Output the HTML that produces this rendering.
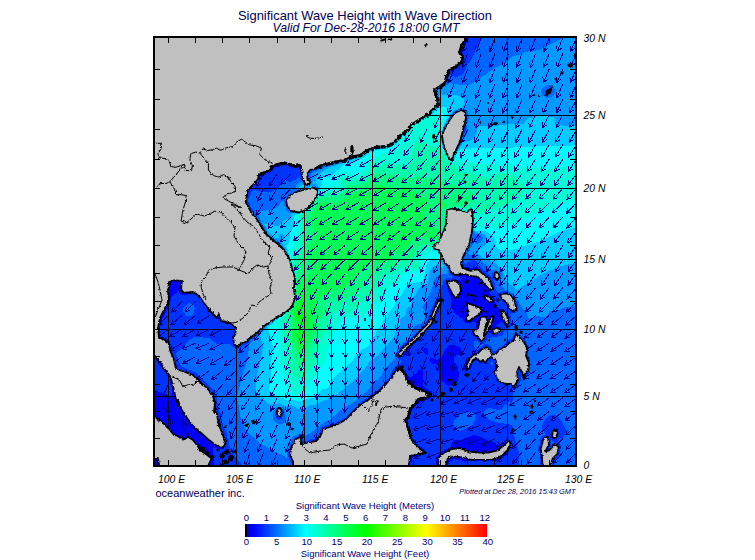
<!DOCTYPE html><html><head><meta charset="utf-8"><title>Significant Wave Height with Wave Direction</title><style>html,body{margin:0;padding:0;background:#fff;width:755px;height:560px;overflow:hidden}</style></head><body><svg width="755" height="560" viewBox="0 0 755 560" style="position:absolute;left:0;top:0">
<defs><linearGradient id="cb" x1="0" x2="1" y1="0" y2="0"><stop offset="0.0000" stop-color="#0000c8"/><stop offset="0.0375" stop-color="#0000ff"/><stop offset="0.2500" stop-color="#00ffff"/><stop offset="0.5000" stop-color="#00ff00"/><stop offset="0.7500" stop-color="#ffff00"/><stop offset="1.0000" stop-color="#ff0000"/></linearGradient><filter id="jag" color-interpolation-filters="sRGB" x="0" y="0" width="755" height="560" filterUnits="userSpaceOnUse"><feTurbulence type="fractalNoise" baseFrequency="0.4" numOctaves="2" seed="3" result="n"/><feDisplacementMap in="SourceGraphic" in2="n" scale="3.0" xChannelSelector="R" yChannelSelector="G"/></filter><clipPath id="mc"><rect x="155" y="38" width="420" height="427"/></clipPath></defs>
<rect width="755" height="560" fill="#fff"/>
<g clip-path="url(#mc)">
<g shape-rendering="crispEdges"><rect x="155" y="38" width="420" height="427" fill="#0000cd"/>
<path fill="#0000ff" d="M157,38 159,38 161,38 163,38 165,38 167,38 169,38 171,38 173,38 175,38 177,38 179,38 181,38 183,38 185,38 187,38 189,38 191,38 193,38 195,38 197,38 199,38 201,38 203,38 205,38 207,38 209,38 211,38 213,38 215,38 217,38 219,38 221,38 223,38 225,38 227,38 229,38 231,38 233,38 235,38 237,38 239,38 241,38 243,38 245,38 247,38 249,38 251,38 253,38 255,38 257,38 259,38 261,38 263,38 265,38 267,38 269,38 271,38 273,38 275,38 277,38 279,38 281,38 283,38 285,38 287,38 289,38 291,38 293,38 295,38 297,38 299,38 301,38 303,38 305,38 307,38 309,38 311,38 313,38 315,38 317,38 319,38 321,38 323,38 325,38 327,38 329,38 331,38 333,38 335,38 337,38 339,38 341,38 343,38 345,38 347,38 349,38 351,38 353,38 355,38 357,38 359,38 361,38 363,38 365,38 367,38 369,38 371,38 373,38 375,38 377,38 379,38 381,38 383,38 385,38 387,38 389,38 391,38 393,38 395,38 397,38 399,38 401,38 403,38 405,38 407,38 409,38 411,38 413,38 415,38 417,38 419,38 421,38 423,38 425,38 427,38 429,38 431,38 433,38 435,38 437,38 439,38 441,38 443,38 445,38 447,38 449,38 451,38 453,38 455,38 457,38 459,38 461,38 463,38 465,38 467,38 469,38 471,38 473,38 475,38 477,38 479,38 481,38 483,38 485,38 487,38 489,38 491,38 493,38 495,38 497,38 499,38 501,38 503,38 505,38 507,38 509,38 511,38 513,38 515,38 517,38 519,38 521,38 523,38 525,38 527,38 529,38 531,38 533,38 535,38 537,38 539,38 541,38 543,38 545,38 547,38 549,38 551,38 553,38 555,38 557,38 559,38 561,38 563,38 565,38 567,38 569,38 571,38 573,38 575,38 575,40 575,42 575,44 575,46 575,48 575,50 575,52 575,54 575,56 575,58 575,60 575,62 575,64 575,66 575,68 575,70 575,72 575,74 575,76 575,78 575,80 575,82 575,84 575,86 575,88 575,90 575,92 575,94 575,96 575,98 575,100 575,102 575,104 575,106 575,108 575,110 575,112 575,114 575,116 575,118 575,120 575,122 575,124 575,126 575,128 575,130 575,132 575,134 575,136 575,138 575,140 575,142 575,144 575,146 575,148 575,150 575,152 575,154 575,156 575,158 575,160 575,162 575,164 575,166 575,168 575,170 575,172 575,174 575,176 575,178 575,180 575,182 575,184 575,186 575,188 575,190 575,192 575,194 575,196 575,198 575,200 575,202 575,204 575,206 575,208 575,210 575,212 575,214 575,216 575,218 575,220 575,222 575,224 575,226 575,228 575,230 575,232 575,234 575,236 575,238 575,240 575,242 575,244 575,246 575,248 575,250 575,252 575,254 575,256 575,258 575,260 575,262 575,264 575,266 575,268 575,270 575,272 575,274 575,276 575,278 575,280 575,282 575,284 575,286 575,288 575,290 575,292 575,294 575,296 575,298 575,300 575,302 575,304 575,306 575,308 575,310 575,312 575,314 575,316 575,318 575,320 575,322 575,324 575,326 575,328 575,330 575,332 575,334 575,336 575,338 575,340 575,342 575,344 575,346 575,348 575,350 575,352 575,354 575,356 575,358 575,360 575,362 575,364 575,366 575,368 575,370 575,372 575,374 575,376 575,378 575,380 575,382 575,384 575,386 575,388 575,390 575,392 575,394 575,396 575,398 575,400 575,402 575,404 575,406 575,408 575,410 575,412 575,414 575,416 575,418 575,420 575,422 575,424 575,426 575,428 575,430 575,432 575,434 575,436 575,438 575,440 575,442 575,444 575,446 575,448 575,450 575,452 575,454 575,456 575,458 575,460 575,462 575,464 575,466 573,466 571,466 569,466 567,466 565,466 563,466 561,466 559,466 557,466 555,466 553,466 551,466 549,466 547,466 545,466 543,466 541,466 539,466 537,466 535,466 533,466 531,466 529,466 527,466 525,466 523,466 521,466 519,466 517,466 515,466 513,466 511,466 509,466 507,466 505,466 503,466 501,466 499,466 497,466 495,466 493,466 491,466 489,466 487,466 485,466 483,466 481,466 479,466 477,466 475,466 473,466 471,466 469,466 467,466 465,466 463,466 461,466 459,466 457,466 455,466 453,466 451,466 449,466 447,466 445,466 443,466 441,466 439,466 437,466 435,466 433,466 431,466 429,466 427,466 425,466 423,466 421,466 419,466 417,466 415,466 413,466 411,466 409,466 407,466 405,466 403,466 401,466 399,466 397,466 395,466 393,466 391,466 389,466 387,466 385,466 383,466 381,466 379,466 377,466 375,466 373,466 371,466 369,466 367,466 365,466 363,466 361,466 359,466 357,466 355,466 353,466 351,466 349,466 347,466 345,466 343,466 341,466 339,466 337,466 335,466 333,466 331,466 329,466 327,466 325,466 323,466 321,466 319,466 317,466 315,466 313,466 311,466 309,466 307,466 305,466 303,466 301,466 299,466 297,466 295,466 293,466 291,466 289,466 287,466 285,466 283,466 281,466 279,466 277,466 275,466 273,466 271,466 269,466 267,466 265,466 263,466 261,466 259,466 257,466 255,466 253,466 251,466 249,466 247,466 245,466 243,466 241,466 239,466 237,466 235,466 233,466 231,466 229,466 227,466 225,466 223,466 221,466 219,466 217,466 215,466 213,466 211,466 209,466 207,466 205,466 203,466 201,466 199,466 197,466 195,466 193,466 191,466 189,466 187,466 185,466 183,466 181,466 179,466 177,466 175,466 173,466 171,466 169,466 167,466 165,466 163,466 161,466 159,466 157,466 155,466 155,464 155,462 155,460 155,458 155,456 155,454 155,452 155,450 155,448 155,446 155,444 155,442 155,440 155,438 155,436 155,434 155,432 155,430 155,428 155,426 155,424 155,422 155,420 155,418 155,416 155,414 155,412 155,410 155,408 155,406 155,404 155,402 155,400 155,398 155,396 155,394 155,392 155,390 155,388 155,386 155,384 155,382 155,380 155,378 155,376 155,374 155,372 155,370 155,368 155,366 155,364 155,362 155,360 155,358 155,356 155,354 155,352 155,350 155,348 155,346 155,344 155,342 155,340 155,338 155,336 155,334 155,332 155,330 155,328 155,326 155,324 155,322 155,320 155,318 155,316 155,314 155,312 155,310 155,308 155,306 155,304 155,302 155,300 155,298 155,296 155,294 155,292 155,290 155,288 155,286 155,284 155,282 155,280 155,278 155,276 155,274 155,272 155,270 155,268 155,266 155,264 155,262 155,260 155,258 155,256 155,254 155,252 155,250 155,248 155,246 155,244 155,242 155,240 155,238 155,236 155,234 155,232 155,230 155,228 155,226 155,224 155,222 155,220 155,218 155,216 155,214 155,212 155,210 155,208 155,206 155,204 155,202 155,200 155,198 155,196 155,194 155,192 155,190 155,188 155,186 155,184 155,182 155,180 155,178 155,176 155,174 155,172 155,170 155,168 155,166 155,164 155,162 155,160 155,158 155,156 155,154 155,152 155,150 155,148 155,146 155,144 155,142 155,140 155,138 155,136 155,134 155,132 155,130 155,128 155,126 155,124 155,122 155,120 155,118 155,116 155,114 155,112 155,110 155,108 155,106 155,104 155,102 155,100 155,98 155,96 155,94 155,92 155,90 155,88 155,86 155,84 155,82 155,80 155,78 155,76 155,74 155,72 155,70 155,68 155,66 155,64 155,62 155,60 155,58 155,56 155,54 155,52 155,50 155,48 155,46 155,44 155,42 155,40 155,38Z"/>
<path fill="#0033ff" d="M339,40 341,38 341,38 343,38 345,38 347,38 349,38 351,38 353,38 355,38 357,38 359,38 361,38 363,38 365,38 367,38 369,38 371,38 373,38 375,38 377,38 379,38 381,38 383,38 385,38 387,38 389,38 391,38 393,38 395,38 397,38 399,38 401,38 403,38 405,38 407,38 409,38 411,38 413,38 415,38 417,38 419,38 421,38 423,38 425,38 427,38 429,38 431,38 433,38 435,38 437,38 439,38 441,38 443,38 445,38 447,38 449,38 451,38 453,38 455,38 457,38 459,38 461,38 463,38 465,38 466,38 465,39 464,40 464,42 463,43 462,44 461,45 460,46 460,48 460,50 460,52 460,54 461,55 462,56 462,58 462,60 463,61 463,60 464,58 464,56 463,54 463,54 462,52 462,50 462,48 463,46 463,46 465,44 465,44 466,42 467,40 467,40 468,38 469,38 471,38 473,38 475,38 477,38 479,38 481,38 483,38 485,38 487,38 489,38 491,38 493,38 495,38 497,38 499,38 501,38 503,38 505,38 507,38 509,38 511,38 513,38 515,38 517,38 519,38 521,38 523,38 525,38 527,38 529,38 531,38 533,38 535,38 537,38 539,38 541,38 543,38 545,38 547,38 549,38 551,38 553,38 555,38 557,38 559,38 561,38 563,38 565,38 567,38 569,38 571,38 573,38 575,38 575,40 575,42 575,44 575,46 575,48 575,50 575,52 575,54 575,56 575,58 575,60 575,62 575,64 575,66 575,68 575,70 575,72 575,74 575,76 575,78 575,80 575,82 575,84 575,86 575,88 575,90 575,92 575,94 575,96 575,98 575,100 575,102 575,104 575,106 575,108 575,110 575,112 575,114 575,116 575,118 575,120 575,122 575,124 575,126 575,128 575,130 575,132 575,134 575,136 575,138 575,140 575,142 575,144 575,146 575,148 575,150 575,152 575,154 575,156 575,158 575,160 575,162 575,164 575,166 575,168 575,170 575,172 575,174 575,176 575,178 575,180 575,182 575,184 575,186 575,188 575,190 575,192 575,194 575,196 575,198 575,200 575,202 575,204 575,206 575,208 575,210 575,212 575,214 575,216 575,218 575,220 575,222 575,224 575,226 575,228 575,230 575,232 575,234 575,236 575,238 575,240 575,242 575,244 575,246 575,248 575,250 575,252 575,254 575,256 575,258 575,260 575,262 575,264 575,266 575,268 575,270 575,272 575,274 575,276 575,278 575,280 575,282 575,284 575,286 575,288 575,290 575,292 575,294 575,296 575,298 575,300 575,302 575,304 575,306 575,308 575,310 575,312 575,314 575,316 575,318 575,320 575,322 575,324 575,326 575,328 575,330 575,332 575,334 575,336 575,338 575,340 575,342 575,344 575,346 575,348 575,350 575,352 575,354 575,356 575,358 575,360 575,362 575,364 575,366 575,368 575,370 575,372 575,374 575,376 575,378 575,380 575,382 575,384 575,386 575,388 575,390 575,392 575,394 575,396 575,398 575,400 575,402 575,404 575,406 575,408 575,410 575,412 575,414 575,416 575,418 575,420 575,422 575,424 575,426 575,428 575,430 575,432 575,434 575,436 575,438 575,440 575,442 575,444 575,446 575,448 575,450 575,452 575,454 575,456 575,458 575,460 575,462 575,464 575,466 573,466 571,466 569,466 567,466 565,466 563,466 561,466 559,466 557,466 555,466 553,466 551,466 549,466 547,466 545,466 543,466 541,466 539,466 537,466 535,466 533,466 531,466 529,466 527,466 525,466 523,466 521,466 519,466 517,466 515,466 513,466 511,466 509,466 507,466 505,466 503,466 501,466 499,466 497,466 495,466 493,466 491,466 489,466 487,466 485,466 483,466 481,466 479,466 477,466 475,466 473,466 471,466 469,466 467,466 465,466 463,466 461,466 459,466 457,466 455,466 453,466 451,466 449,466 448,466 448,464 449,462 449,462 451,461 452,460 453,459 455,459 457,460 459,460 461,460 461,460 463,461 465,462 467,461 469,461 471,461 473,461 475,461 477,461 479,461 481,461 483,461 485,461 487,461 489,461 491,461 493,461 495,461 497,461 499,461 500,460 501,458 501,458 503,457 505,456 505,456 507,454 507,454 508,452 507,451 506,452 505,453 504,454 503,455 501,455 500,456 499,457 498,458 497,459 495,458 493,458 491,458 489,458 487,458 485,458 483,458 481,458 479,458 477,458 475,458 473,458 471,458 469,458 467,458 465,458 465,458 465,457 467,457 469,457 471,457 473,456 475,456 477,456 479,456 481,456 483,457 485,457 487,457 489,457 491,456 492,456 493,456 495,454 495,454 496,452 497,452 499,450 499,450 500,448 501,447 502,446 503,445 505,445 506,444 505,443 503,443 501,444 500,444 499,445 497,446 497,446 497,446 496,444 495,443 493,442 493,442 491,441 489,441 487,440 486,440 485,439 483,438 482,438 481,437 479,436 478,436 477,436 475,435 473,435 471,436 470,436 469,437 467,437 466,438 465,438 463,439 461,440 459,440 457,440 455,440 455,440 453,441 452,442 451,444 451,446 451,446 449,448 449,448 447,449 445,450 445,450 443,451 441,452 441,452 439,454 439,454 437,456 437,456 436,458 436,460 436,462 436,464 436,466 435,466 433,466 431,466 429,466 427,466 425,466 423,466 421,466 419,466 417,466 415,466 413,466 411,466 410,466 410,464 409,464 409,464 409,466 407,466 405,466 403,466 401,466 399,466 397,466 395,466 393,466 391,466 389,466 387,466 385,466 383,466 381,466 379,466 377,466 375,466 373,466 371,466 369,466 367,466 365,466 363,466 361,466 359,466 357,466 355,466 353,466 351,466 349,466 347,466 345,466 343,466 341,466 339,466 337,466 335,466 333,466 331,466 329,466 327,466 325,466 323,466 321,466 319,466 317,466 315,466 313,466 311,466 309,466 307,466 305,466 303,466 301,466 299,466 297,466 295,466 293,466 291,466 289,466 287,466 285,466 283,466 281,466 279,466 277,466 275,466 273,466 271,466 269,466 267,466 265,466 263,466 261,466 259,466 257,466 255,466 253,466 251,466 249,466 247,466 245,466 243,466 241,466 239,466 237,466 235,466 233,466 231,466 229,466 227,466 225,466 223,466 221,466 219,466 217,466 215,466 213,466 214,464 214,462 214,460 213,458 213,456 213,454 213,452 213,450 213,448 215,448 216,448 217,449 219,449 221,449 223,449 224,448 223,447 221,447 219,447 218,446 217,445 215,444 215,444 213,442 213,442 213,440 212,438 212,436 211,434 211,434 210,432 209,430 209,430 207,428 207,427 206,426 205,425 204,424 203,422 203,422 201,420 201,419 200,418 199,417 198,416 197,414 197,414 195,412 195,412 193,410 193,410 191,408 191,408 189,406 189,406 187,404 186,404 185,403 184,402 183,402 181,401 180,400 179,400 177,399 177,398 177,396 175,395 174,394 174,392 174,390 174,388 174,386 173,385 171,386 172,388 172,390 172,392 171,394 171,396 171,396 170,396 169,396 167,395 165,394 165,394 163,393 161,393 159,392 159,392 157,391 155,390 155,390 155,388 155,386 155,384 155,382 155,380 155,378 155,376 155,374 155,372 155,370 155,368 155,366 155,364 155,362 155,360 155,360 156,358 156,356 155,355 155,354 155,352 155,350 155,348 155,346 155,344 155,342 155,340 155,338 155,336 155,334 155,332 155,330 155,328 155,326 155,324 155,322 155,320 155,318 155,316 155,315 155,314 157,312 157,311 158,310 159,308 159,308 161,306 161,306 162,304 163,303 164,302 165,301 166,300 167,299 167,300 167,302 167,302 165,304 166,306 165,307 163,308 164,310 163,311 161,312 162,314 161,315 159,316 160,318 160,320 160,322 159,323 158,324 158,326 158,328 158,330 158,332 158,334 158,336 158,338 159,339 161,339 163,339 164,340 165,341 167,341 169,340 167,339 165,338 165,338 163,337 161,337 160,336 160,334 160,332 160,330 160,328 160,326 161,325 162,324 162,322 162,320 162,318 163,317 164,316 164,314 165,313 166,312 166,310 167,309 168,308 168,306 169,305 170,304 170,302 171,300 171,298 171,297 172,296 173,295 174,294 175,294 177,292 177,292 179,291 179,292 180,294 181,294 183,295 185,295 187,295 189,294 191,294 192,294 191,294 189,293 187,293 185,293 183,293 182,292 182,290 183,288 183,286 183,284 183,282 183,282 184,280 184,278 184,276 184,274 184,272 184,270 184,268 184,266 184,264 184,262 184,260 184,258 184,256 184,254 184,252 184,250 184,248 184,246 184,244 184,242 184,240 184,238 185,236 185,234 185,234 185,232 186,230 186,228 187,226 187,225 187,224 188,222 188,220 189,218 189,218 190,216 191,214 191,213 191,212 192,210 193,209 193,208 194,206 195,205 195,204 197,202 197,201 198,200 199,198 199,198 201,196 201,195 202,194 203,193 204,192 205,191 205,190 207,188 207,188 209,186 209,186 211,184 211,184 213,183 214,182 215,181 216,180 217,179 219,178 219,178 221,177 222,176 223,175 225,174 225,174 227,173 229,172 229,172 231,171 233,170 234,170 235,169 237,169 239,168 239,168 241,168 243,167 245,167 247,166 248,166 249,166 251,165 253,165 255,165 257,164 259,164 260,164 261,164 263,163 265,163 267,163 269,162 269,162 271,161 273,161 275,160 277,160 277,160 279,160 281,159 283,159 285,158 285,158 287,157 288,156 289,154 289,154 290,152 291,150 291,149 291,148 292,146 292,144 293,142 293,141 293,140 294,138 294,136 295,134 295,133 295,132 296,130 296,128 297,126 297,124 297,124 297,122 298,120 298,118 299,116 299,116 299,114 300,112 300,110 301,108 301,108 302,106 302,104 303,102 303,101 303,100 304,98 305,96 305,95 305,94 306,92 307,90 307,90 308,88 309,86 309,85 309,84 310,82 311,80 311,80 312,78 313,76 313,76 314,74 315,72 315,72 316,70 317,68 317,68 318,66 319,65 320,64 321,62 321,62 322,60 323,59 324,58 325,56 325,56 326,54 327,53 328,52 329,51 330,50 331,48 331,48 333,46 333,46 335,44 335,44 337,42 337,42 339,40ZM458,64 459,66 460,64 459,63ZM456,66 457,67 459,66 457,65ZM453,68 453,69 455,68 456,68 455,67 453,68ZM449,70 449,72 449,72 449,72 451,70 452,70 451,70 449,70ZM277,164 277,164 275,164 273,164 271,166 271,166 270,168 269,169 268,170 267,171 265,171 264,172 263,173 261,173 259,173 258,174 258,176 258,178 258,180 259,181 260,180 260,178 260,176 261,175 263,175 265,174 265,174 267,173 269,172 270,172 271,171 272,170 273,169 274,168 275,167 277,167 279,167 280,166 281,165 283,165 285,165 287,165 288,166 289,167 291,167 293,167 295,167 297,167 299,168 299,168 300,170 301,172 301,174 301,172 301,170 301,168 301,167 300,166 299,165 297,165 295,165 293,165 291,165 290,164 289,162 287,162 285,162 283,162 281,162 279,162ZM465,268 465,268 467,269 468,270 469,272 467,274 467,274 465,274 464,274 463,273 462,274 461,275 459,276 457,276 455,276 457,276 459,277 461,278 462,278 461,279 460,280 459,280 458,280 457,280 455,279 453,280 451,280 449,280 451,280 453,281 455,281 456,282 456,284 455,285 454,286 453,288 453,289 452,290 451,290 451,290 450,288 449,287 447,288 448,290 448,292 449,293 449,294 450,296 451,298 451,300 451,302 451,304 451,305 451,306 452,308 453,310 453,311 454,312 455,314 455,314 457,315 458,316 459,317 461,318 462,318 463,319 463,320 464,322 465,323 467,323 469,323 471,323 473,322 473,322 475,322 476,322 476,324 476,326 475,328 477,329 478,328 478,326 479,325 481,324 481,324 481,324 483,325 485,325 485,326 487,327 489,326 490,328 489,329 488,330 488,332 489,333 491,333 492,332 492,330 493,329 495,329 497,329 499,329 500,328 499,327 497,326 495,326 497,325 498,324 499,323 500,322 501,321 502,322 503,324 504,322 504,320 503,319 502,318 502,316 502,314 501,313 501,312 501,311 503,311 504,310 503,309 501,309 499,309 498,308 497,307 496,306 495,304 495,303 495,302 495,300 494,298 493,297 492,296 491,295 490,294 489,292 489,292 489,292 491,291 492,290 491,289 489,289 488,288 487,287 486,286 485,284 485,284 483,282 483,282 483,280 481,278 481,278 480,276 479,275 478,274 477,273 475,272 475,272 475,270 475,269 477,269 478,270 479,271 480,270 479,269 478,268 477,267 475,267 473,267 472,268 471,268 470,268 469,267 467,267 465,267ZM480,272 481,273 483,272 483,272 483,272 481,271ZM446,284 447,286 447,287 448,286 447,284 447,284ZM196,296 197,296 199,298 199,298 199,298 199,296 199,296 197,296ZM443,300 443,302 443,303 444,302 444,300 443,299ZM441,304 441,306 441,307 441,306 442,304 441,304ZM219,314 219,316 217,318 216,318 217,318 219,320 219,321 219,320 219,318 219,316 219,314 219,314ZM220,322 221,322 223,322 225,323 225,322 225,322 223,322 221,322ZM503,324 505,326 505,327 505,326 505,324 505,324ZM473,330 475,331 476,330 475,328ZM472,332 473,334 473,335 473,334 473,332 473,331ZM485,334 485,336 485,338 485,336 487,334 488,334 487,334 485,334ZM492,334 493,334 495,334 497,334 499,334 499,334 499,334 497,334 495,334 493,334ZM168,342 168,344 169,344 170,344 170,342 169,340ZM171,346 171,348 171,350 171,352 171,352 171,352 171,350 171,348 171,346 171,345ZM448,346 447,347 446,348 445,350 445,350 444,352 443,353 443,354 442,356 441,357 440,358 439,359 437,360 435,359 433,358 432,358 431,358 430,358 429,360 430,362 431,363 433,364 435,364 436,364 437,364 438,366 439,368 439,368 439,370 439,370 439,372 439,373 439,374 440,376 441,378 441,379 442,380 443,382 443,382 445,384 445,384 447,385 449,386 451,385 453,385 454,384 455,383 456,382 457,381 458,380 458,378 459,376 459,374 459,372 458,370 458,368 457,366 457,366 456,364 455,363 453,362 453,361 453,360 453,359 453,358 455,356 455,356 457,355 459,355 461,354 461,354 462,352 461,350 461,349 460,348 459,347 457,346 457,346 455,345 453,345 451,345 449,345ZM408,348 407,349 406,350 405,351 404,352 403,354 403,354 403,356 403,357 404,356 405,355 407,355 409,356 411,354 410,352 410,350 411,348 409,348ZM424,348 423,349 422,350 423,352 423,352 425,354 425,354 427,355 428,354 428,352 428,350 427,348 426,348 425,348ZM468,358 467,360 467,360 466,362 465,364 465,364 464,366 464,368 464,370 465,371 467,371 469,370 469,370 471,368 471,368 472,366 472,364 471,363 470,364 470,366 469,367 468,368 467,369 466,368 466,366 467,365 468,364 468,362 469,361 470,360 470,358 469,356ZM477,358 475,360 473,360 473,360 472,362 473,363 473,362 475,360 477,361 477,360 477,358 477,358ZM155,360 157,362 158,360 157,359ZM483,360 481,362 479,362 478,362 479,362 481,362 483,362 483,362 483,360 483,360ZM157,362 159,364 160,362 159,361ZM159,364 160,366 161,368 162,366 162,364 161,363ZM161,368 163,369 164,368 163,367ZM164,370 164,372 165,373 165,372 165,370 165,369ZM419,370 417,371 417,372 415,374 415,374 413,375 412,376 411,377 409,377 408,376 407,374 407,374 406,372 405,371 405,372 404,374 405,375 406,376 406,378 407,379 408,380 408,382 409,384 409,384 411,386 411,386 412,388 413,389 414,390 415,392 415,393 415,394 416,396 417,398 417,399 417,400 417,400 416,402 415,403 414,404 413,405 412,406 411,407 410,408 410,410 411,412 412,410 413,408 413,408 415,406 415,406 417,405 418,404 419,403 421,402 421,402 423,402 425,400 426,400 427,400 429,399 430,398 431,397 432,396 432,394 432,392 431,391 429,391 428,390 427,389 425,388 425,388 423,386 423,386 423,384 423,382 423,380 423,380 423,378 423,376 423,374 423,373 423,372 421,370 421,370 419,370ZM495,370 495,372 495,374 495,376 495,378 495,379 495,378 495,376 495,374 495,372 495,370 495,369ZM168,376 169,378 169,379 169,378 169,376 169,376ZM170,380 170,382 170,384 171,386 172,384 171,382 171,380 171,380ZM215,400 215,402 215,404 215,406 215,408 215,410 215,410 215,410 215,408 215,406 215,404 215,402 215,400 215,400ZM408,412 408,414 408,416 409,417 410,416 410,414 411,412 409,411ZM219,416 219,418 219,420 219,422 219,424 219,424 219,424 219,422 219,420 219,418 219,416 219,416ZM407,422 407,424 407,425 408,424 408,422 407,421ZM408,426 408,428 408,430 408,432 409,433 410,432 410,430 410,428 410,426 409,425ZM552,430 553,431 555,431 557,431 558,430 557,429 555,429 553,429ZM551,432 551,434 551,436 551,436 551,436 551,434 551,432 551,431ZM410,434 410,436 410,438 411,439 412,438 412,436 412,434 411,433ZM412,440 412,442 413,443 414,442 414,440 413,439ZM511,442 511,444 511,446 511,447 511,446 511,444 511,442 511,442ZM414,444 415,445 416,444 415,443ZM416,446 417,447 418,446 417,445ZM418,448 419,449 421,449 423,448 421,447 419,446ZM508,448 508,450 509,451 509,450 510,448 509,448ZM422,450 423,451 425,450 423,448ZM424,452 425,454 426,452 425,450ZM418,454 419,455 421,455 423,455 425,454 423,453 421,453 419,453ZM410,456 410,458 410,460 410,462 411,463 412,462 412,460 412,458 413,457 415,457 417,457 418,456 417,455 415,455 413,455 411,455ZM451,449 453,450 453,450 454,452 455,453 456,454 457,455 459,456 457,456 455,456 453,457 451,457 450,458 449,459 448,460 447,461 446,462 446,464 446,466 445,466 443,466 441,466 439,466 438,466 438,464 438,462 438,460 438,458 439,457 440,456 441,455 442,454 443,453 445,453 446,452 447,451 449,451 450,450Z"/>
<path fill="#0066ff" d="M481,39 482,38 483,38 485,38 487,38 489,38 491,38 493,38 495,38 497,38 499,38 501,38 503,38 505,38 507,38 509,38 511,38 513,38 515,38 517,38 519,38 521,38 523,38 525,38 527,38 529,38 531,38 533,38 535,38 537,38 539,38 541,38 543,38 545,38 547,38 549,38 551,38 553,38 555,38 557,38 559,38 561,38 563,38 565,38 567,38 569,38 571,38 573,38 575,38 575,40 575,42 575,44 575,46 575,48 575,50 575,52 575,54 575,56 575,58 575,60 575,62 575,64 575,66 575,68 575,70 575,72 575,74 575,76 575,78 575,80 575,82 575,84 575,86 575,88 575,90 575,92 575,94 575,96 575,98 575,100 575,102 575,104 575,106 575,108 575,110 575,112 575,114 575,116 575,118 575,120 575,122 575,124 575,126 575,128 575,130 575,132 575,134 575,136 575,138 575,140 575,142 575,144 575,146 575,148 575,150 575,152 575,154 575,156 575,158 575,160 575,162 575,164 575,166 575,168 575,170 575,172 575,174 575,176 575,178 575,180 575,182 575,184 575,186 575,188 575,190 575,192 575,194 575,196 575,198 575,200 575,202 575,204 575,206 575,208 575,210 575,212 575,214 575,216 575,218 575,220 575,222 575,224 575,226 575,228 575,230 575,232 575,234 575,236 575,238 575,240 575,242 575,244 575,246 575,248 575,250 575,252 575,254 575,256 575,258 575,260 575,262 575,264 575,266 575,268 575,270 575,272 575,274 575,276 575,278 575,280 575,282 575,284 575,286 575,288 575,290 575,292 575,294 575,296 575,298 575,300 575,302 575,304 575,306 575,308 575,310 575,312 575,314 575,316 575,318 575,320 575,322 575,324 575,326 575,328 575,330 575,332 575,334 575,336 575,338 575,340 575,342 575,344 575,346 575,348 575,350 575,352 575,354 575,356 575,358 575,360 575,362 575,364 575,366 575,368 575,370 575,372 575,374 575,376 575,378 575,380 575,382 575,384 575,386 575,388 575,390 575,392 575,394 575,396 575,398 575,400 575,402 575,404 575,406 575,408 575,410 575,412 575,414 575,416 575,418 575,420 575,422 575,424 575,426 575,428 575,430 575,432 575,434 575,436 575,438 575,440 575,442 575,444 575,446 575,448 575,450 575,452 575,454 575,456 575,458 575,460 575,462 575,464 575,466 573,466 571,466 569,466 567,466 565,466 563,466 561,466 559,466 557,466 555,466 554,466 554,464 554,462 555,461 556,460 557,459 558,458 559,457 560,456 560,454 560,452 560,450 561,448 561,446 560,444 559,442 557,442 555,442 553,443 552,444 551,445 551,444 551,442 551,440 551,440 551,440 553,442 555,442 557,442 559,440 559,439 561,438 562,438 563,437 564,436 565,434 565,434 566,432 566,430 565,428 565,428 564,426 563,424 563,424 562,422 561,421 560,420 559,418 559,418 557,416 557,416 555,415 553,415 551,415 549,416 549,416 547,417 546,418 545,419 545,420 543,422 543,423 543,424 542,426 542,428 543,430 543,431 544,432 545,434 543,436 543,436 541,437 540,438 539,440 540,442 540,444 539,445 538,446 538,448 538,450 538,452 539,453 540,454 540,456 540,458 540,460 540,462 540,464 540,466 539,466 537,466 535,466 533,466 531,466 529,466 527,466 525,466 523,466 521,466 519,466 519,464 519,462 519,460 519,458 519,456 519,456 519,454 519,452 518,450 518,448 517,446 517,445 517,444 516,442 515,440 515,438 515,438 514,436 514,434 514,432 513,430 513,428 513,426 513,426 511,425 509,424 507,424 507,424 505,424 503,423 501,423 499,423 497,422 496,422 495,422 493,421 491,421 490,420 489,420 487,418 487,418 485,416 484,416 483,414 483,412 485,410 485,410 487,409 489,408 491,408 493,409 495,409 497,410 497,410 499,410 499,410 501,409 502,408 503,407 504,406 505,404 506,404 507,403 509,402 511,402 512,402 513,400 513,399 513,398 513,396 513,394 513,394 513,392 512,390 513,389 514,388 515,388 517,388 519,386 519,384 519,384 520,382 521,380 521,378 521,377 523,378 525,377 526,376 527,375 528,374 529,373 530,372 530,370 530,368 530,366 530,364 530,362 530,360 530,358 529,357 528,356 528,354 528,352 528,350 528,348 528,346 527,344 527,344 526,342 525,340 525,340 523,338 523,338 521,336 520,338 521,339 522,340 523,341 524,342 524,344 525,345 526,346 526,348 526,350 526,352 526,354 526,356 526,358 527,359 528,360 528,362 528,364 528,366 528,368 528,370 527,371 526,372 525,373 524,374 523,375 522,374 522,372 521,371 520,370 520,368 519,367 518,368 518,370 517,371 515,372 517,374 517,374 517,376 517,378 517,380 517,380 515,382 515,384 515,384 513,384 513,384 511,382 509,382 508,382 507,380 507,380 505,378 505,378 504,376 503,375 502,374 501,373 500,372 499,371 497,370 497,370 497,368 497,368 499,366 497,364 497,364 497,362 497,360 495,358 495,358 493,356 491,356 489,358 489,358 487,360 487,360 485,360 485,360 483,358 483,358 481,356 481,356 479,354 481,352 481,352 483,350 483,350 485,348 485,348 487,347 488,348 489,349 490,350 489,352 491,354 491,354 493,356 495,356 496,354 497,353 498,352 499,351 500,350 501,349 503,349 504,348 505,347 506,346 507,345 508,344 509,343 510,342 511,341 513,341 514,340 514,338 515,337 516,336 517,335 518,336 519,337 521,336 519,334 519,334 517,333 515,334 515,334 513,336 513,336 512,338 511,339 509,339 508,340 507,341 506,342 505,343 504,344 503,345 502,346 501,347 499,347 498,348 497,349 496,350 495,351 493,351 493,350 492,348 491,347 490,346 489,345 487,344 485,344 483,345 482,346 481,347 480,348 479,348 477,350 477,350 476,350 475,348 475,348 474,346 474,344 474,342 475,340 475,340 475,340 477,341 478,342 479,343 481,344 483,344 485,343 486,342 487,340 487,339 489,338 489,338 491,338 493,337 495,337 497,337 499,336 499,336 501,336 503,334 503,333 504,332 505,330 505,330 507,330 509,329 510,328 511,326 511,324 511,322 511,320 511,318 511,316 510,314 511,313 513,313 515,313 517,312 517,312 518,310 518,308 518,306 518,304 517,302 517,302 516,300 515,299 514,300 514,302 515,303 516,304 516,306 516,308 516,310 515,311 513,311 512,310 511,309 510,308 509,306 509,306 508,304 507,303 506,302 505,300 505,300 503,298 503,298 501,296 501,296 501,296 502,294 503,293 505,293 507,293 508,292 507,292 505,291 503,291 501,291 500,292 499,293 497,292 497,292 496,290 495,288 495,288 495,286 495,284 494,282 493,281 493,280 493,279 494,280 495,281 497,281 498,280 497,279 496,278 495,277 494,276 494,274 493,272 492,274 492,276 491,277 490,276 489,275 488,274 487,273 486,272 485,271 483,270 483,270 481,268 481,268 479,266 479,266 478,264 477,263 476,262 475,261 474,260 473,260 471,259 469,260 469,260 467,262 467,262 465,264 465,264 465,264 464,262 464,260 464,258 463,258 463,258 463,260 462,262 462,264 462,266 463,268 463,268 463,269 462,270 461,271 460,272 459,273 458,274 457,274 455,275 454,274 453,273 451,273 449,274 451,275 452,276 452,278 451,278 449,278 447,278 445,279 444,280 443,282 443,284 443,284 442,286 441,288 441,290 441,290 441,292 440,294 440,296 439,296 437,297 436,298 436,300 435,301 434,302 433,304 433,305 432,306 432,308 431,309 430,310 430,312 430,314 429,315 428,316 428,318 427,320 427,320 426,322 425,324 425,324 423,326 423,326 421,328 421,328 419,330 419,330 417,332 417,332 415,334 415,334 413,336 413,336 411,338 411,338 409,340 409,340 407,342 407,342 405,343 403,344 403,344 401,346 401,347 400,348 399,350 399,350 398,352 397,353 396,354 396,356 397,358 397,358 399,359 401,360 401,362 400,364 399,364 397,365 396,366 395,367 394,368 393,369 392,370 392,372 391,373 390,374 390,376 389,377 388,378 387,379 386,380 385,381 385,382 383,384 383,384 381,386 381,386 379,388 379,388 377,390 377,390 375,392 375,392 373,393 371,394 371,394 369,396 369,396 367,398 367,398 365,399 363,400 363,400 361,402 361,402 359,404 359,404 357,406 357,406 355,408 355,408 353,410 353,410 351,412 351,412 349,414 349,414 347,416 347,416 345,418 345,418 343,419 341,420 341,420 339,421 337,422 337,422 335,423 333,423 331,424 331,424 329,425 327,425 325,426 325,426 323,427 321,428 321,428 320,430 320,432 319,434 319,434 318,436 317,438 317,438 315,439 313,439 311,439 309,440 309,440 307,441 305,441 303,440 302,442 303,443 305,443 307,443 309,443 310,442 311,441 313,441 315,441 317,441 318,440 319,439 320,438 320,436 321,435 322,434 322,432 322,430 323,429 325,429 326,428 327,427 329,427 331,427 332,426 333,425 335,425 337,425 338,424 339,423 341,423 342,422 343,421 345,421 346,420 347,419 348,418 349,417 350,416 351,415 352,414 353,413 354,412 355,411 356,410 357,409 358,408 359,407 360,406 361,405 362,404 363,403 364,402 365,401 367,401 368,400 369,399 370,398 371,397 372,396 373,395 375,395 376,394 377,393 378,392 379,391 380,390 381,389 382,388 383,387 384,386 385,385 386,384 387,383 388,382 389,381 390,380 391,379 393,378 393,376 393,376 395,374 395,372 395,372 397,370 397,370 399,368 399,368 399,368 399,370 399,370 398,372 398,374 397,376 397,376 396,378 396,380 395,382 395,382 395,384 394,386 394,388 393,390 393,391 393,392 392,394 392,396 391,398 391,399 391,400 390,402 389,404 389,405 389,406 388,408 387,410 387,410 386,412 385,414 385,415 384,416 383,418 383,419 383,420 382,422 381,423 381,424 380,426 379,427 378,428 377,430 377,431 376,432 375,434 375,435 374,436 373,438 373,439 372,440 371,442 371,443 370,444 369,446 369,447 368,448 367,450 367,451 367,452 366,454 365,455 365,456 364,458 363,459 363,460 362,462 361,463 360,464 359,466 359,466 357,466 355,466 353,466 351,466 349,466 347,466 345,466 343,466 341,466 339,466 337,466 335,466 333,466 331,466 329,466 327,466 325,466 323,466 321,466 319,466 317,466 315,466 313,466 311,466 309,466 307,466 305,466 303,466 301,466 299,466 297,466 295,466 294,466 294,464 294,462 293,461 291,462 292,464 292,466 291,466 289,466 287,466 285,466 283,466 281,466 279,466 277,466 275,466 273,466 271,466 269,466 267,466 265,466 263,466 261,466 259,466 257,466 255,466 253,466 251,466 249,466 247,466 245,466 243,466 243,466 241,464 241,464 239,462 239,462 238,460 237,459 236,458 235,456 235,456 234,454 233,453 233,452 231,450 231,449 230,448 230,446 229,445 229,444 229,442 229,440 227,438 227,436 227,436 227,434 226,432 225,431 225,430 224,428 223,426 223,425 223,424 222,422 222,420 221,418 221,416 221,416 221,414 220,412 219,410 219,409 219,408 218,406 218,404 217,402 217,400 217,400 217,398 217,396 215,394 215,394 215,392 213,390 213,390 211,388 211,388 209,386 209,386 207,384 207,384 205,382 205,382 203,380 203,380 201,378 201,378 199,376 199,376 197,374 197,374 195,372 193,372 193,372 191,370 189,370 187,370 187,370 185,368 184,368 183,367 181,366 181,366 180,364 179,362 179,362 178,360 178,358 177,356 177,356 176,354 177,352 177,352 179,351 180,350 181,349 182,348 183,347 184,346 185,345 186,344 187,342 187,342 189,340 189,340 191,339 192,338 193,338 195,337 197,337 199,337 201,337 203,337 205,338 207,338 209,338 209,338 211,340 211,340 213,342 214,342 215,343 217,344 219,344 219,344 221,344 223,344 225,344 227,344 229,344 231,345 231,346 233,347 234,348 235,349 237,350 239,349 240,348 241,347 242,346 243,345 245,345 247,344 247,344 249,342 249,342 250,340 249,339 248,340 247,341 246,342 245,343 243,343 241,343 240,344 239,345 237,346 237,346 237,346 235,344 235,344 235,342 235,340 235,338 235,338 237,336 237,334 237,332 237,330 237,328 235,326 235,326 233,324 233,324 231,322 229,322 229,322 228,320 227,318 227,318 225,316 225,315 224,314 223,312 223,312 222,310 221,309 220,308 219,306 219,306 217,304 217,304 216,302 215,301 214,300 213,298 213,298 211,296 211,295 210,294 209,292 209,290 209,290 208,288 208,286 208,284 208,282 208,280 208,278 208,276 208,274 208,272 208,270 208,268 208,266 208,264 208,262 208,260 208,258 209,256 209,254 209,252 209,252 209,250 209,248 210,246 210,244 211,242 211,240 211,240 211,238 212,236 212,234 213,232 213,232 214,230 215,228 215,227 215,226 216,224 217,222 217,222 218,220 219,218 219,218 220,216 221,215 222,214 223,212 223,212 225,210 225,210 226,208 227,207 228,206 229,205 230,204 231,203 232,202 233,201 234,200 235,199 237,198 237,198 239,196 239,196 241,195 242,194 243,194 245,192 246,192 247,191 247,192 247,194 247,194 245,196 245,198 246,200 246,202 246,204 247,205 248,206 248,208 249,209 250,210 251,211 252,212 252,214 253,215 254,214 254,212 253,210 253,210 251,208 251,208 250,206 250,204 249,203 248,202 248,200 249,198 249,197 250,196 251,194 251,192 251,192 253,190 255,190 257,191 259,191 261,192 263,192 263,192 265,192 267,192 269,192 270,192 271,192 273,191 275,190 276,190 277,189 278,188 279,187 280,186 281,184 281,184 282,182 283,181 285,180 287,181 289,182 291,182 293,181 294,180 295,180 297,178 297,178 299,177 299,178 301,180 301,180 303,182 303,182 303,182 303,180 303,179 302,178 302,176 303,174 303,172 303,172 304,170 305,168 305,168 306,166 307,164 307,164 308,162 309,160 309,160 310,158 311,156 311,156 312,154 313,152 313,151 314,150 314,148 315,147 315,146 316,144 317,142 317,142 318,140 319,138 319,137 320,136 320,134 321,132 321,132 322,130 323,128 323,127 323,126 324,124 325,122 325,122 326,120 327,118 327,117 328,116 328,114 329,112 329,112 330,110 331,108 331,108 332,106 333,104 333,104 334,102 335,100 335,100 336,98 337,96 337,96 338,94 339,92 339,92 341,90 341,89 342,88 343,86 343,86 345,84 345,83 346,82 347,81 348,80 349,78 349,78 351,76 351,76 353,74 353,74 355,72 355,72 357,70 357,70 359,68 359,68 361,67 362,66 363,65 365,64 365,64 367,62 368,62 369,61 371,60 371,60 373,59 375,58 375,58 377,57 379,56 380,56 381,56 383,55 385,54 386,54 387,54 389,53 391,53 393,53 395,52 397,52 399,52 401,52 403,52 405,52 407,52 409,53 411,53 413,53 415,54 416,54 417,54 419,55 421,56 422,56 423,56 425,57 427,58 427,58 429,59 431,60 431,60 433,61 434,62 435,63 437,64 437,64 439,65 440,66 441,67 443,68 443,68 445,70 445,70 447,71 447,72 447,72 445,74 446,76 446,78 446,80 446,82 447,83 448,82 448,80 448,78 449,76 449,76 451,75 453,76 453,76 455,78 455,78 455,78 457,77 459,76 459,76 461,75 462,74 463,73 464,72 465,70 465,70 466,68 467,66 467,64 467,64 469,62 469,62 471,60 471,60 472,58 473,56 473,56 474,54 475,52 475,50 475,50 476,48 477,47 478,46 479,44 479,44 480,42 480,40ZM443,84 443,85 445,84 446,84 445,83 443,83ZM467,114 467,116 466,118 466,120 467,121 467,120 467,118 467,116 467,114 467,113ZM460,122 460,124 461,126 461,124 462,122 461,121ZM463,122 464,124 464,126 463,128 463,128 463,128 461,126 461,128 461,130 461,131 461,132 462,134 462,136 463,137 464,136 464,134 465,132 465,131 466,130 466,128 466,126 465,124 466,122 465,121ZM321,166 321,167 323,166 325,166 325,166 325,166 323,166 321,166ZM316,168 317,169 319,168 320,168 319,168 317,167ZM310,170 309,171 308,172 307,173 306,174 307,175 309,174 309,174 311,172 311,172 313,171 315,170 316,170 315,169 313,169 311,169ZM308,176 309,178 309,180 309,180 309,180 309,178 309,176 309,174ZM284,200 285,202 285,204 285,205 285,204 285,202 285,200 285,199ZM471,236 471,238 471,240 471,242 471,244 471,245 471,244 471,242 471,240 471,238 471,236 471,236ZM476,236 476,238 477,239 479,239 479,238 480,236 479,236 477,236ZM449,270 449,272 449,274 449,272 449,270 449,269ZM493,272 495,273 497,272 498,272 497,272 495,272ZM508,294 509,295 511,294 512,294 511,294 509,293ZM513,296 512,298 513,299 514,298 513,296 513,295ZM253,336 253,337 255,336 256,336 255,336 253,336ZM283,410 282,412 282,414 281,415 280,416 279,416 278,416 278,414 277,413 275,414 276,416 276,418 277,419 279,420 279,420 279,420 281,419 282,418 283,416 283,416 284,414 284,412 283,410 283,409ZM294,438 295,439 297,439 298,438 297,437 295,437ZM300,438 300,440 301,441 303,440 302,438 301,436ZM293,440 292,442 293,442 293,442 293,440 293,439ZM291,444 291,446 290,448 291,448 291,448 291,446 291,444 291,443ZM289,450 288,452 288,454 288,456 289,458 290,456 290,454 290,452 289,450 289,449ZM289,458 290,460 291,462 292,460 292,458 291,457ZM189,303 191,304 192,304 193,305 194,306 195,308 194,310 194,312 193,314 193,314 191,316 190,316 189,316 187,316 187,316 185,315 185,314 183,312 183,310 183,308 185,306 185,306 187,304 187,304ZM437,304 438,304 437,306 437,308 437,306 437,304ZM435,308 437,308 437,310 435,312 435,314 435,314 433,316 433,318 433,320 433,320 431,322 431,324 431,324 429,326 429,326 427,328 427,328 425,330 425,330 423,331 423,330 423,330 424,328 425,327 426,326 427,325 428,324 428,322 429,321 430,320 430,318 431,317 433,316 433,314 433,312 433,312 435,310 435,308ZM419,334 420,334 419,336 419,336 417,338 417,338 415,340 415,340 413,342 413,342 411,344 411,344 409,346 408,344 409,343 410,342 411,341 412,340 413,339 414,338 415,337 416,336 417,335 419,334ZM479,338 481,338 483,338 483,338 483,340 483,340 481,340 481,340 479,338 479,338ZM405,345 407,346 408,346 407,347 405,348 405,348 403,350 403,351 403,350 402,348 403,347 404,346ZM401,351 402,352 401,354 401,356 401,356 399,357 398,356 398,354 399,353 400,352ZM491,362 493,362 493,362 493,364 493,366 493,366 493,366 491,365 490,364 491,362ZM191,376 193,376 193,376 195,378 195,378 195,380 193,378 193,378 191,377 190,376ZM463,413 465,412 467,412 469,412 471,412 473,413 475,414 475,414 476,416 475,418 475,419 475,420 474,422 473,424 473,424 471,426 470,426 469,427 467,428 466,428 465,429 463,430 463,430 461,431 459,431 457,430 456,430 455,428 455,428 454,426 453,424 454,422 454,420 455,419 456,418 457,417 458,416 459,415 461,414 461,414ZM547,438 547,438 547,440 547,442 548,444 548,446 548,448 547,449 546,450 547,451 549,451 550,450 551,449 552,448 553,447 554,446 555,445 557,446 557,446 558,448 558,450 558,452 558,454 557,455 556,456 555,457 554,458 553,459 552,460 552,462 552,464 551,465 550,466 549,466 547,466 545,466 543,466 542,466 542,464 542,462 542,460 542,458 542,456 542,454 542,452 541,451 540,450 540,448 541,447 542,446 542,444 542,442 543,440 543,440 545,440 547,438Z"/>
<path fill="#0099ff" d="M561,39 563,38 563,38 565,38 567,38 569,38 571,38 573,38 575,38 575,40 575,42 575,44 575,46 575,48 575,50 575,52 575,54 575,56 575,58 575,60 575,62 575,64 575,66 575,68 575,70 575,72 575,74 575,76 575,78 575,80 575,82 575,84 575,86 575,88 575,90 575,92 575,94 575,96 575,98 575,100 575,102 575,104 575,106 575,108 575,110 575,112 575,114 575,116 575,118 575,120 575,122 575,124 575,126 575,128 575,130 575,132 575,134 575,136 575,138 575,140 575,142 575,144 575,146 575,148 575,150 575,152 575,154 575,156 575,158 575,160 575,162 575,164 575,166 575,168 575,170 575,172 575,174 575,176 575,178 575,180 575,182 575,184 575,186 575,188 575,190 575,192 575,194 575,196 575,198 575,200 575,202 575,204 575,206 575,208 575,210 575,212 575,214 575,216 575,218 575,220 575,222 575,224 575,226 575,228 575,230 575,232 575,234 575,236 575,238 575,240 575,242 575,244 575,246 575,248 575,250 575,252 575,254 575,256 575,258 575,260 575,262 575,264 575,266 575,268 575,270 575,272 575,274 575,276 575,278 575,280 575,282 575,284 575,286 575,288 575,290 575,292 575,294 575,296 575,298 575,300 575,302 575,304 575,306 575,306 573,306 571,307 569,307 567,307 565,307 563,308 562,308 561,309 559,310 559,310 557,311 555,311 553,311 551,311 549,311 549,312 548,314 547,316 547,316 545,317 543,317 541,317 539,316 537,316 535,316 533,317 531,318 531,318 529,319 528,318 528,316 527,315 527,314 526,312 525,311 524,310 523,309 522,308 521,307 521,306 519,304 519,304 519,302 517,300 517,300 516,298 515,297 515,296 514,294 513,293 511,293 510,292 509,291 507,290 505,290 505,290 503,288 503,288 501,286 501,285 500,284 499,282 499,282 499,282 500,280 501,279 502,278 502,276 502,274 501,273 500,272 499,271 497,271 495,270 493,270 491,270 491,270 489,268 489,268 487,266 487,266 485,264 484,264 483,263 482,262 481,261 479,260 479,260 477,258 477,258 475,256 475,256 473,255 471,255 469,255 468,254 468,252 469,251 470,250 470,248 471,247 472,246 473,244 473,242 473,241 474,242 475,243 477,244 479,243 481,242 481,242 482,240 483,238 482,236 481,235 479,234 479,234 477,234 476,234 475,235 475,234 474,232 473,230 473,230 473,230 472,232 472,234 471,235 470,236 470,238 470,240 470,242 470,244 469,245 468,246 468,248 467,249 466,250 466,252 465,253 464,254 464,256 463,257 462,258 462,260 461,262 461,264 461,264 460,266 459,267 458,268 457,269 456,270 455,271 453,272 453,272 451,272 451,272 450,270 450,268 449,267 447,266 447,266 446,266 447,268 447,268 448,270 447,272 447,274 446,274 445,274 443,274 441,275 439,275 437,276 437,276 435,278 435,278 434,280 433,282 433,282 433,284 433,286 432,288 431,290 431,291 430,292 429,294 429,295 428,296 428,298 427,299 427,300 425,302 425,303 424,304 423,306 423,306 422,308 423,309 424,310 425,312 425,313 425,314 425,316 425,317 425,318 424,320 423,321 422,322 421,324 421,324 419,324 417,325 415,326 414,326 413,327 413,328 413,330 413,330 413,332 413,333 413,334 411,335 411,336 409,338 409,338 407,340 407,340 405,342 405,342 403,342 401,344 401,344 400,346 399,348 399,348 397,350 397,351 396,352 395,354 395,356 395,358 395,358 393,360 393,360 391,362 391,362 389,364 389,364 387,366 387,366 386,368 385,369 384,370 383,372 383,372 382,374 381,375 380,376 379,378 379,378 377,380 377,380 375,381 374,382 373,384 373,384 371,386 371,386 369,388 369,388 368,390 367,391 366,392 365,393 363,394 363,394 361,396 361,396 359,398 359,398 357,399 356,400 355,401 354,402 353,402 351,404 351,404 349,405 347,406 347,406 345,407 344,408 343,409 341,410 340,410 339,411 338,412 337,413 336,414 335,415 334,416 333,416 331,418 331,418 329,420 328,420 327,421 325,422 325,422 323,423 322,424 321,424 319,426 318,426 317,427 316,428 315,429 314,430 313,431 311,432 311,432 309,434 308,434 307,435 305,436 305,436 303,436 303,436 301,434 300,434 299,433 298,434 297,434 295,436 295,436 293,436 292,438 291,440 291,441 290,442 289,444 289,446 289,447 288,448 287,450 287,452 287,454 287,455 286,456 287,457 287,458 287,459 286,458 285,457 284,456 283,456 281,454 280,454 279,454 277,453 276,452 275,452 273,451 272,450 271,449 269,448 268,448 267,447 265,446 264,446 263,445 261,444 261,444 259,443 258,442 257,441 256,440 255,439 254,438 253,437 251,436 251,436 249,434 249,434 248,432 247,431 246,430 245,428 245,428 244,426 243,424 243,424 242,422 241,420 241,419 241,418 240,416 240,414 240,412 239,410 239,408 239,408 239,406 238,404 238,402 237,400 237,399 237,398 237,396 237,396 238,394 238,392 239,390 239,388 239,388 240,386 240,384 241,382 241,380 241,380 242,378 242,376 243,374 243,373 243,372 244,370 245,368 245,367 245,366 246,364 247,362 247,361 247,360 248,358 248,356 248,354 248,352 249,350 249,348 249,346 249,345 249,344 251,342 251,342 253,340 253,339 254,338 255,338 257,337 258,336 259,334 259,334 261,332 261,332 263,330 263,330 264,328 263,327 262,328 261,329 260,330 259,331 258,332 257,333 256,334 255,335 253,334 251,336 251,336 250,336 249,334 249,332 249,332 248,330 247,328 247,327 246,326 245,324 245,323 245,322 244,320 243,319 243,318 242,316 241,314 241,314 240,312 239,310 239,310 238,308 237,306 237,306 236,304 235,302 235,301 235,300 234,298 233,296 233,296 232,294 232,292 231,290 231,290 231,288 230,286 230,284 229,282 229,280 229,280 229,278 228,276 228,274 228,272 228,270 228,268 228,266 228,264 228,262 228,260 229,258 229,256 229,254 229,254 229,252 230,250 230,248 230,246 231,244 231,244 231,242 232,240 233,238 233,237 233,236 234,234 235,232 235,232 236,230 237,228 237,228 238,226 239,225 240,224 241,222 241,222 243,220 243,220 245,218 245,218 247,216 248,216 249,215 251,214 253,216 253,216 255,218 255,218 257,219 258,220 258,222 259,223 260,224 260,226 261,227 262,228 263,229 264,230 264,232 265,233 267,232 266,230 265,228 265,228 263,226 263,226 262,224 261,222 261,221 260,220 260,218 259,217 258,216 257,214 257,214 257,212 257,212 259,212 261,211 263,211 265,211 267,210 269,210 270,210 271,210 273,209 275,208 275,208 277,207 278,206 279,205 280,204 281,202 281,202 283,201 283,202 283,204 284,206 285,207 286,208 286,210 287,211 288,212 289,213 291,213 293,212 294,212 293,212 291,211 290,210 289,209 288,208 288,206 287,205 286,204 286,202 286,200 287,199 288,198 289,197 290,196 291,195 292,194 293,193 295,193 296,192 297,191 299,191 301,190 302,190 301,190 299,189 297,189 295,189 294,188 295,187 296,186 297,184 297,184 299,182 299,182 301,182 301,182 303,184 303,184 305,185 306,184 305,183 304,182 304,180 304,178 305,177 307,176 307,176 307,176 307,178 308,180 309,181 310,182 311,184 311,185 311,184 312,182 311,180 311,179 310,178 311,176 311,174 311,174 313,172 313,172 315,172 317,171 318,170 319,169 321,169 322,168 323,167 325,167 327,167 328,166 329,165 331,165 333,165 335,164 335,164 337,163 339,163 341,163 343,163 344,162 343,161 341,161 339,161 337,161 335,161 334,162 333,163 331,163 329,163 327,163 326,164 325,165 323,164 321,164 319,166 319,166 317,166 317,166 317,166 319,164 319,164 321,162 321,161 322,160 323,159 324,158 325,157 326,156 327,154 327,154 329,152 329,152 330,150 331,149 332,148 333,146 333,146 334,144 335,143 336,142 337,140 337,140 338,138 339,137 339,136 341,134 341,133 342,132 343,130 343,130 344,128 345,126 345,126 346,124 347,122 347,122 348,120 349,119 349,118 351,116 351,115 352,114 353,112 353,112 354,110 355,109 355,108 357,106 357,106 358,104 359,103 359,102 361,100 361,100 363,98 363,97 364,96 365,95 366,94 367,93 368,92 369,91 370,90 371,89 372,88 373,87 375,86 375,86 377,84 377,84 379,83 380,82 381,82 383,80 384,80 385,79 387,78 388,78 389,78 391,77 393,76 393,76 395,76 397,75 399,75 401,74 403,74 404,74 405,74 407,74 409,74 411,74 413,74 414,74 415,74 417,74 419,75 421,75 423,76 425,76 425,76 427,77 429,77 431,78 431,78 433,79 435,79 437,80 437,80 439,81 441,81 443,82 444,82 443,82 441,84 441,84 440,86 439,87 437,87 436,88 435,89 434,90 434,92 435,93 436,94 436,96 436,98 437,99 439,98 438,96 438,94 437,92 438,90 439,89 441,89 442,88 443,87 444,86 445,86 447,85 449,84 449,83 451,83 453,84 455,84 455,84 457,84 459,85 461,85 463,85 465,85 467,85 469,85 471,84 471,84 473,83 475,82 475,82 477,81 478,80 479,79 480,78 481,77 483,76 483,76 485,75 486,74 487,73 489,72 489,72 491,71 492,70 493,69 495,68 495,68 497,67 499,66 499,66 501,65 502,64 503,64 505,62 505,62 507,61 508,60 509,59 510,58 511,57 513,56 514,56 515,56 517,55 519,55 521,54 521,54 523,53 525,52 526,52 527,52 529,51 531,51 533,51 535,51 537,50 538,50 539,50 541,49 543,48 543,48 545,47 546,46 547,46 549,45 550,44 551,44 553,43 554,42 555,42 557,41 559,40 559,40ZM544,86 543,87 542,88 541,90 541,92 542,94 543,96 544,96 545,97 547,98 549,98 551,97 553,96 553,96 554,94 555,92 555,90 554,88 553,87 552,86 551,85 549,85 547,85 545,85ZM438,100 439,102 439,104 439,105 439,104 440,102 440,100 439,98ZM457,110 457,110 455,111 453,112 453,112 451,114 451,114 450,116 449,118 449,119 448,120 449,121 450,120 451,119 452,118 452,116 453,115 454,114 455,113 457,113 458,112 459,111 461,111 463,111 464,112 465,114 465,114 465,116 465,118 465,118 465,118 463,116 461,116 459,117 458,118 457,119 456,120 455,122 455,124 455,124 455,126 455,126 455,128 456,130 457,132 457,133 458,134 459,135 461,136 461,136 461,136 460,138 460,140 460,142 459,143 458,144 459,146 459,147 459,146 461,144 461,144 462,142 462,140 463,139 464,138 465,136 465,136 467,134 467,134 468,132 468,130 467,128 467,127 467,126 466,124 467,123 468,122 468,120 469,118 469,116 468,114 468,112 467,111 466,110 465,109 463,109 461,109 459,109ZM354,156 355,157 357,156 359,156 361,156 362,156 361,156 359,156 357,156 355,155ZM348,158 349,159 351,159 353,158 354,158 353,157 351,157 349,157ZM344,160 345,161 347,161 348,160 347,159 345,159ZM312,186 313,186 315,188 315,188 317,188 318,188 317,187 315,186 315,186 313,186ZM273,240 273,240 275,241 277,240 275,239 273,239ZM276,242 277,243 278,244 279,245 281,244 279,242 279,242 277,240ZM276,408 275,409 274,410 273,412 273,414 273,416 273,417 273,418 273,418 273,420 275,422 275,422 277,424 277,424 279,424 281,424 282,424 283,423 284,422 285,421 286,420 286,418 286,416 285,414 285,414 285,412 285,410 284,408 283,407 281,407 279,407 277,407ZM495,274 497,274 497,274 499,276 500,276 499,276 497,278 497,278 497,278 496,276 495,275 495,274ZM509,296 511,296 511,296 511,298 511,298 511,298 509,296 509,296ZM279,410 281,410 281,410 281,412 279,412 279,410ZM299,438 299,438 299,440 301,442 301,442 302,444 302,446 301,448 301,448 300,450 299,452 299,452 298,454 297,455 296,456 295,457 294,458 293,459 293,458 291,456 291,456 291,454 291,452 291,450 291,450 293,448 293,446 293,444 293,444 295,442 295,440 295,440 297,440 299,438Z"/>
<path fill="#00ccff" d="M405,90 407,90 409,89 411,89 413,89 415,89 417,89 419,89 421,89 423,89 425,90 427,90 427,90 429,90 431,91 433,91 433,92 435,94 435,94 435,96 435,98 437,99 438,100 438,102 438,104 437,105 436,106 435,107 434,108 435,110 437,108 437,108 439,106 440,106 440,104 440,102 441,100 440,98 439,96 439,96 439,95 441,94 443,95 445,95 447,95 449,95 451,95 453,95 455,95 457,95 458,96 459,96 461,98 462,98 463,99 464,100 464,102 464,104 463,106 463,106 461,108 461,108 459,108 457,109 456,110 455,110 453,111 452,112 451,113 450,114 449,116 449,117 448,118 447,119 447,120 446,122 445,124 445,124 444,126 444,128 445,129 446,128 446,126 447,125 448,124 448,122 449,122 451,120 451,120 452,120 451,122 451,124 451,126 451,128 452,130 452,132 453,134 453,134 454,136 455,137 456,138 457,139 458,140 459,141 459,142 459,142 458,144 458,146 457,147 456,148 456,150 457,152 458,150 459,148 460,148 460,146 461,145 462,144 463,142 464,142 465,142 467,141 469,141 470,140 471,140 473,138 473,138 475,136 475,136 476,134 477,132 477,131 477,130 477,128 477,128 477,128 479,126 480,126 481,126 483,126 485,126 487,126 489,126 491,126 493,126 495,126 497,126 499,125 501,125 503,125 505,125 507,124 509,124 511,124 513,124 515,124 517,124 519,124 519,124 521,124 523,124 525,122 525,122 526,120 527,119 529,118 529,118 531,118 533,117 535,117 537,116 539,116 540,116 541,116 543,116 545,116 547,116 548,116 549,116 551,117 553,117 554,118 555,120 555,120 556,122 557,124 557,124 559,125 561,125 563,126 565,126 567,126 569,126 571,125 573,125 575,124 575,126 575,128 575,130 575,132 575,134 575,136 575,138 575,140 575,142 575,144 575,146 575,148 575,150 575,152 575,154 575,156 575,158 575,160 575,162 575,164 575,166 575,168 575,170 575,172 575,174 575,176 575,178 575,180 575,182 575,184 575,186 575,188 575,190 575,192 575,194 575,196 575,198 575,200 575,202 575,204 575,206 575,208 575,210 575,212 575,214 575,216 575,218 575,220 575,222 575,224 575,226 575,228 575,230 575,232 575,234 575,236 575,238 575,240 575,242 575,244 575,246 575,248 575,250 575,252 575,254 575,256 575,258 575,260 575,262 575,263 573,264 571,264 571,264 569,264 567,265 565,265 563,266 562,266 561,266 559,267 557,268 557,268 555,269 553,270 552,270 551,270 549,271 547,272 547,272 545,273 543,274 543,274 541,275 539,276 539,276 537,277 536,278 535,278 533,280 533,280 531,281 530,282 529,283 527,284 527,284 525,285 523,286 523,286 521,287 520,288 519,289 517,290 517,290 517,290 515,289 514,288 513,287 512,286 511,285 509,284 509,284 507,282 507,282 506,280 505,278 505,277 505,276 504,274 503,272 503,272 502,270 501,269 500,268 499,267 498,266 497,265 496,264 495,263 493,262 493,262 491,261 489,260 489,260 487,259 485,258 484,258 483,258 481,257 480,256 479,255 478,254 478,252 478,250 479,249 480,248 481,248 483,246 484,246 485,245 486,244 487,242 487,240 487,238 486,236 485,235 484,234 483,234 481,233 479,233 477,232 475,232 475,232 474,230 473,228 473,226 473,226 473,226 473,228 472,230 472,232 471,234 471,234 469,236 469,238 469,240 469,240 469,242 469,244 467,246 467,248 467,248 465,250 465,252 465,252 463,254 463,255 462,256 461,258 461,258 460,260 459,261 458,262 457,264 457,264 455,266 455,266 453,268 452,268 451,269 451,268 449,267 448,266 447,265 446,264 445,263 444,262 443,260 443,260 441,260 442,262 442,264 443,265 444,266 443,268 441,267 440,266 439,265 437,265 435,266 435,266 433,267 432,268 431,269 430,270 429,271 429,272 429,274 429,276 428,278 428,280 427,282 427,283 426,284 425,285 423,286 421,286 421,286 419,288 419,288 418,290 417,292 417,292 416,294 415,296 415,296 413,297 413,298 412,300 412,302 412,304 411,306 411,306 409,307 407,308 407,308 406,310 406,312 406,314 405,316 405,316 403,317 401,318 401,318 400,320 400,322 400,324 399,325 398,326 397,327 396,328 396,330 396,332 395,334 395,335 394,336 393,338 393,338 391,340 391,340 389,342 389,342 388,344 387,345 386,346 385,347 384,348 383,349 382,350 381,351 380,352 379,354 379,354 377,356 377,356 375,357 374,358 373,359 371,360 371,360 369,362 369,362 368,364 367,365 366,366 365,368 365,368 363,370 363,370 361,372 361,372 359,374 359,374 358,376 357,377 356,378 355,379 354,380 353,381 352,382 351,383 349,384 349,384 347,386 347,386 345,387 344,388 343,389 342,390 341,391 339,392 339,392 337,394 337,394 335,395 333,396 333,396 331,397 330,398 329,398 327,399 326,400 325,400 323,401 321,402 320,402 319,403 317,404 317,404 315,405 313,405 311,405 309,406 309,406 307,407 305,408 303,408 303,408 301,408 299,409 297,408 297,408 295,407 293,406 293,406 291,405 289,406 288,406 287,406 286,406 285,406 283,405 281,404 281,404 279,403 277,404 275,404 275,404 273,404 271,404 269,404 269,404 267,403 266,402 265,400 264,400 263,400 261,398 261,398 259,397 259,396 257,394 257,393 256,392 256,390 256,388 256,386 256,384 256,382 256,380 257,378 257,376 257,376 257,374 258,372 258,370 259,368 259,367 259,366 260,364 260,362 261,360 261,358 261,358 261,356 262,354 262,352 262,350 263,348 263,346 262,344 262,342 261,340 261,338 261,338 260,336 261,334 261,334 262,332 263,331 264,330 265,329 266,328 267,327 267,326 269,325 271,324 271,324 272,322 271,321 270,322 269,323 267,323 266,324 265,325 264,326 263,326 261,328 261,328 259,330 259,330 259,330 258,328 257,326 257,325 257,324 256,322 255,320 255,320 254,318 253,316 253,315 253,314 252,312 251,310 251,310 250,308 250,306 249,304 249,304 248,302 248,300 247,298 247,298 247,296 246,294 246,292 245,290 245,288 245,288 245,286 244,284 244,282 244,280 244,278 244,276 244,274 244,272 244,270 245,268 245,266 245,264 245,264 245,262 246,260 246,258 246,256 247,254 247,254 247,252 248,250 248,248 249,246 249,246 250,244 250,242 251,240 251,240 252,238 252,236 253,235 253,234 254,232 255,231 256,230 257,228 257,228 259,226 259,226 259,226 261,228 261,228 263,230 263,230 263,232 265,234 266,234 267,235 268,236 269,237 270,238 271,239 272,240 273,241 275,242 275,242 277,244 277,244 279,245 280,246 281,247 282,248 283,249 284,250 285,251 287,250 285,248 285,248 284,246 283,245 282,244 281,242 281,242 281,241 283,240 283,240 284,238 284,236 283,234 282,234 281,233 280,234 279,236 279,236 279,238 277,238 275,238 274,238 273,237 272,236 271,235 270,234 269,233 268,232 267,231 267,230 267,228 265,226 265,226 264,224 265,224 267,224 267,224 269,225 271,225 273,225 275,226 276,226 277,226 279,226 279,226 280,224 281,223 282,222 283,221 284,220 285,220 287,219 289,219 290,218 291,217 291,216 291,214 293,213 295,213 295,212 295,211 293,211 291,210 291,210 289,208 289,208 289,206 289,204 289,204 289,202 290,200 291,199 291,198 292,196 293,195 294,194 295,194 297,192 297,192 299,191 301,191 303,191 304,190 305,188 307,188 307,188 309,187 311,186 313,187 314,188 315,189 317,189 319,190 319,191 319,190 319,188 319,187 317,186 317,184 317,183 315,182 316,180 316,178 317,177 317,176 319,174 319,174 321,172 322,172 323,171 325,170 325,170 327,169 328,168 329,167 331,167 332,166 333,166 335,166 337,164 337,164 339,164 341,164 343,163 345,163 346,162 347,161 349,161 350,160 351,159 353,159 355,159 356,158 357,157 359,157 361,157 363,156 363,156 365,154 365,154 367,152 367,152 369,151 371,151 373,150 373,150 375,149 377,149 379,149 381,149 383,148 385,148 386,148 385,148 383,147 381,147 379,147 377,147 375,147 373,147 372,148 371,149 369,149 367,149 366,150 365,151 364,152 363,153 362,154 361,155 359,155 357,155 355,155 354,156 353,157 351,156 349,156 347,158 347,158 345,158 343,160 343,160 341,160 339,160 338,160 339,159 340,158 341,156 342,156 343,155 344,154 345,153 346,152 347,151 348,150 349,149 350,148 351,147 352,146 353,144 353,144 355,142 355,142 356,140 357,139 358,138 359,136 359,136 360,134 361,133 362,132 363,130 363,130 364,128 365,127 365,126 367,124 367,123 368,122 369,120 369,120 371,118 371,117 372,116 373,114 373,114 375,112 375,112 376,110 377,109 378,108 379,107 380,106 381,105 382,104 383,103 384,102 385,101 386,100 387,99 388,98 389,98 391,96 391,96 393,95 395,94 395,94 397,93 399,92 399,92 401,91 403,91 405,90ZM432,110 433,111 435,110 433,109ZM399,136 399,138 399,139 399,138 401,136 401,136 401,136 399,136ZM391,144 391,145 393,144 394,144 393,144 391,144ZM387,146 387,147 389,146 390,146 389,146 387,146ZM455,152 455,154 455,156 455,157 455,156 455,154 457,152 455,151ZM286,252 287,254 287,254 288,254 287,252 287,250ZM305,182 307,181 309,182 309,182 310,184 309,185 307,185 306,184 305,182 305,182ZM313,181 315,182 315,184 313,184 313,184 313,182ZM301,185 303,185 304,186 303,187 302,188 301,189 299,188 299,188 299,188 300,186Z"/>
<path fill="#00ffff" d="M411,102 413,101 415,101 417,101 419,101 421,101 423,101 425,101 427,101 429,102 429,102 431,103 433,103 435,104 435,104 435,106 435,106 433,108 433,108 432,110 431,111 430,112 429,113 428,114 427,115 425,115 424,116 423,117 422,118 423,119 425,118 425,118 427,117 429,116 429,116 431,114 432,114 433,113 434,112 435,111 436,110 437,109 439,108 439,108 441,107 443,107 445,107 447,108 448,108 448,110 448,112 447,114 447,115 447,116 447,118 445,120 445,122 445,122 444,124 444,126 443,127 443,128 442,130 442,132 441,133 440,134 440,136 440,138 440,140 441,142 441,142 442,144 442,146 442,148 443,149 444,148 444,146 444,144 444,142 443,141 442,140 442,138 442,136 442,134 443,133 444,132 444,130 445,129 447,128 447,126 447,126 447,126 447,128 448,130 448,132 449,134 449,136 449,136 450,138 451,140 451,140 452,142 453,143 454,144 455,145 456,146 455,148 455,150 455,150 454,152 454,154 454,156 453,157 452,158 453,160 455,158 456,158 456,156 456,154 457,153 458,152 459,150 459,150 461,149 463,149 465,149 467,149 469,148 471,149 473,148 475,148 477,148 479,148 480,148 481,148 483,148 485,148 487,148 489,148 491,148 493,148 495,148 497,148 499,148 501,148 503,148 505,148 507,148 509,148 511,148 513,148 515,147 517,147 519,147 521,147 523,147 525,147 527,147 529,147 531,147 533,147 535,147 537,146 539,146 540,146 541,146 543,146 545,146 547,146 549,146 551,146 553,146 555,146 557,146 557,146 559,146 561,146 563,146 565,146 567,146 569,146 569,146 571,146 573,145 575,145 575,146 575,148 575,150 575,152 575,154 575,156 575,158 575,160 575,162 575,164 575,166 575,168 575,170 575,172 575,174 575,176 575,178 575,180 575,182 575,184 575,186 575,188 575,190 575,192 575,194 575,196 575,198 575,200 575,202 575,204 575,206 575,208 575,210 575,212 575,214 575,216 575,218 575,220 575,222 575,224 575,226 575,228 575,228 573,228 571,229 569,229 567,230 566,230 565,230 563,231 561,232 560,232 559,232 557,233 555,234 555,234 553,235 551,236 551,236 549,237 547,238 547,238 545,239 543,240 543,240 541,241 539,242 538,242 537,242 535,243 533,243 531,244 531,244 529,245 527,245 525,246 525,246 523,246 521,247 519,248 518,248 517,249 515,249 513,250 511,250 511,250 509,250 507,250 505,250 504,250 503,250 501,250 499,249 497,248 497,248 496,246 496,244 496,242 495,241 495,240 494,238 493,237 492,236 491,235 490,234 489,233 487,232 487,232 485,231 483,231 481,231 479,231 477,231 475,230 475,230 474,228 474,226 474,224 474,222 473,220 473,218 473,216 473,214 473,214 473,214 473,216 473,218 473,220 473,222 472,224 472,226 472,228 471,230 471,231 470,232 469,233 468,234 467,236 467,236 466,238 465,240 465,240 464,242 464,244 463,246 463,246 462,248 461,250 461,251 460,252 459,254 459,255 458,256 457,258 457,258 456,260 455,261 454,262 453,264 452,264 451,265 449,266 447,264 447,264 445,262 444,262 444,260 443,259 442,258 442,256 441,254 441,254 440,254 440,256 440,258 439,260 439,261 437,260 437,260 435,260 433,259 431,260 430,260 429,261 428,262 427,263 427,264 426,266 426,268 425,270 425,271 425,272 425,274 424,276 424,278 423,280 423,280 421,282 419,282 419,282 417,282 415,283 413,283 411,283 409,284 409,284 407,285 407,286 405,288 405,289 404,290 403,292 403,292 402,294 401,296 401,296 399,297 398,298 397,300 397,300 396,302 395,304 395,304 394,306 393,307 392,308 391,310 391,310 389,312 389,312 387,314 387,316 387,316 385,318 385,318 383,320 383,320 382,322 382,324 381,326 381,326 379,327 378,328 377,329 377,330 376,332 375,334 375,335 374,336 373,338 373,338 372,340 371,341 370,342 369,344 369,345 368,346 367,347 365,348 364,348 363,349 361,350 361,350 359,352 359,352 357,354 357,354 355,356 355,357 354,358 353,360 353,360 351,362 351,362 349,364 349,364 347,365 346,366 345,367 344,368 343,369 342,370 341,371 340,372 339,373 337,374 337,374 335,376 335,376 333,378 333,378 331,380 331,382 331,382 330,384 329,386 329,386 327,388 327,388 325,389 323,389 321,390 321,390 319,392 319,392 318,394 317,395 316,396 315,397 313,398 312,398 311,398 309,399 307,399 305,400 304,400 303,400 301,401 299,401 297,401 295,400 293,400 292,400 291,400 291,400 289,400 287,401 286,400 285,400 283,398 282,398 281,398 279,397 277,398 275,396 275,396 273,394 273,394 271,392 271,392 269,390 269,388 270,386 270,384 270,382 271,380 271,378 271,378 271,376 271,374 271,372 271,370 271,368 271,366 271,364 271,362 271,360 272,358 272,356 272,354 272,352 273,350 273,348 273,346 272,344 272,342 271,340 271,338 271,338 270,336 270,334 269,332 269,332 268,330 268,328 269,326 269,326 271,325 272,324 273,323 274,322 275,321 277,320 277,320 279,318 280,318 279,318 277,317 276,318 275,319 273,319 272,320 271,321 269,322 269,322 267,322 266,322 265,321 265,320 264,318 263,316 263,316 262,314 262,312 261,310 261,310 260,308 260,306 259,304 259,303 259,302 258,300 258,298 257,296 257,294 257,294 257,292 257,290 256,288 256,286 256,284 257,282 257,280 257,278 257,277 257,276 258,274 258,272 259,270 259,269 259,268 260,266 261,264 261,263 262,262 263,260 263,260 264,258 265,257 266,256 267,254 267,254 269,253 270,252 271,251 273,251 275,250 277,250 277,250 279,250 281,249 283,250 283,250 285,252 286,252 286,254 287,255 288,256 288,258 289,259 290,258 290,256 289,254 289,254 288,252 288,250 287,248 287,248 286,246 287,246 288,244 289,242 289,242 289,240 290,238 290,236 290,234 290,232 291,231 292,230 293,228 293,228 294,226 294,224 294,222 294,220 294,218 294,216 295,215 297,215 299,214 297,213 296,212 295,211 293,210 293,208 293,206 294,204 294,202 295,200 295,200 296,198 297,196 297,196 298,194 299,193 300,192 301,192 303,191 304,190 305,189 307,189 309,189 310,188 311,187 313,188 314,188 315,189 317,189 318,190 319,192 319,194 320,192 320,190 320,188 321,186 321,186 322,184 322,182 321,180 321,180 320,178 321,177 323,176 325,176 327,177 329,177 331,176 331,176 333,174 333,174 335,172 335,172 337,170 338,170 339,169 340,168 341,167 342,166 343,165 345,164 345,164 347,163 349,163 351,163 353,163 355,162 355,162 357,161 359,160 359,160 361,159 362,158 363,158 365,156 365,156 367,154 367,154 369,152 369,152 371,152 373,151 374,150 375,150 377,150 379,150 381,149 383,149 385,149 387,149 388,148 389,147 391,147 392,146 393,145 395,145 396,144 397,143 398,142 399,141 400,140 400,138 401,137 403,136 403,136 405,134 405,134 407,132 407,132 409,130 409,130 411,128 411,128 412,126 411,125 410,126 409,127 408,128 407,129 406,130 405,131 404,132 403,133 402,134 401,135 399,135 398,136 398,138 397,139 396,140 395,141 394,142 393,143 391,143 390,144 389,145 387,145 386,146 385,147 383,147 381,146 379,146 377,146 375,146 373,146 371,148 371,148 369,148 369,148 369,148 370,146 371,145 372,144 373,143 374,142 375,141 376,140 377,138 377,138 379,136 379,136 380,134 381,133 382,132 383,130 383,130 384,128 385,127 385,126 387,124 387,123 388,122 389,120 389,120 390,118 391,117 392,116 393,115 394,114 395,112 395,112 397,110 397,110 399,109 400,108 401,107 402,106 403,106 405,104 406,104 407,103 409,103 411,102ZM418,120 419,121 421,120 422,120 421,119 419,119ZM412,124 413,125 415,125 416,124 415,123 413,123ZM444,150 445,152 445,153 445,152 446,150 445,149ZM446,154 447,156 447,156 447,156 447,154 447,154ZM433,248 433,250 433,250 435,251 437,250 438,250 437,250 435,250 433,248 433,247Z"/>
<path fill="#00ffd4" d="M417,112 419,111 421,111 423,111 425,112 425,112 427,113 427,114 427,114 425,114 423,116 423,116 421,118 421,118 419,118 418,120 417,121 416,122 415,123 413,122 411,124 411,124 409,126 409,126 407,128 407,128 405,130 405,130 403,132 403,132 401,132 402,130 403,128 403,127 403,126 404,124 405,123 405,122 407,120 407,120 408,118 409,117 410,116 411,116 413,114 413,114 415,113 417,112ZM431,116 433,115 435,115 437,116 437,116 439,117 440,118 440,120 441,122 441,122 442,124 442,126 441,128 441,130 441,131 440,132 440,134 439,136 439,138 439,140 440,142 441,143 441,144 441,146 442,148 442,150 443,151 444,152 445,154 445,154 446,156 447,158 447,158 449,160 449,160 451,161 453,161 455,160 455,160 457,159 459,160 459,160 461,161 463,162 465,162 467,162 468,162 469,162 471,162 473,162 475,163 477,163 479,163 481,163 483,164 485,164 487,164 487,164 489,164 491,164 493,164 495,164 497,164 499,165 501,165 503,165 505,166 507,166 509,165 511,165 513,165 515,166 516,166 517,166 519,167 521,167 523,167 525,168 527,168 528,168 529,168 531,168 533,168 535,168 537,168 539,168 541,168 543,168 545,168 547,169 549,169 551,168 552,168 553,168 555,168 557,167 559,167 561,167 563,167 565,167 567,166 569,166 571,166 573,166 575,166 575,168 575,170 575,172 575,174 575,176 575,178 575,180 575,182 575,184 575,186 575,188 575,190 575,192 575,194 575,196 575,198 575,200 575,200 573,201 571,202 570,202 569,202 567,203 565,204 564,204 563,204 561,205 559,205 557,206 557,206 555,207 553,208 552,208 551,209 549,209 548,210 547,210 545,211 543,212 542,212 541,212 539,213 537,214 536,214 535,214 533,215 531,216 531,216 529,217 527,218 527,218 525,219 523,220 522,220 521,220 519,221 517,222 516,222 515,222 513,223 511,223 510,224 509,224 507,225 505,226 505,226 503,227 501,227 499,228 497,228 495,228 495,228 493,228 491,228 491,228 489,227 487,226 485,226 483,227 481,227 480,228 479,228 477,228 477,228 475,226 475,226 475,224 474,222 474,220 474,218 474,216 474,214 474,212 474,210 473,209 472,210 472,212 472,214 472,216 472,218 472,220 472,222 471,224 471,226 471,227 469,228 469,228 467,230 467,230 465,232 465,232 464,234 463,235 463,236 462,238 461,240 461,240 460,242 460,244 459,245 459,246 458,248 457,250 457,250 456,252 455,254 455,255 454,256 453,258 453,258 452,260 451,261 450,262 449,262 448,262 447,262 445,261 445,260 443,258 443,258 442,256 442,254 441,253 440,252 440,250 439,249 437,249 435,249 434,248 433,246 433,246 433,246 432,248 431,250 431,252 431,252 429,253 427,254 427,254 425,256 425,256 423,258 423,258 421,260 421,260 421,262 421,263 421,264 421,266 421,268 421,270 421,272 421,273 420,274 419,275 418,274 418,272 417,271 415,271 413,272 413,272 411,273 409,273 407,273 405,274 403,274 403,274 402,276 402,278 401,279 401,280 400,282 399,283 398,284 397,285 395,285 393,286 391,286 390,286 389,287 388,288 387,290 387,290 386,292 385,294 385,294 385,296 384,298 383,299 382,300 381,302 381,302 379,303 377,304 376,304 375,304 373,305 372,306 371,307 370,308 369,310 369,310 367,312 367,313 366,314 365,315 364,316 363,316 361,318 360,318 359,318 357,318 355,318 355,318 353,318 351,317 349,317 348,318 347,319 345,320 345,320 343,321 341,322 339,322 339,322 337,323 337,324 336,326 336,328 335,330 335,330 334,332 333,334 333,335 332,336 331,337 331,338 330,340 330,342 330,344 329,346 329,346 328,348 327,350 327,351 326,352 326,354 326,356 326,358 325,360 325,360 324,362 323,364 323,364 322,366 321,367 320,368 319,370 319,370 317,372 317,372 315,374 315,375 314,376 313,377 312,378 311,379 311,380 310,382 309,384 309,384 308,386 307,388 307,388 306,390 305,391 303,392 303,392 301,393 299,394 298,394 297,394 295,394 294,394 293,393 291,392 290,392 289,391 287,390 287,389 287,388 287,386 287,384 287,382 286,380 286,378 285,377 285,376 283,374 283,373 282,372 282,370 281,368 281,367 281,366 280,364 280,362 280,360 280,358 280,356 280,354 280,352 280,350 280,348 280,346 280,344 279,342 279,341 279,340 279,338 279,336 279,334 278,332 278,330 277,329 277,328 276,326 275,324 275,322 277,321 278,320 279,319 281,319 281,318 283,316 283,316 285,314 286,314 285,314 283,313 282,314 281,315 280,316 279,317 277,317 275,318 275,318 273,318 273,318 272,316 271,314 271,314 270,312 270,310 269,308 269,308 269,306 268,304 268,302 267,300 267,299 267,298 267,296 266,294 266,292 266,290 266,288 267,286 267,284 267,283 267,282 268,280 268,278 269,276 269,275 270,274 270,272 271,271 272,270 273,268 273,268 274,266 275,265 276,264 277,263 278,262 279,261 280,260 281,259 283,258 283,258 285,256 285,256 287,256 287,256 287,258 289,259 290,260 290,262 290,264 291,265 293,264 292,262 292,260 292,258 291,257 291,256 291,254 290,252 291,251 292,250 293,248 293,248 294,246 294,244 294,242 294,240 295,238 295,237 296,236 296,234 297,233 297,232 298,230 299,228 299,226 298,224 298,222 297,220 297,219 297,218 296,216 297,216 299,215 300,214 299,213 297,212 297,212 296,210 297,208 297,206 297,206 298,204 299,202 299,201 300,200 300,198 301,197 302,196 303,194 303,193 304,192 305,190 305,190 307,190 309,189 311,188 311,188 312,188 313,189 315,190 316,190 317,190 318,192 318,194 319,195 320,194 320,192 321,190 321,190 323,189 325,188 326,188 327,187 329,187 331,187 333,187 335,186 337,186 337,186 338,184 338,182 338,180 338,178 337,176 338,174 339,174 341,173 343,172 343,172 345,171 347,172 347,172 349,174 349,174 351,175 353,175 354,174 355,174 357,173 359,172 359,172 361,171 363,170 364,170 365,169 365,168 366,166 367,165 368,164 369,162 369,162 371,161 372,160 373,159 374,158 375,158 377,156 378,156 379,155 381,154 381,154 383,153 385,153 387,152 387,152 389,151 391,151 393,150 395,150 395,150 397,150 399,149 400,148 400,146 400,144 400,142 401,140 401,139 402,138 403,138 405,136 405,136 407,134 407,133 408,132 409,131 410,130 411,129 412,128 413,127 414,126 415,125 417,125 418,124 419,123 420,122 421,121 423,121 424,120 425,119 426,118 427,118 429,117 431,116ZM300,212 301,213 303,212 305,212 303,212 301,211ZM292,266 293,268 293,270 293,270 294,270 293,268 293,266 293,264ZM443,134 444,134 444,136 444,138 444,140 443,140 443,140 443,138 443,136 443,134ZM445,142 446,144 447,146 447,146 449,148 449,148 450,150 451,151 452,152 453,154 453,154 453,156 453,156 451,158 451,159 450,158 449,157 448,156 448,154 447,153 446,152 447,150 445,148 445,148 445,146 445,144ZM435,252 437,251 438,252 437,254 437,255 436,254 435,253 434,252Z"/>
<path fill="#00ffaa" d="M419,139 421,139 422,140 423,140 425,142 425,142 427,144 427,144 429,145 431,146 431,146 433,147 435,147 437,148 438,148 439,148 441,150 441,150 443,152 443,152 443,154 445,156 445,156 445,158 447,160 447,160 449,161 451,162 451,162 453,164 453,164 455,166 455,167 456,168 457,170 457,170 459,171 461,172 462,172 463,172 465,173 467,173 469,173 471,173 473,174 474,174 475,174 477,175 479,176 481,176 481,176 483,176 485,177 487,177 489,178 490,178 491,178 492,178 493,177 495,176 495,176 497,175 499,174 500,174 501,174 503,173 505,173 507,174 509,174 509,174 511,175 513,176 514,176 515,177 516,178 517,179 518,180 519,181 520,182 521,184 521,184 522,186 523,188 523,189 523,190 523,192 523,192 522,194 521,196 521,196 519,198 519,198 517,200 517,200 515,201 513,202 513,202 511,203 509,204 509,204 507,205 505,205 503,205 501,206 500,206 499,207 497,208 497,208 495,209 493,210 492,210 491,210 489,211 487,211 485,212 483,212 482,212 481,213 479,214 477,214 477,214 476,214 475,214 475,212 475,210 474,208 473,207 471,207 469,207 468,208 467,209 465,209 463,209 461,208 461,208 459,207 457,207 455,207 453,208 451,208 449,208 448,208 449,208 451,208 453,208 455,208 457,209 459,209 460,210 461,211 463,211 465,211 466,212 467,213 468,212 469,211 470,210 471,209 472,210 471,212 471,214 471,216 471,218 471,219 470,220 469,221 467,222 467,222 465,224 465,224 464,226 463,227 462,228 461,230 461,230 460,232 459,234 459,234 458,236 458,238 457,239 457,240 456,242 455,244 455,244 454,246 453,248 453,249 453,250 452,252 451,254 451,254 449,256 449,257 447,257 445,256 444,256 443,255 443,254 441,252 441,252 440,250 439,249 437,248 435,248 435,248 434,246 435,245 435,244 435,243 434,244 433,244 432,246 431,248 429,248 429,248 427,249 425,250 424,250 423,251 421,252 421,252 419,254 419,255 418,256 417,258 417,258 416,260 417,262 417,263 417,264 417,266 417,266 415,268 413,268 411,267 409,267 407,266 405,267 403,267 401,267 400,268 399,268 397,270 397,270 395,272 395,273 393,274 391,274 389,274 389,274 387,275 386,276 385,277 383,278 382,278 381,279 380,280 380,282 379,284 379,285 378,286 377,287 376,288 375,289 374,290 373,292 373,292 371,294 371,294 369,296 369,296 367,298 367,298 365,300 365,300 363,301 362,302 361,303 359,304 359,304 357,306 356,306 355,307 354,308 353,309 352,310 351,312 351,312 349,312 347,313 345,314 343,314 341,313 340,312 339,311 337,311 335,311 334,312 333,313 332,314 331,314 330,316 329,318 329,319 329,320 328,322 327,324 327,325 327,326 326,328 326,330 325,332 325,332 324,334 323,336 323,336 322,338 321,340 321,341 321,342 320,344 319,346 319,346 318,348 318,350 317,352 317,352 317,354 316,356 315,358 315,359 315,360 314,362 313,364 313,364 312,366 311,367 310,368 309,370 309,370 307,372 307,372 305,374 305,374 303,376 303,376 301,378 300,378 299,378 297,378 297,378 295,377 294,376 293,375 292,374 291,372 291,372 290,370 289,369 289,368 288,366 288,364 288,362 287,360 287,358 287,356 287,354 287,352 287,350 287,348 287,348 286,346 286,344 285,342 285,342 284,340 284,338 284,336 284,334 283,332 283,330 283,328 283,326 283,326 283,324 282,322 282,320 283,318 283,317 284,316 285,315 287,314 287,314 288,312 287,311 286,312 285,313 283,313 281,314 281,314 279,314 279,314 278,312 277,310 277,308 277,308 276,306 276,304 276,302 275,300 275,298 275,298 275,296 275,294 275,292 275,290 275,289 275,288 275,286 276,284 277,282 277,281 277,280 278,278 279,276 279,276 280,274 281,273 282,272 283,270 283,270 285,268 285,268 286,266 287,265 288,264 289,263 289,264 291,266 291,266 292,268 292,270 293,271 294,272 294,274 294,276 294,278 295,280 295,282 295,284 295,286 295,286 295,286 295,284 295,282 295,280 296,278 296,276 296,274 296,272 295,270 295,270 294,268 294,266 294,264 293,262 293,262 293,260 293,258 293,258 295,256 295,256 296,254 297,253 298,252 299,251 299,250 301,248 301,246 299,244 299,244 298,242 297,240 299,238 299,238 300,236 301,234 301,234 302,232 302,230 302,228 302,226 302,224 301,222 301,222 300,220 299,218 299,217 299,216 299,216 301,215 302,214 303,213 305,213 307,212 307,212 308,210 307,209 306,210 305,211 303,211 301,210 299,210 300,208 301,206 301,206 302,204 303,202 303,202 304,200 305,198 305,198 306,196 307,194 307,194 309,192 309,191 311,191 313,192 314,192 315,192 317,193 317,194 317,195 316,196 316,198 315,199 314,200 315,201 316,200 317,200 318,198 319,197 320,196 321,194 321,193 323,193 325,193 327,192 329,192 331,192 331,192 333,192 335,192 337,191 339,190 339,190 341,189 342,188 343,186 342,184 342,182 342,180 343,179 345,178 347,179 348,180 349,180 351,181 353,181 355,180 355,180 357,179 359,178 360,178 361,178 363,177 364,176 365,175 367,174 367,174 369,172 369,172 371,170 371,169 372,168 373,167 375,166 376,166 377,166 379,165 381,165 383,165 385,164 387,164 389,164 391,164 393,165 395,165 397,165 399,165 401,166 403,166 405,166 407,166 409,166 410,164 411,162 411,162 411,160 412,158 412,156 412,154 412,152 413,150 413,148 413,148 413,146 414,144 415,143 415,142 417,140 417,140ZM312,202 312,204 313,205 313,204 314,202 313,201ZM308,208 309,209 310,208 309,207ZM445,212 445,214 445,216 445,218 445,220 445,222 445,224 444,226 445,226 445,226 445,224 445,222 445,220 445,218 445,216 445,214 445,212 445,211ZM343,306 342,308 343,309 345,309 347,309 349,309 350,308 350,306 349,306 347,305 345,305 343,306Z"/>
<path fill="#00ff7f" d="M381,174 381,174 383,174 385,174 387,174 389,175 391,175 393,175 395,176 396,176 397,176 399,177 401,177 403,177 405,177 407,178 409,178 411,178 413,178 415,178 417,177 419,177 421,177 423,177 425,177 427,178 429,178 429,178 431,178 433,179 435,179 437,180 437,180 439,180 441,181 443,182 443,182 445,183 447,183 449,183 451,184 453,184 453,184 455,185 457,186 458,186 459,186 461,187 463,188 463,188 465,189 467,190 468,190 469,191 471,192 472,192 473,193 475,194 475,194 476,196 475,198 475,198 473,200 473,200 472,202 471,203 470,204 469,205 468,206 467,207 465,208 464,208 463,208 463,208 461,207 459,206 457,206 455,207 453,207 451,207 449,207 447,207 446,208 445,209 444,210 444,212 444,214 444,216 444,218 444,220 444,222 444,224 443,225 442,226 442,228 442,230 441,232 441,232 440,234 439,236 439,236 438,238 437,240 437,240 435,242 434,242 433,243 432,244 431,245 429,245 427,244 425,244 423,245 421,245 420,246 419,247 417,248 417,248 415,250 415,251 414,252 414,254 413,255 413,256 411,258 411,258 409,259 407,260 407,260 405,261 403,261 401,261 399,262 399,262 397,263 396,264 395,265 394,266 393,266 391,267 389,268 387,268 387,268 385,269 383,269 381,270 381,270 379,271 378,272 377,272 375,274 374,274 373,275 372,276 371,277 370,278 369,279 369,280 367,282 367,282 365,284 365,284 364,286 363,287 362,288 361,289 360,290 359,291 358,292 357,292 355,294 355,294 353,295 351,296 351,296 349,297 347,298 347,298 345,299 343,300 343,300 341,302 341,302 339,303 337,303 337,302 335,300 334,300 333,299 331,299 330,300 329,300 327,302 327,302 325,304 326,306 327,308 327,310 326,312 325,314 325,314 324,316 323,317 322,318 321,319 320,320 320,322 320,324 319,326 319,327 319,328 318,330 318,332 317,333 317,334 316,336 316,338 315,340 315,340 314,342 313,344 313,344 311,346 311,347 310,348 310,350 310,352 309,354 309,355 309,356 307,358 307,359 306,360 305,361 304,362 303,364 302,364 301,366 299,366 298,364 297,362 297,362 296,360 295,359 294,358 294,356 293,354 293,354 293,352 293,350 293,348 292,346 291,345 290,344 289,342 289,341 289,340 288,338 288,336 288,334 288,332 288,330 288,328 289,326 289,324 289,324 290,322 290,320 289,319 288,318 287,317 287,316 287,316 288,314 289,313 290,312 291,310 291,310 292,308 291,307 290,308 289,309 288,310 287,310 285,312 285,312 285,312 284,310 284,308 283,306 283,304 283,303 283,302 283,300 282,298 282,296 282,294 282,292 283,290 283,288 283,288 284,286 285,284 285,283 286,282 287,280 287,279 288,278 289,277 289,276 291,274 291,274 292,272 293,272 293,272 293,274 293,276 293,278 294,280 294,282 294,284 294,286 294,288 294,290 295,292 295,294 295,296 295,298 294,300 294,302 295,303 295,302 295,300 295,298 295,296 295,294 295,292 296,290 296,288 296,286 296,284 296,282 296,280 296,278 297,276 297,274 297,272 297,270 296,268 297,266 297,265 297,264 298,262 299,261 299,260 300,258 301,257 301,256 302,254 303,252 303,250 303,250 304,248 304,246 304,244 303,242 303,240 304,238 305,236 305,236 306,234 306,232 306,230 306,228 306,226 306,224 305,222 305,222 304,220 303,218 303,217 302,216 303,214 303,214 305,214 307,213 308,212 309,211 310,210 311,209 312,208 313,207 314,206 314,204 315,203 316,202 317,201 318,200 319,198 319,198 321,197 323,197 325,197 327,197 329,197 331,197 333,197 335,196 337,196 337,196 339,195 341,194 341,194 343,193 344,192 345,190 345,190 346,188 347,186 347,186 349,185 351,185 353,185 355,185 357,184 359,184 359,184 361,183 363,183 364,182 365,182 367,181 368,180 369,179 371,178 371,178 373,176 373,176 375,175 377,174 379,174 381,174ZM292,304 292,306 293,307 293,306 294,304 293,303ZM315,196 315,196 315,198 315,198 313,200 313,200 311,202 311,204 311,204 309,206 309,206 307,208 307,208 305,208 306,206 307,205 308,204 309,202 309,201 310,200 311,198 311,198 313,196 314,196ZM449,209 451,209 453,209 455,209 457,210 459,210 459,210 461,212 463,212 464,212 463,213 462,214 461,216 461,216 460,218 459,220 459,220 458,222 457,224 457,224 456,226 456,228 456,230 455,232 455,232 455,234 454,236 453,238 453,238 452,240 451,241 451,242 449,244 449,245 448,246 447,248 447,248 445,250 445,250 445,250 443,249 442,248 441,248 439,247 437,246 435,246 435,246 435,246 436,244 437,243 438,242 439,241 440,240 440,238 441,237 442,236 442,234 443,233 444,232 444,230 444,228 445,227 446,226 446,224 446,222 446,220 446,218 446,216 446,214 446,212 447,211 448,210Z"/>
<path fill="#00ff55" d="M373,185 375,184 377,185 379,185 381,185 383,186 384,186 385,186 387,187 389,187 391,188 392,188 393,188 395,189 397,189 399,189 401,189 403,189 405,189 407,189 409,189 410,190 411,190 413,192 414,192 415,193 417,194 417,194 419,195 420,196 421,196 423,198 424,198 425,199 427,200 427,200 429,202 429,202 430,204 429,205 429,206 427,208 427,208 426,210 425,211 424,212 423,214 423,214 423,216 423,217 423,218 425,219 427,220 427,220 429,221 430,222 431,224 431,224 431,226 433,228 433,229 435,229 437,229 439,229 440,230 439,232 439,234 439,234 437,236 437,238 437,238 435,240 435,240 433,241 432,240 431,239 429,238 429,238 427,237 425,237 423,236 421,236 419,237 417,237 416,238 415,238 413,240 412,240 411,241 410,242 409,243 409,244 407,246 407,247 406,248 405,249 403,250 403,250 401,250 399,252 398,252 397,253 395,254 395,254 393,255 392,256 391,257 390,258 389,259 387,260 386,260 385,260 383,261 382,262 381,263 379,263 377,262 376,262 375,262 373,262 372,262 371,262 369,263 368,264 367,265 365,266 365,266 363,267 362,268 361,269 360,270 359,271 359,272 357,274 357,274 356,276 355,277 354,278 353,280 353,280 352,282 351,284 350,284 349,285 347,285 346,286 345,286 343,288 342,288 341,289 339,290 338,290 337,290 335,290 333,291 331,291 329,291 328,292 327,292 325,293 324,294 323,295 322,296 321,296 319,298 319,298 317,300 317,300 316,302 316,304 317,306 317,307 318,308 319,310 318,312 317,314 317,314 316,316 315,318 315,318 314,320 314,322 314,324 313,326 313,328 313,328 313,330 312,332 312,334 311,336 311,337 311,338 310,340 309,342 309,342 308,344 307,346 307,346 306,348 305,350 305,350 303,352 303,353 301,354 301,354 301,354 299,353 298,352 297,350 297,350 296,348 295,346 295,345 294,344 293,342 293,341 293,340 292,338 292,336 292,334 292,332 292,330 293,328 293,326 293,326 293,324 293,322 293,320 293,319 292,318 291,316 291,315 290,314 291,312 291,312 292,310 293,309 294,308 294,306 295,305 296,304 296,302 296,300 296,298 296,296 296,294 296,292 297,290 297,288 297,286 297,284 297,283 298,282 299,281 301,280 301,280 303,279 305,278 307,278 307,278 308,276 309,274 309,272 309,270 309,270 309,268 309,266 309,264 309,262 309,261 309,260 309,258 308,256 308,254 307,252 307,250 307,250 307,250 308,248 309,247 310,246 310,244 311,242 311,242 312,240 312,238 313,236 313,234 313,232 313,230 313,228 312,226 311,224 311,222 311,220 311,219 311,218 311,216 311,216 311,214 312,212 313,210 313,210 314,208 315,207 315,206 317,204 317,204 319,203 321,202 321,202 323,202 325,202 325,202 327,203 329,203 331,203 333,203 335,203 337,203 339,202 339,202 341,201 343,200 343,200 345,199 346,198 347,197 348,196 349,195 350,194 351,192 351,191 353,191 355,191 357,191 359,191 361,191 363,191 365,190 366,190 367,189 369,188 370,188 371,187 372,186ZM439,198 441,199 442,200 443,201 443,202 445,204 445,204 447,206 447,206 447,206 445,208 443,207 441,206 441,206 439,205 438,204 437,202 437,202 437,202 438,200ZM445,228 445,228 447,230 447,230 449,232 447,234 447,234 445,236 445,236 443,237 443,236 443,234 443,234 445,232 445,230 445,228ZM293,285 293,286 293,288 293,290 294,292 294,294 294,296 293,298 293,300 293,302 293,302 291,304 291,306 291,306 289,306 290,304 291,302 291,300 291,300 291,300 290,298 289,296 289,294 289,292 290,290 291,288 291,288 293,286Z"/>
<path fill="#00ff2a" d="M299,296 301,295 303,295 304,296 304,298 304,300 304,302 304,304 304,306 304,308 304,310 305,312 305,312 307,314 308,314 309,315 310,316 310,318 309,320 309,320 309,322 308,324 307,326 307,328 307,328 307,330 306,332 307,334 306,336 305,338 305,338 304,340 303,342 303,343 303,344 301,346 299,345 298,344 298,342 297,340 297,339 297,338 296,336 296,334 297,332 297,332 298,330 298,328 298,326 297,324 297,323 297,322 296,320 295,318 295,317 295,316 294,314 294,312 294,310 295,308 295,307 295,306 297,304 297,303 298,302 299,300 299,298 299,296Z"/>
<path fill="#00ff00" d="M299,309 301,309 302,310 302,312 302,314 303,316 303,318 303,318 303,318 301,320 301,320 301,320 299,319 298,318 298,316 298,314 298,312 299,310Z"/></g>
<path d="M168.5,38V465M236.5,38V465M304.5,38V465M372.5,38V465M440.5,38V465M507.5,38V465M155,115.5H575M155,188.5H575M155,259.5H575M155,329.5H575M155,396.5H575" stroke="#000" stroke-width="1" fill="none" shape-rendering="crispEdges"/>
<path d="M154.8,397.9L152.3,412.2M150.5,407.3L152.3,412.2L155.6,408.2M154.8,384.3L149.2,397.6M148.5,392.5L149.2,397.6L153.3,394.5M154.8,370.6L147.1,382.8M147.3,377.6L147.1,382.8L151.7,380.4M154.8,356.8L145.5,368.0M146.4,362.9L145.5,368.0L150.4,366.2M168.4,411.6L171.4,425.7M167.9,421.9L171.4,425.7L173.0,420.8M168.4,397.9L166.4,412.3M164.5,407.5L166.4,412.3L169.6,408.2M168.4,384.3L162.3,397.4M161.9,392.3L162.3,397.4L166.6,394.4M168.4,329.3L156.9,338.1M158.9,333.3L156.9,338.1L162.0,337.4M168.4,315.5L157.6,325.1M159.2,320.2L157.6,325.1L162.7,324.1M182.0,425.2L188.5,438.2M184.1,435.3L188.5,438.2L188.8,433.0M182.0,411.6L186.0,425.5M182.3,421.9L186.0,425.5L187.3,420.5M182.0,356.8L170.2,365.2M172.3,360.5L170.2,365.2L175.3,364.7M182.0,343.1L169.4,350.3M172.0,345.8L169.4,350.3L174.6,350.3M182.0,329.3L169.5,336.7M172.1,332.1L169.5,336.7L174.7,336.6M182.0,315.5L170.9,324.8M172.7,319.9L170.9,324.8L176.0,323.9M182.0,301.6L171.9,312.0M173.2,306.9L171.9,312.0L176.9,310.6M195.6,356.8L182.7,363.5M185.5,359.1L182.7,363.5L187.9,363.8M195.6,343.1L182.3,348.9M185.4,344.7L182.3,348.9L187.5,349.5M195.6,329.3L182.9,336.2M185.6,331.8L182.9,336.2L188.1,336.4M195.6,315.5L184.2,324.4M186.1,319.6L184.2,324.4L189.3,323.7M195.6,301.6L185.2,311.7M186.6,306.7L185.2,311.7L190.2,310.4M209.2,370.6L197.8,379.5M199.7,374.7L197.8,379.5L202.9,378.8M209.2,356.8L196.2,363.4M199.1,359.0L196.2,363.4L201.4,363.7M209.2,343.1L195.8,348.7M199.0,344.6L195.8,348.7L201.0,349.4M209.2,329.3L196.2,335.7M199.1,331.4L196.2,335.7L201.4,336.1M209.2,315.5L197.2,323.6M199.5,318.9L197.2,323.6L202.4,323.2M222.8,452.4L221.8,466.9M219.5,462.2L221.8,466.9L224.7,462.5M222.8,411.6L217.8,425.2M216.9,420.0L217.8,425.2L221.8,421.8M222.8,397.9L215.5,410.5M215.5,405.3L215.5,410.5L220.0,407.9M222.8,384.3L213.3,395.2M214.3,390.1L213.3,395.2L218.2,393.5M222.8,370.6L211.5,379.6M213.4,374.8L211.5,379.6L216.6,378.8M222.8,356.8L210.3,364.2M212.9,359.7L210.3,364.2L215.5,364.2M222.8,343.1L209.8,349.6M212.7,345.3L209.8,349.6L215.0,349.9M222.8,329.3L209.9,335.8M212.7,331.5L209.9,335.8L215.0,336.1M236.4,438.8L232.2,452.7M231.0,447.6L232.2,452.7L236.0,449.1M236.4,425.2L230.8,438.5M230.1,433.4L230.8,438.5L234.9,435.4M236.4,411.6L229.5,424.3M229.3,419.1L229.5,424.3L233.9,421.6M236.4,397.9L228.2,409.9M228.6,404.7L228.2,409.9L232.9,407.6M236.4,384.3L226.8,395.1M227.8,390.0L226.8,395.1L231.7,393.5M236.4,370.6L225.5,380.2M227.2,375.2L225.5,380.2L230.6,379.1M236.4,356.8L224.6,365.3M226.8,360.5L224.6,365.3L229.8,364.8M250.0,452.4L245.6,466.2M244.5,461.1L245.6,466.2L249.4,462.7M250.0,438.8L244.4,452.2M243.7,447.0L244.4,452.2L248.5,449.0M250.0,425.2L243.0,437.9M242.9,432.7L243.0,437.9L247.4,435.2M250.0,411.6L242.2,423.8M242.4,418.6L242.2,423.8L246.8,421.4M250.0,397.9L241.6,409.7M242.1,404.6L241.6,409.7L246.3,407.6M250.0,384.3L240.7,395.4M241.6,390.3L240.7,395.4L245.6,393.6M250.0,370.6L239.9,380.9M241.2,375.9L239.9,380.9L244.9,379.5M250.0,356.8L239.2,366.6M240.8,361.6L239.2,366.6L244.3,365.5M250.0,343.1L238.9,352.5M240.7,347.6L238.9,352.5L244.1,351.5M263.6,452.4L258.4,465.9M257.6,460.8L258.4,465.9L262.4,462.7M263.6,438.8L257.5,451.9M257.0,446.8L257.5,451.9L261.7,449.0M263.6,425.2L256.7,438.0M256.6,432.8L256.7,438.0L261.2,435.2M263.6,411.6L256.3,424.1M256.3,418.9L256.3,424.1L260.8,421.5M263.6,397.9L255.8,410.1M256.0,405.0L255.8,410.1L260.4,407.7M263.6,384.3L255.1,396.0M255.6,390.8L255.1,396.0L259.8,393.9M263.6,370.6L254.5,381.9M255.3,376.7L254.5,381.9L259.4,380.0M263.6,356.8L254.2,367.9M255.2,362.8L254.2,367.9L259.1,366.2M263.6,343.1L254.0,354.0M255.1,348.9L254.0,354.0L259.0,352.3M263.6,329.3L254.1,340.2M255.1,335.1L254.1,340.2L259.0,338.5M263.6,202.7L256.3,215.3M256.3,210.1L256.3,215.3L260.8,212.7M263.6,188.3L257.2,201.3M256.9,196.1L257.2,201.3L261.5,198.4M263.6,173.8L256.5,186.5M256.5,181.3L256.5,186.5L261.0,183.8M277.2,452.4L271.8,465.8M271.0,460.7L271.8,465.8L275.9,462.6M277.2,438.8L271.1,451.9M270.6,446.8L271.1,451.9L275.3,449.0M277.2,425.2L271.1,438.3M270.7,433.2L271.1,438.3L275.4,435.3M277.2,397.9L270.8,410.9M270.5,405.7L270.8,410.9L275.1,408.0M277.2,384.3L270.2,396.9M270.1,391.7L270.2,396.9L274.6,394.3M277.2,370.6L269.8,383.0M269.8,377.8L269.8,383.0L274.3,380.5M277.2,356.8L269.6,369.2M269.7,364.0L269.6,369.2L274.2,366.7M277.2,343.1L269.4,355.4M269.7,350.2L269.4,355.4L274.1,352.9M277.2,329.3L269.3,341.5M269.6,336.3L269.3,341.5L274.0,339.1M277.2,231.3L267.7,242.3M268.7,237.2L267.7,242.3L272.6,240.6M277.2,217.1L268.1,228.4M268.9,223.3L268.1,228.4L273.0,226.5M277.2,202.7L269.0,214.7M269.4,209.5L269.0,214.7L273.7,212.5M277.2,188.3L269.7,200.7M269.8,195.5L269.7,200.7L274.3,198.2M277.2,173.8L269.1,185.8M269.5,180.6L269.1,185.8L273.8,183.5M290.8,438.8L285.7,452.4M284.8,447.2L285.7,452.4L289.7,449.1M290.8,425.2L286.0,438.9M285.1,433.8L286.0,438.9L290.0,435.5M290.8,411.6L286.5,425.4M285.3,420.3L286.5,425.4L290.3,421.9M290.8,397.9L286.5,411.8M285.4,406.7L286.5,411.8L290.3,408.2M290.8,384.3L286.0,397.9M285.0,392.8L286.0,397.9L289.9,394.5M290.8,370.6L285.5,384.1M284.7,378.9L285.5,384.1L289.6,380.8M290.8,356.8L285.3,370.3M284.6,365.1L285.3,370.3L289.4,367.1M290.8,343.1L285.1,356.4M284.5,351.3L285.1,356.4L289.3,353.3M290.8,329.3L284.8,342.5M284.3,337.3L284.8,342.5L289.0,339.5M290.8,315.5L284.4,328.5M284.1,323.3L284.4,328.5L288.7,325.6M290.8,231.3L280.5,241.6M281.9,236.5L280.5,241.6L285.5,240.2M290.8,217.1L280.7,227.5M282.0,222.4L280.7,227.5L285.7,226.1M290.8,188.3L281.2,199.1M282.2,194.0L281.2,199.1L286.1,197.5M290.8,173.8L281.0,184.4M282.1,179.4L281.0,184.4L285.9,182.9M304.4,425.2L301.2,439.3M299.6,434.3L301.2,439.3L304.7,435.5M304.4,411.6L301.8,425.8M300.1,420.9L301.8,425.8L305.2,421.9M304.4,397.9L302.1,412.2M300.3,407.4L302.1,412.2L305.4,408.2M304.4,384.3L301.6,398.5M299.9,393.6L301.6,398.5L305.0,394.6M304.4,370.6L301.2,384.7M299.6,379.7L301.2,384.7L304.7,380.9M304.4,356.8L301.0,370.9M299.5,366.0L301.0,370.9L304.6,367.2M304.4,343.1L300.9,357.2M299.4,352.2L300.9,357.2L304.5,353.4M304.4,329.3L300.5,343.3M299.2,338.2L300.5,343.3L304.2,339.6M304.4,315.5L299.6,329.1M298.6,324.0L299.6,329.1L303.5,325.8M304.4,301.6L298.4,314.8M297.9,309.6L298.4,314.8L302.6,311.8M304.4,287.7L296.7,300.0M296.9,294.8L296.7,300.0L301.3,297.5M304.4,273.7L295.3,285.0M296.1,279.8L295.3,285.0L300.2,283.1M304.4,259.6L294.4,270.1M295.6,265.1L294.4,270.1L299.4,268.7M304.4,245.5L293.8,255.4M295.3,250.4L293.8,255.4L298.9,254.2M304.4,231.3L293.4,240.8M295.1,235.9L293.4,240.8L298.6,239.9M304.4,217.1L293.2,226.3M295.0,221.5L293.2,226.3L298.4,225.5M318.0,425.2L316.1,439.6M314.1,434.7L316.1,439.6L319.3,435.4M318.0,411.6L316.7,426.0M314.5,421.3L316.7,426.0L319.7,421.7M318.0,397.9L316.8,412.4M314.6,407.7L316.8,412.4L319.7,408.1M318.0,384.3L316.6,398.7M314.4,393.9L316.6,398.7L319.6,394.5M318.0,370.6L316.4,385.0M314.3,380.2L316.4,385.0L319.5,380.8M318.0,356.8L316.3,371.3M314.3,366.5L316.3,371.3L319.4,367.1M318.0,343.1L316.4,357.5M314.3,352.8L316.4,357.5L319.5,353.3M318.0,329.3L316.3,343.7M314.2,338.9L316.3,343.7L319.4,339.5M318.0,315.5L314.4,329.5M313.0,324.5L314.4,329.5L318.0,325.8M318.0,301.6L312.1,314.9M311.6,309.7L312.1,314.9L316.3,311.8M318.0,287.7L310.3,299.9M310.5,294.8L310.3,299.9L314.9,297.5M318.0,273.7L308.6,284.7M309.5,279.6L308.6,284.7L313.5,283.0M318.0,259.6L307.5,269.7M309.0,264.7L307.5,269.7L312.6,268.4M318.0,245.5L306.9,254.9M308.7,250.0L306.9,254.9L312.0,254.0M318.0,231.3L306.5,240.1M308.5,235.3L306.5,240.1L311.6,239.5M318.0,217.1L306.1,225.3M308.3,220.6L306.1,225.3L311.3,224.9M318.0,202.7L305.7,210.3M308.1,205.8L305.7,210.3L310.9,210.2M318.0,173.8L305.1,180.5M307.9,176.1L305.1,180.5L310.3,180.7M331.6,411.6L331.0,426.0M328.6,421.4L331.0,426.0L333.8,421.7M331.6,397.9L331.0,412.4M328.6,407.8L331.0,412.4L333.8,408.0M331.6,384.3L331.0,398.7M328.6,394.1L331.0,398.7L333.8,394.3M331.6,370.6L331.0,385.1M328.6,380.4L331.0,385.1L333.8,380.7M331.6,356.8L331.1,371.3M328.7,366.7L331.1,371.3L333.8,366.9M331.6,343.1L331.3,357.6M328.8,353.0L331.3,357.6L334.0,353.2M331.6,329.3L330.9,343.8M328.5,339.2L330.9,343.8L333.7,339.4M331.6,315.5L329.0,329.7M327.2,324.8L329.0,329.7L332.4,325.8M331.6,301.6L326.5,315.2M325.6,310.0L326.5,315.2L330.5,311.9M331.6,287.7L324.1,300.1M324.2,294.9L324.1,300.1L328.7,297.6M331.6,273.7L321.9,284.5M323.0,279.4L321.9,284.5L326.9,282.9M331.6,259.6L320.9,269.4M322.5,264.4L320.9,269.4L326.0,268.3M331.6,245.5L320.2,254.5M322.1,249.7L320.2,254.5L325.4,253.8M331.6,231.3L319.7,239.6M321.9,234.9L319.7,239.6L324.8,239.2M331.6,217.1L319.3,224.7M321.7,220.1L319.3,224.7L324.5,224.5M331.6,202.7L319.0,209.9M321.6,205.4L319.0,209.9L324.2,209.9M331.6,188.3L318.7,195.0M321.5,190.6L318.7,195.0L323.9,195.2M331.6,173.8L318.0,178.7M321.3,174.7L318.0,178.7L323.1,179.6M345.2,397.9L344.7,412.4M342.3,407.8L344.7,412.4L347.5,408.0M345.2,384.3L345.0,398.8M342.5,394.2L345.0,398.8L347.7,394.3M345.2,370.6L345.1,385.1M342.5,380.5L345.1,385.1L347.7,380.6M345.2,356.8L345.2,371.3M342.6,366.8L345.2,371.3L347.8,366.8M345.2,343.1L345.4,357.6M342.7,353.1L345.4,357.6L347.9,353.1M345.2,329.3L345.1,343.8M342.5,339.3L345.1,343.8L347.7,339.3M345.2,315.5L343.3,329.9M341.3,325.0L343.3,329.9L346.5,325.7M345.2,301.6L340.9,315.4M339.8,310.4L340.9,315.4L344.7,311.9M345.2,287.7L338.4,300.5M338.2,295.3L338.4,300.5L342.8,297.7M345.2,273.7L336.2,285.0M336.9,279.9L336.2,285.0L341.0,283.1M345.2,259.6L334.7,269.7M336.2,264.7L334.7,269.7L339.8,268.4M345.2,245.5L333.8,254.4M335.7,249.6L333.8,254.4L338.9,253.7M345.2,231.3L333.0,239.2M335.4,234.6L333.0,239.2L338.2,239.0M345.2,217.1L332.6,224.3M335.2,219.8L332.6,224.3L337.8,224.3M345.2,202.7L332.4,209.5M335.1,205.1L332.4,209.5L337.6,209.7M345.2,188.3L332.0,194.3M335.0,190.1L332.0,194.3L337.2,194.8M345.2,173.8L331.7,179.1M334.9,175.0L331.7,179.1L336.9,179.9M358.8,384.3L358.7,398.8M356.1,394.2L358.7,398.8L361.3,394.3M358.8,370.6L358.9,385.1M356.3,380.6L358.9,385.1L361.5,380.5M358.8,356.8L359.0,371.3M356.3,366.9L359.0,371.3L361.5,366.8M358.8,343.1L359.1,357.6M356.4,353.1L359.1,357.6L361.6,353.0M358.8,329.3L358.7,343.8M356.1,339.3L358.7,343.8L361.3,339.3M358.8,315.5L357.3,329.9M355.2,325.2L357.3,329.9L360.4,325.7M358.8,301.6L355.3,315.7M353.8,310.7L355.3,315.7L358.9,311.9M358.8,287.7L352.8,300.9M352.3,295.7L352.8,300.9L357.0,297.8M358.8,273.7L350.4,285.5M350.9,280.3L350.4,285.5L355.2,283.3M358.8,259.6L348.7,270.0M350.0,265.0L348.7,270.0L353.7,268.6M358.8,245.5L347.5,254.6M349.4,249.8L347.5,254.6L352.7,253.8M358.8,231.3L346.7,239.3M349.0,234.7L346.7,239.3L351.9,239.0M358.8,217.1L346.3,224.4M348.8,219.8L346.3,224.4L351.5,224.3M358.8,202.7L346.0,209.5M348.7,205.1L346.0,209.5L351.2,209.7M358.8,188.3L345.7,194.6M348.7,190.3L345.7,194.6L350.9,195.0M358.8,173.8L345.6,179.9M348.6,175.6L345.6,179.9L350.8,180.3M358.8,159.2L345.9,165.8M348.7,161.4L345.9,165.8L351.1,166.0M372.4,384.3L372.2,398.8M369.7,394.2L372.2,398.8L374.9,394.3M372.4,370.6L372.5,385.1M369.9,380.6L372.5,385.1L375.1,380.5M372.4,356.8L372.4,371.3M369.8,366.8L372.4,371.3L375.0,366.8M372.4,343.1L372.3,357.6M369.7,353.1L372.3,357.6L374.9,353.1M372.4,329.3L372.1,343.8M369.6,339.3L372.1,343.8L374.8,339.4M372.4,315.5L371.0,329.9M368.9,325.2L371.0,329.9L374.0,325.7M372.4,301.6L369.6,315.8M367.9,310.9L369.6,315.8L373.0,311.9M372.4,287.7L367.1,301.2M366.4,296.0L367.1,301.2L371.2,297.9M372.4,273.7L364.5,285.9M364.8,280.7L364.5,285.9L369.2,283.5M372.4,259.6L362.7,270.4M363.8,265.3L362.7,270.4L367.6,268.8M372.4,245.5L361.4,255.0M363.1,250.1L361.4,255.0L366.5,254.0M372.4,231.3L360.5,239.7M362.7,235.0L360.5,239.7L365.7,239.2M372.4,217.1L360.0,224.6M362.5,220.1L360.0,224.6L365.2,224.5M372.4,202.7L359.7,209.8M362.4,205.4L359.7,209.8L364.9,209.9M372.4,188.3L359.6,195.1M362.3,190.7L359.6,195.1L364.8,195.3M372.4,173.8L359.6,180.5M362.3,176.1L359.6,180.5L364.8,180.7M372.4,159.2L359.8,166.4M362.4,161.9L359.8,166.4L365.0,166.4M386.0,370.6L385.8,385.1M383.3,380.5L385.8,385.1L388.5,380.6M386.0,356.8L385.2,371.3M382.9,366.7L385.2,371.3L388.1,367.0M386.0,343.1L384.6,357.5M382.5,352.8L384.6,357.5L387.6,353.3M386.0,329.3L384.3,343.7M382.3,338.9L384.3,343.7L387.4,339.5M386.0,315.5L384.0,329.8M382.1,325.0L384.0,329.8L387.2,325.7M386.0,301.6L383.4,315.9M381.6,311.0L383.4,315.9L386.7,311.9M386.0,287.7L381.3,301.4M380.3,296.3L381.3,301.4L385.3,298.0M386.0,273.7L378.8,286.3M378.8,281.1L378.8,286.3L383.3,283.6M386.0,259.6L376.8,270.8M377.6,265.7L376.8,270.8L381.6,269.0M386.0,245.5L375.3,255.3M376.9,250.3L375.3,255.3L380.4,254.2M386.0,231.3L374.3,240.0M376.4,235.2L374.3,240.0L379.5,239.4M386.0,217.1L373.8,225.0M376.2,220.3L373.8,225.0L379.0,224.7M386.0,202.7L373.6,210.3M376.1,205.7L373.6,210.3L378.8,210.2M386.0,188.3L373.6,195.8M376.1,191.2L373.6,195.8L378.8,195.7M386.0,173.8L373.5,181.2M376.1,176.7L373.5,181.2L378.7,181.1M386.0,159.2L373.8,167.0M376.2,162.4L373.8,167.0L379.0,166.7M399.6,356.8L397.5,371.2M395.6,366.4L397.5,371.2L400.7,367.1M399.6,343.1L396.0,357.2M394.6,352.2L396.0,357.2L399.7,353.4M399.6,329.3L396.0,343.4M394.6,338.3L396.0,343.4L399.6,339.6M399.6,315.5L396.6,329.7M395.0,324.7L396.6,329.7L400.1,325.8M399.6,301.6L396.7,315.8M395.1,310.9L396.7,315.8L400.1,311.9M399.6,287.7L395.5,301.6M394.3,296.5L395.5,301.6L399.3,298.0M399.6,273.7L393.4,286.8M393.0,281.6L393.4,286.8L397.7,283.8M399.6,259.6L391.0,271.3M391.6,266.2L391.0,271.3L395.8,269.2M399.6,245.5L389.1,255.5M390.6,250.5L389.1,255.5L394.2,254.3M399.6,231.3L388.0,240.1M390.1,235.3L388.0,240.1L393.2,239.4M399.6,217.1L387.6,225.3M389.9,220.6L387.6,225.3L392.8,224.9M399.6,202.7L387.6,210.8M389.8,206.1L387.6,210.8L392.7,210.5M399.6,188.3L387.7,196.6M389.9,191.9L387.7,196.6L392.9,196.1M399.6,173.8L387.6,182.0M389.9,177.3L387.6,182.0L392.8,181.6M399.6,159.2L387.8,167.6M389.9,162.9L387.8,167.6L393.0,167.1M399.6,144.5L388.9,154.2M390.5,149.3L388.9,154.2L394.0,153.1M413.2,370.6L412.9,385.1M410.4,380.5L412.9,385.1L415.6,380.6M413.2,356.8L409.1,370.8M407.9,365.7L409.1,370.8L412.9,367.2M413.2,343.1L406.4,355.9M406.2,350.7L406.4,355.9L410.8,353.1M413.2,329.3L407.2,342.5M406.7,337.4L407.2,342.5L411.5,339.5M413.2,315.5L409.3,329.4M408.0,324.4L409.3,329.4L413.0,325.8M413.2,301.6L410.6,315.9M408.9,311.0L410.6,315.9L414.0,311.9M413.2,287.7L410.0,301.8M408.5,296.8L410.0,301.8L413.5,298.0M413.2,273.7L408.1,287.2M407.2,282.1L408.1,287.2L412.1,284.0M413.2,259.6L405.5,271.9M405.7,266.7L405.5,271.9L410.1,269.5M413.2,245.5L402.8,255.6M404.2,250.6L402.8,255.6L407.8,254.3M413.2,231.3L401.6,240.1M403.6,235.3L401.6,240.1L406.8,239.4M413.2,217.1L401.4,225.5M403.6,220.8L401.4,225.5L406.6,225.0M413.2,202.7L401.4,211.2M403.6,206.4L401.4,211.2L406.6,210.7M413.2,188.3L401.6,197.0M403.6,192.2L401.6,197.0L406.8,196.4M413.2,173.8L401.9,182.9M403.8,178.0L401.9,182.9L407.0,182.1M413.2,159.2L402.5,168.9M404.1,164.0L402.5,168.9L407.6,167.8M413.2,144.5L403.7,155.4M404.7,150.3L403.7,155.4L408.6,153.7M413.2,129.6L404.9,141.5M405.4,136.4L404.9,141.5L409.6,139.3M426.8,452.4L413.6,458.3M416.6,454.1L413.6,458.3L418.7,458.8M426.8,438.8L413.2,443.7M416.5,439.7L413.2,443.7L418.3,444.6M426.8,425.2L413.1,429.9M416.5,426.0L413.1,429.9L418.2,430.9M426.8,411.6L413.8,417.9M416.7,413.6L413.8,417.9L419.0,418.3M426.8,397.9L416.6,408.2M417.9,403.2L416.6,408.2L421.6,406.8M426.8,370.6L425.6,385.0M423.4,380.3L425.6,385.0L428.5,380.7M426.8,356.8L421.6,370.4M420.8,365.2L421.6,370.4L425.6,367.1M426.8,343.1L417.3,354.0M418.3,348.9L417.3,354.0L422.2,352.3M426.8,329.3L419.2,341.6M419.3,336.4L419.2,341.6L423.8,339.2M426.8,315.5L422.1,329.2M421.1,324.1L422.1,329.2L426.0,325.8M426.8,301.6L425.3,316.0M423.2,311.3L425.3,316.0L428.3,311.8M426.8,287.7L424.3,301.9M422.5,297.1L424.3,301.9L427.6,298.0M426.8,273.7L422.6,287.5M421.4,282.5L422.6,287.5L426.4,284.0M426.8,259.6L420.2,272.5M419.9,267.3L420.2,272.5L424.5,269.7M426.8,245.5L417.0,256.2M418.1,251.1L417.0,256.2L421.9,254.6M426.8,231.3L415.6,240.6M417.4,235.7L415.6,240.6L420.8,239.7M426.8,217.1L415.4,226.0M417.3,221.2L415.4,226.0L420.5,225.3M426.8,202.7L415.3,211.6M417.3,206.8L415.3,211.6L420.5,210.9M426.8,188.3L415.6,197.6M417.4,192.7L415.6,197.6L420.8,196.7M426.8,173.8L416.2,183.7M417.7,178.7L416.2,183.7L421.3,182.5M426.8,159.2L417.1,170.0M418.2,164.9L417.1,170.0L422.1,168.4M426.8,144.5L418.5,156.4M419.0,151.2L418.5,156.4L423.2,154.2M426.8,129.6L420.2,142.5M419.9,137.3L420.2,142.5L424.6,139.7M440.4,452.4L426.8,457.5M430.1,453.5L426.8,457.5L431.9,458.3M440.4,438.8L426.5,442.8M430.1,439.1L426.5,442.8L431.5,444.1M440.4,425.2L426.3,428.7M430.1,425.1L426.3,428.7L431.3,430.1M440.4,411.6L426.4,415.2M430.1,411.6L426.4,415.2L431.4,416.6M440.4,384.3L433.8,397.2M433.5,392.0L433.8,397.2L438.1,394.3M440.4,370.6L438.3,384.9M436.4,380.1L438.3,384.9L441.5,380.8M440.4,356.8L437.3,371.0M435.8,366.1L437.3,371.0L440.8,367.2M440.4,343.1L434.2,356.2M433.8,351.0L434.2,356.2L438.5,353.3M440.4,329.3L432.3,341.3M432.7,336.2L432.3,341.3L437.0,339.1M440.4,287.7L436.7,301.7M435.3,296.7L436.7,301.7L440.3,298.0M440.4,273.7L435.5,287.3M434.6,282.2L435.5,287.3L439.5,284.0M440.4,259.6L433.7,272.5M433.5,267.3L433.7,272.5L438.1,269.7M440.4,231.3L430.2,241.6M431.5,236.6L430.2,241.6L435.2,240.2M440.4,217.1L429.6,226.8M431.2,221.8L429.6,226.8L434.7,225.7M440.4,202.7L429.5,212.3M431.2,207.4L429.5,212.3L434.6,211.3M440.4,188.3L429.9,198.3M431.4,193.3L429.9,198.3L434.9,197.1M440.4,173.8L430.5,184.4M431.7,179.4L430.5,184.4L435.5,182.9M440.4,159.2L431.5,170.6M432.2,165.5L431.5,170.6L436.3,168.7M440.4,144.5L432.8,156.8M433.0,151.6L432.8,156.8L437.4,154.3M440.4,129.6L434.0,142.7M433.7,137.5L434.0,142.7L438.4,139.7M440.4,114.7L434.3,127.8M433.8,122.6L434.3,127.8L438.5,124.8M454.0,438.8L440.1,442.9M443.7,439.1L440.1,442.9L445.2,444.1M454.0,425.2L440.0,429.0M443.7,425.3L440.0,429.0L445.0,430.3M454.0,411.6L440.0,415.4M443.7,411.7L440.0,415.4L445.1,416.7M454.0,397.9L440.9,404.1M443.9,399.9L440.9,404.1L446.1,404.6M454.0,370.6L452.4,385.0M450.3,380.2L452.4,385.0L455.5,380.8M454.0,356.8L452.0,371.2M450.1,366.4L452.0,371.2L455.2,367.1M454.0,343.1L449.6,356.9M448.5,351.8L449.6,356.9L453.4,353.4M454.0,329.3L446.9,342.0M446.9,336.8L446.9,342.0L451.4,339.3M454.0,315.5L446.9,328.1M446.9,322.9L446.9,328.1L451.4,325.5M454.0,301.6L447.7,314.7M447.3,309.5L447.7,314.7L452.0,311.7M454.0,188.3L444.1,198.9M445.3,193.9L444.1,198.9L449.1,197.4M454.0,173.8L444.8,185.0M445.6,179.8L444.8,185.0L449.6,183.2M454.0,159.2L445.7,171.0M446.1,165.9L445.7,171.0L450.4,168.8M454.0,99.6L448.1,112.9M447.6,107.7L448.1,112.9L452.3,109.8M454.0,84.4L448.3,97.8M447.7,92.6L448.3,97.8L452.5,94.6M454.0,69.1L448.6,82.5M447.8,77.4L448.6,82.5L452.7,79.3M467.6,438.8L453.8,443.3M457.3,439.4L453.8,443.3L458.9,444.3M467.6,425.2L453.7,429.3M457.3,425.5L453.7,429.3L458.8,430.5M467.6,411.6L453.7,415.6M457.3,411.9L453.7,415.6L458.7,416.9M467.6,397.9L454.2,403.4M457.4,399.3L454.2,403.4L459.3,404.1M467.6,384.3L458.0,395.1M459.0,390.0L458.0,395.1L462.9,393.5M467.6,356.8L462.5,370.4M461.6,365.3L462.5,370.4L466.5,367.1M467.6,343.1L460.7,355.8M460.5,350.6L460.7,355.8L465.1,353.1M467.6,329.3L459.7,341.5M460.0,336.3L459.7,341.5L464.3,339.1M467.6,301.6L459.1,313.4M459.7,308.2L459.1,313.4L463.9,311.2M467.6,202.7L458.0,213.6M459.0,208.5L458.0,213.6L462.9,212.0M467.6,188.3L458.3,199.4M459.2,194.3L458.3,199.4L463.2,197.6M467.6,173.8L458.9,185.4M459.5,180.2L458.9,185.4L463.7,183.3M467.6,159.2L459.6,171.3M459.9,166.1L459.6,171.3L464.3,168.9M467.6,144.5L460.4,157.0M460.4,151.8L460.4,157.0L464.9,154.4M467.6,129.6L461.1,142.6M460.8,137.4L461.1,142.6L465.4,139.7M467.6,99.6L461.9,112.9M461.3,107.8L461.9,112.9L466.0,109.8M467.6,84.4L462.1,97.9M461.4,92.7L462.1,97.9L466.3,94.7M467.6,69.1L462.4,82.6M461.6,77.5L462.4,82.6L466.5,79.3M467.6,53.6L462.6,67.2M461.7,62.1L462.6,67.2L466.6,63.9M467.6,38.0L462.5,51.6M461.7,46.4L462.5,51.6L466.6,48.3M481.2,438.8L467.6,443.8M470.9,439.8L467.6,443.8L472.7,444.7M481.2,425.2L467.4,429.7M470.9,425.9L467.4,429.7L472.5,430.8M481.2,411.6L467.4,416.0M470.9,412.1L467.4,416.0L472.5,417.1M481.2,397.9L467.9,403.7M471.0,399.5L467.9,403.7L473.1,404.3M481.2,384.3L469.8,393.3M471.7,388.4L469.8,393.3L475.0,392.5M481.2,370.6L472.2,381.9M473.0,376.8L472.2,381.9L477.0,380.0M481.2,343.1L472.7,354.8M473.2,349.7L472.7,354.8L477.4,352.7M481.2,259.6L473.0,271.6M473.4,266.4L473.0,271.6L477.7,269.3M481.2,245.5L472.8,257.3M473.3,252.1L472.8,257.3L477.5,255.2M481.2,231.3L472.4,242.8M473.0,237.7L472.4,242.8L477.2,240.8M481.2,217.1L472.0,228.3M472.8,223.2L472.0,228.3L476.9,226.5M481.2,202.7L472.0,213.9M472.8,208.8L472.0,213.9L476.8,212.1M481.2,188.3L472.3,199.7M473.0,194.6L472.3,199.7L477.1,197.8M481.2,173.8L472.8,185.6M473.3,180.4L472.8,185.6L477.5,183.4M481.2,159.2L473.4,171.4M473.7,166.2L473.4,171.4L478.1,169.0M481.2,144.5L474.1,157.1M474.0,151.9L474.1,157.1L478.6,154.4M481.2,129.6L474.7,142.6M474.4,137.4L474.7,142.6L479.1,139.7M481.2,114.7L475.2,127.9M474.7,122.7L475.2,127.9L479.4,124.9M481.2,99.6L475.5,113.0M474.9,107.8L475.5,113.0L479.7,109.8M481.2,84.4L475.9,97.9M475.1,92.7L475.9,97.9L479.9,94.7M481.2,69.1L476.1,82.7M475.3,77.5L476.1,82.7L480.1,79.4M481.2,53.6L476.3,67.2M475.4,62.1L476.3,67.2L480.3,63.9M481.2,38.0L476.3,51.6M475.3,46.5L476.3,51.6L480.2,48.3M494.8,438.8L481.9,445.3M484.7,441.0L481.9,445.3L487.1,445.6M494.8,425.2L481.4,430.8M484.6,426.7L481.4,430.8L486.6,431.5M494.8,411.6L481.2,416.6M484.5,412.6L481.2,416.6L486.3,417.5M494.8,397.9L481.7,404.1M484.7,399.8L481.7,404.1L486.9,404.5M494.8,384.3L482.8,392.3M485.1,387.7L482.8,392.3L488.0,392.0M494.8,370.6L484.0,380.3M485.6,375.3L484.0,380.3L489.1,379.2M494.8,259.6L486.6,271.6M487.0,266.4L486.6,271.6L491.3,269.4M494.8,245.5L486.6,257.5M487.0,252.3L486.6,257.5L491.3,255.2M494.8,231.3L486.1,243.0M486.7,237.8L486.1,243.0L490.9,240.9M494.8,217.1L485.7,228.4M486.5,223.2L485.7,228.4L490.5,226.5M494.8,202.7L485.6,213.9M486.4,208.8L485.6,213.9L490.5,212.1M494.8,188.3L486.0,199.8M486.7,194.7L486.0,199.8L490.8,197.8M494.8,173.8L486.6,185.8M487.0,180.6L486.6,185.8L491.3,183.5M494.8,159.2L487.2,171.5M487.3,166.3L487.2,171.5L491.7,169.0M494.8,144.5L487.8,157.1M487.7,151.9L487.8,157.1L492.2,154.5M494.8,129.6L488.3,142.6M488.0,137.4L488.3,142.6L492.7,139.7M494.8,114.7L488.8,127.9M488.3,122.7L488.8,127.9L493.0,124.9M494.8,99.6L489.1,113.0M488.5,107.8L489.1,113.0L493.3,109.8M494.8,84.4L489.5,97.9M488.7,92.8L489.5,97.9L493.5,94.7M494.8,69.1L489.7,82.7M488.9,77.5L489.7,82.7L493.7,79.4M494.8,53.6L489.9,67.2M489.0,62.1L489.9,67.2L493.9,63.9M494.8,38.0L489.9,51.6M489.0,46.5L489.9,51.6L493.8,48.3M508.4,452.4L497.3,461.7M499.1,456.8L497.3,461.7L502.4,460.8M508.4,438.8L496.5,447.1M498.7,442.4L496.5,447.1L501.7,446.7M508.4,425.2L495.8,432.4M498.4,427.9L495.8,432.4L501.0,432.4M508.4,411.6L495.5,418.1M498.3,413.7L495.5,418.1L500.7,418.4M508.4,397.9L495.6,404.8M498.4,400.3L495.6,404.8L500.8,404.9M508.4,384.3L496.2,392.0M498.6,387.4L496.2,392.0L501.4,391.8M508.4,273.7L499.9,285.4M500.4,280.2L499.9,285.4L504.6,283.3M508.4,259.6L500.6,271.8M500.8,266.6L500.6,271.8L505.2,269.5M508.4,245.5L500.6,257.8M500.9,252.6L500.6,257.8L505.2,255.4M508.4,231.3L499.9,243.1M500.4,237.9L499.9,243.1L504.6,241.0M508.4,217.1L499.1,228.2M500.0,223.1L499.1,228.2L504.0,226.4M508.4,202.7L498.8,213.6M499.8,208.5L498.8,213.6L503.7,212.0M508.4,188.3L499.3,199.6M500.1,194.5L499.3,199.6L504.2,197.7M508.4,173.8L500.1,185.7M500.5,180.5L500.1,185.7L504.8,183.5M508.4,159.2L500.7,171.5M500.9,166.3L500.7,171.5L505.3,169.0M508.4,144.5L501.4,157.1M501.3,151.9L501.4,157.1L505.8,154.5M508.4,129.6L501.9,142.6M501.6,137.4L501.9,142.6L506.3,139.7M508.4,99.6L502.7,112.9M502.1,107.8L502.7,112.9L506.9,109.8M508.4,84.4L503.0,97.9M502.3,92.7L503.0,97.9L507.1,94.7M508.4,69.1L503.2,82.6M502.4,77.5L503.2,82.6L507.3,79.3M508.4,53.6L503.4,67.2M502.5,62.1L503.4,67.2L507.4,63.9M508.4,38.0L503.4,51.6M502.5,46.5L503.4,51.6L507.4,48.3M522.0,452.4L512.5,463.4M513.5,458.3L512.5,463.4L517.4,461.7M522.0,438.8L511.5,448.7M512.9,443.8L511.5,448.7L516.5,447.5M522.0,425.2L510.3,433.8M512.4,429.0L510.3,433.8L515.5,433.2M522.0,397.9L509.6,405.4M512.1,400.8L509.6,405.4L514.8,405.3M522.0,384.3L509.7,392.0M512.2,387.4L509.7,392.0L514.9,391.8M522.0,315.5L511.3,325.3M512.9,320.4L511.3,325.3L516.4,324.2M522.0,287.7L512.8,298.9M513.7,293.8L512.8,298.9L517.7,297.1M522.0,273.7L513.7,285.6M514.1,280.4L513.7,285.6L518.4,283.4M522.0,259.6L514.5,272.0M514.6,266.8L514.5,272.0L519.0,269.5M522.0,245.5L514.5,258.0M514.6,252.8L514.5,258.0L519.1,255.4M522.0,231.3L513.6,243.1M514.1,238.0L513.6,243.1L518.3,241.0M522.0,217.1L512.5,228.0M513.5,222.9L512.5,228.0L517.4,226.3M522.0,202.7L511.8,213.0M513.1,208.0L511.8,213.0L516.8,211.7M522.0,188.3L512.4,199.2M513.5,194.1L512.4,199.2L517.4,197.5M522.0,173.8L513.3,185.4M513.9,180.3L513.3,185.4L518.1,183.4M522.0,159.2L514.2,171.4M514.4,166.2L514.2,171.4L518.8,169.0M522.0,144.5L514.9,157.1M514.9,151.9L514.9,157.1L519.4,154.5M522.0,129.6L515.5,142.6M515.2,137.4L515.5,142.6L519.8,139.7M522.0,114.7L515.8,127.8M515.4,122.6L515.8,127.8L520.1,124.8M522.0,99.6L516.2,112.9M515.6,107.7L516.2,112.9L520.4,109.8M522.0,84.4L516.5,97.8M515.8,92.7L516.5,97.8L520.6,94.6M522.0,69.1L516.7,82.6M515.9,77.4L516.7,82.6L520.8,79.3M522.0,53.6L516.8,67.2M516.0,62.0L516.8,67.2L520.9,63.9M522.0,38.0L516.9,51.6M516.1,46.4L516.9,51.6L520.9,48.3M535.6,452.4L527.0,464.0M527.6,458.9L527.0,464.0L531.7,462.0M535.6,438.8L525.8,449.5M526.9,444.4L525.8,449.5L530.7,447.9M535.6,425.2L524.5,434.5M526.3,429.6L524.5,434.5L529.6,433.6M535.6,411.6L523.7,419.9M525.9,415.2L523.7,419.9L528.9,419.4M535.6,397.9L523.5,405.8M525.8,401.2L523.5,405.8L528.6,405.6M535.6,384.3L523.4,392.1M525.8,387.5L523.4,392.1L528.6,391.8M535.6,370.6L523.4,378.5M525.8,373.8L523.4,378.5L528.6,378.2M535.6,343.1L523.7,351.4M525.9,346.7L523.7,351.4L528.9,350.9M535.6,329.3L524.0,338.1M526.1,333.3L524.0,338.1L529.2,337.4M535.6,315.5L524.7,325.1M526.4,320.1L524.7,325.1L529.8,324.0M535.6,301.6L525.6,312.1M526.8,307.1L525.6,312.1L530.6,310.6M535.6,287.7L526.6,299.0M527.3,293.9L526.6,299.0L531.4,297.1M535.6,273.7L527.5,285.7M527.8,280.5L527.5,285.7L532.1,283.4M535.6,259.6L528.2,272.1M528.3,266.9L528.2,272.1L532.7,269.6M535.6,245.5L528.4,258.1M528.4,252.9L528.4,258.1L532.9,255.5M535.6,231.3L527.2,243.2M527.7,238.0L527.2,243.2L532.0,241.0M535.6,217.1L526.0,227.9M527.0,222.8L526.0,227.9L530.9,226.3M535.6,202.7L525.2,212.8M526.6,207.8L525.2,212.8L530.2,211.6M535.6,188.3L525.8,199.0M526.9,193.9L525.8,199.0L530.7,197.4M535.6,173.8L526.8,185.3M527.5,180.2L526.8,185.3L531.6,183.3M535.6,159.2L527.7,171.3M528.0,166.1L527.7,171.3L532.3,169.0M535.6,144.5L528.4,157.0M528.4,151.8L528.4,157.0L532.9,154.4M535.6,129.6L528.9,142.5M528.7,137.3L528.9,142.5L533.3,139.7M535.6,114.7L529.3,127.7M528.9,122.6L529.3,127.7L533.6,124.8M535.6,99.6L529.6,112.8M529.1,107.7L529.6,112.8L533.9,109.8M535.6,84.4L529.9,97.8M529.3,92.6L529.9,97.8L534.1,94.6M535.6,69.1L530.1,82.5M529.4,77.4L530.1,82.5L534.2,79.3M535.6,53.6L530.3,67.1M529.5,62.0L530.3,67.1L534.4,63.9M535.6,38.0L530.4,51.5M529.6,46.4L530.4,51.5L534.4,48.2M549.2,425.2L538.2,434.6M539.9,429.7L538.2,434.6L543.3,433.6M549.2,411.6L537.5,420.2M539.6,415.4L537.5,420.2L542.7,419.6M549.2,397.9L537.3,406.1M539.5,401.4L537.3,406.1L542.4,405.7M549.2,384.3L537.1,392.3M539.4,387.6L537.1,392.3L542.3,391.9M549.2,370.6L537.0,378.4M539.4,373.8L537.0,378.4L542.2,378.2M549.2,356.8L537.0,364.6M539.4,360.0L537.0,364.6L542.2,364.4M549.2,343.1L537.0,351.0M539.4,346.3L537.0,351.0L542.2,350.7M549.2,329.3L537.3,337.5M539.5,332.8L537.3,337.5L542.4,337.1M549.2,315.5L538.2,324.9M539.9,320.0L538.2,324.9L543.3,323.9M549.2,301.6L539.2,312.1M540.4,307.1L539.2,312.1L544.2,310.6M549.2,287.7L540.2,299.1M541.0,293.9L540.2,299.1L545.1,297.1M549.2,273.7L541.1,285.7M541.4,280.5L541.1,285.7L545.8,283.4M549.2,259.6L541.8,272.1M541.8,266.9L541.8,272.1L546.3,269.6M549.2,245.5L541.8,258.0M541.9,252.8L541.8,258.0L546.4,255.5M549.2,231.3L540.8,243.1M541.3,238.0L540.8,243.1L545.5,241.0M549.2,217.1L539.5,227.8M540.6,222.8L539.5,227.8L544.4,226.2M549.2,202.7L538.8,212.9M540.2,207.9L538.8,212.9L543.9,211.6M549.2,188.3L539.4,199.0M540.5,194.0L539.4,199.0L544.4,197.5M549.2,173.8L540.6,185.4M541.1,180.3L540.6,185.4L545.3,183.4M549.2,159.2L541.3,171.3M541.6,166.1L541.3,171.3L545.9,169.0M549.2,144.5L541.9,157.0M541.9,151.8L541.9,157.0L546.4,154.4M549.2,129.6L542.4,142.4M542.2,137.2L542.4,142.4L546.8,139.7M549.2,114.7L542.7,127.7M542.4,122.5L542.7,127.7L547.1,124.8M549.2,99.6L543.1,112.8M542.6,107.6L543.1,112.8L547.3,109.8M549.2,69.1L543.6,82.4M542.9,77.3L543.6,82.4L547.7,79.3M549.2,53.6L543.7,67.0M543.0,61.9L543.7,67.0L547.8,63.8M549.2,38.0L543.8,51.5M543.1,46.3L543.8,51.5L547.9,48.2M562.8,452.4L553.3,463.3M554.3,458.2L553.3,463.3L558.2,461.6M562.8,438.8L552.6,449.1M553.9,444.1L552.6,449.1L557.7,447.8M562.8,411.6L551.4,420.5M553.3,415.7L551.4,420.5L556.5,419.8M562.8,397.9L551.1,406.5M553.2,401.7L551.1,406.5L556.3,405.9M562.8,384.3L550.9,392.5M553.1,387.8L550.9,392.5L556.1,392.1M562.8,370.6L550.8,378.6M553.1,374.0L550.8,378.6L555.9,378.3M562.8,356.8L550.7,364.8M553.0,360.2L550.7,364.8L555.9,364.5M562.8,343.1L550.8,351.2M553.1,346.5L550.8,351.2L556.0,350.8M562.8,329.3L551.1,337.9M553.2,333.1L551.1,337.9L556.3,337.3M562.8,315.5L551.8,325.0M553.5,320.1L551.8,325.0L557.0,324.0M562.8,301.6L552.8,312.1M554.0,307.0L552.8,312.1L557.8,310.6M562.8,287.7L553.7,299.0M554.5,293.8L553.7,299.0L558.6,297.1M562.8,273.7L554.5,285.6M555.0,280.4L554.5,285.6L559.2,283.4M562.8,259.6L555.2,272.0M555.4,266.8L555.2,272.0L559.8,269.5M562.8,245.5L555.3,257.9M555.4,252.7L555.3,257.9L559.8,255.4M562.8,231.3L554.2,243.0M554.8,237.8L554.2,243.0L559.0,240.9M562.8,217.1L553.0,227.8M554.1,222.7L553.0,227.8L558.0,226.2M562.8,202.7L552.4,212.8M553.8,207.8L552.4,212.8L557.4,211.5M562.8,188.3L553.2,199.2M554.3,194.1L553.2,199.2L558.2,197.5M562.8,173.8L554.4,185.6M554.9,180.5L554.4,185.6L559.2,183.5M562.8,159.2L554.9,171.4M555.2,166.2L554.9,171.4L559.6,169.0M562.8,144.5L555.4,156.9M555.5,151.7L555.4,156.9L559.9,154.4M562.8,129.6L555.8,142.3M555.7,137.1L555.8,142.3L560.3,139.6M562.8,114.7L556.2,127.6M555.9,122.4L556.2,127.6L560.6,124.8M562.8,99.6L556.5,112.7M556.1,107.5L556.5,112.7L560.8,109.7M562.8,84.4L556.8,97.6M556.3,92.4L556.8,97.6L561.0,94.6M562.8,69.1L557.0,82.4M556.4,77.2L557.0,82.4L561.2,79.3M562.8,53.6L557.2,67.0M556.5,61.8L557.2,67.0L561.3,63.8M562.8,38.0L557.3,51.4M556.6,46.2L557.3,51.4L561.4,48.2M576.4,452.4L566.6,463.1M567.8,458.0L566.6,463.1L571.6,461.5M576.4,438.8L566.2,449.1M567.5,444.1L566.2,449.1L571.2,447.7M576.4,425.2L565.7,434.9M567.3,430.0L565.7,434.9L570.7,433.8M576.4,411.6L565.2,420.8M567.0,415.9L565.2,420.8L570.4,419.9M576.4,397.9L564.9,406.8M566.9,402.0L564.9,406.8L570.1,406.1M576.4,384.3L564.7,392.8M566.8,388.1L564.7,392.8L569.9,392.3M576.4,370.6L564.6,379.0M566.8,374.3L564.6,379.0L569.8,378.5M576.4,356.8L564.6,365.2M566.7,360.5L564.6,365.2L569.8,364.8M576.4,343.1L564.7,351.7M566.8,346.9L564.7,351.7L569.9,351.1M576.4,329.3L565.0,338.3M567.0,333.5L565.0,338.3L570.2,337.6M576.4,315.5L565.6,325.2M567.2,320.2L565.6,325.2L570.7,324.1M576.4,301.6L566.4,312.1M567.6,307.0L566.4,312.1L571.4,310.6M576.4,287.7L567.1,298.8M568.0,293.7L567.1,298.8L572.0,297.0M576.4,273.7L567.8,285.4M568.4,280.2L567.8,285.4L572.6,283.3M576.4,259.6L568.3,271.7M568.7,266.5L568.3,271.7L573.0,269.4M576.4,245.5L568.3,257.6M568.7,252.4L568.3,257.6L573.0,255.3M576.4,231.3L567.6,242.9M568.3,237.7L567.6,242.9L572.4,240.9M576.4,217.1L566.8,228.0M567.8,222.9L566.8,228.0L571.8,226.3M576.4,202.7L566.5,213.3M567.7,208.3L566.5,213.3L571.5,211.8M576.4,188.3L567.0,199.4M568.0,194.3L567.0,199.4L571.9,197.6M576.4,173.8L567.8,185.5M568.4,180.3L567.8,185.5L572.6,183.4M576.4,159.2L568.4,171.3M568.7,166.1L568.4,171.3L573.1,169.0M576.4,144.5L568.9,156.8M569.0,151.6L568.9,156.8L573.4,154.3M576.4,129.6L569.3,142.2M569.2,137.0L569.3,142.2L573.7,139.6M576.4,114.7L569.6,127.5M569.4,122.3L569.6,127.5L574.0,124.7M576.4,99.6L569.9,112.6M569.6,107.4L569.9,112.6L574.3,109.7M576.4,84.4L570.2,97.5M569.8,92.3L570.2,97.5L574.5,94.6M576.4,69.1L570.4,82.3M569.9,77.1L570.4,82.3L574.6,79.3M576.4,53.6L570.6,66.9M570.0,61.7L570.6,66.9L574.8,63.8M576.4,38.0L570.7,51.3M570.1,46.2L570.7,51.3L574.9,48.2" stroke="#00008b" stroke-width="1" fill="none" shape-rendering="crispEdges"/>
<g filter="url(#jag)"><path d="M444.0,130.0 442.0,136.0 443.0,142.0 445.0,150.0 448.0,156.0 450.0,160.0 452.0,160.0 454.0,154.0 457.0,148.0 460.0,142.0 461.0,138.0 462.0,134.0 464.0,126.0 466.0,118.0 465.0,112.0 461.0,110.0 455.0,113.0 451.0,118.0 447.0,124.0ZM287.0,206.0 291.0,211.0 298.8,212.5 306.0,210.0 311.0,205.0 315.0,198.8 318.0,193.0 316.9,189.4 312.5,187.5 303.8,190.0 296.0,192.0 290.6,195.0 286.0,200.0ZM441.0,237.0 438.0,243.0 434.0,244.5 433.5,248.5 439.0,250.0 442.0,256.0 445.0,263.0 449.0,267.0 450.6,272.0 455.0,275.0 461.3,274.5 462.7,273.9 465.8,274.4 470.4,276.0 476.4,276.7 480.7,279.0 483.7,283.6 486.8,286.6 490.1,290.4 493.4,288.9 491.9,286.3 490.4,281.4 487.4,276.9 482.8,273.8 477.9,269.3 470.4,270.8 462.9,267.9 461.0,263.0 463.0,257.0 469.0,245.0 472.0,231.0 473.0,220.0 472.5,214.0 471.0,208.5 467.0,212.0 460.0,210.0 452.0,208.5 447.0,210.0 446.5,216.0 446.0,224.0 444.0,230.0ZM170.0,376.0 173.0,386.0 175.0,396.0 178.0,406.0 177.8,400.0 181.8,409.9 186.8,417.9 192.7,425.8 200.7,432.8 208.6,439.7 216.6,445.7 221.5,447.7 223.5,446.7 225.5,442.7 222.5,433.8 218.5,423.8 216.6,411.9 214.0,412.0 215.0,402.0 212.0,394.0 206.0,387.0 199.0,381.0 193.0,375.0 185.0,372.0 176.0,369.0 174.0,360.0 170.0,350.0 168.5,342.6 165.0,340.0 159.0,338.0 158.0,328.0 160.0,318.0 164.0,310.0 169.0,300.0 168.0,292.0 169.0,282.0 174.0,280.4 182.0,281.0 181.0,288.0 183.0,293.0 193.0,292.0 199.0,296.0 204.0,303.0 210.0,311.0 217.0,318.0 219.0,314.0 221.0,321.0 230.0,323.0 236.0,328.0 235.0,336.0 233.0,336.0 234.0,344.0 237.0,347.0 242.0,343.0 244.0,343.0 250.0,338.0 258.0,332.0 262.0,328.0 268.0,323.0 278.0,317.0 286.0,312.0 292.0,307.0 295.0,298.0 294.0,288.0 295.0,278.0 292.0,268.0 290.0,260.0 284.0,250.0 278.0,244.0 274.0,241.0 266.0,234.0 261.0,226.0 256.0,218.0 250.0,210.0 245.6,202.0 248.0,190.0 253.0,185.0 258.0,179.0 259.0,174.0 268.0,171.0 272.0,166.0 277.5,164.0 284.0,162.5 289.0,164.0 294.0,165.6 298.0,164.0 301.0,167.0 301.0,169.0 302.0,175.0 303.0,180.0 305.6,184.4 308.8,185.0 310.6,182.0 307.5,179.0 307.0,174.0 310.0,170.0 314.0,169.0 320.0,165.6 326.0,164.0 332.5,162.5 340.0,160.6 343.0,161.0 350.0,157.0 360.0,155.0 367.0,150.0 376.0,147.0 386.0,146.0 393.0,143.0 399.0,136.0 406.0,131.0 412.0,124.0 420.0,119.0 428.0,114.0 430.7,111.0 434.0,108.0 437.9,103.9 437.0,98.0 435.0,93.0 434.3,89.6 440.0,86.0 445.0,82.4 446.0,76.0 448.6,70.0 455.7,66.4 461.0,62.0 462.5,58.0 459.3,52.0 461.0,46.0 464.6,40.0 466.0,38.0 466.0,36.0 153.0,36.0 153.0,356.0 155.0,356.0 160.0,362.0 165.0,370.0ZM460.9,290.8 460.0,284.5 455.2,280.5 446.8,281.7 448.8,287.0 451.8,292.7 455.2,298.1 458.5,295.7ZM473.7,317.7 479.0,314.7 482.2,310.6 479.8,308.0 472.6,305.0 467.0,303.3 467.8,312.9 466.3,320.7 469.1,321.5ZM423.0,328.4 418.7,332.7 414.4,337.7 408.7,342.7 403.0,347.7 398.7,354.1 399.0,357.0 401.3,355.9 405.6,349.5 411.3,344.5 417.0,339.5 421.3,334.5 425.6,330.2 431.3,324.5 434.2,317.3 437.0,310.2 441.3,301.6 441.0,298.5 438.7,299.8 434.4,308.4 431.6,315.5 428.7,322.7ZM281.5,410.0 279.5,408.0 277.5,409.0 276.8,413.0 278.0,416.0 280.0,416.5 281.5,414.0ZM291.1,447.7 290.1,455.6 293.1,461.6 293.0,472.0 408.0,472.0 410.0,456.0 418.0,454.0 426.0,453.0 420.0,449.0 414.0,444.0 410.0,436.0 408.0,428.0 405.0,420.0 408.0,416.0 410.0,408.0 415.0,403.0 418.0,399.0 426.0,397.0 430.0,394.0 422.0,390.0 414.0,387.0 408.0,382.0 405.0,375.0 400.0,367.0 396.0,370.0 392.0,377.0 386.0,384.0 380.0,390.0 374.0,395.0 368.0,400.0 361.0,404.0 357.0,408.0 351.0,414.0 345.0,420.0 338.0,424.0 330.0,427.0 323.0,429.0 320.0,437.0 316.0,441.0 310.0,442.0 302.0,444.0 300.4,437.6 302.9,434.6 300.0,436.8 295.0,439.7ZM209.6,462.6 211.6,458.6 206.6,454.6 200.7,450.7 196.7,444.7 192.7,439.7 187.8,436.8 183.8,439.7 179.8,436.8 173.8,434.8 168.9,428.8 161.9,421.9 155.0,416.9 153.0,413.0 153.0,458.0 158.0,458.0 160.0,472.0 205.6,472.0ZM471.5,459.9 481.1,459.9 490.6,459.9 499.0,457.5 503.7,453.9 508.5,449.1 510.9,443.2 508.5,440.8 504.9,444.4 497.8,450.3 488.2,452.7 478.7,452.7 469.1,451.5 459.6,448.0 451.3,449.1 444.1,452.7 438.1,458.7 439.3,472.0 444.1,472.0 447.7,458.7 453.6,456.3 462.0,457.5ZM498.6,273.1 495.1,272.3 494.3,277.2 497.1,279.8 499.5,277.2ZM490.1,297.4 483.7,295.1 485.5,299.5 490.1,302.5 493.4,301.5ZM516.4,309.1 514.7,301.2 511.6,295.8 506.8,293.4 498.9,294.3 502.7,299.5 506.5,302.5 509.1,307.8 513.2,311.8ZM507.1,316.6 504.8,311.8 500.4,310.3 501.9,315.9 504.4,321.5 507.1,326.2 508.8,322.7ZM493.7,317.4 491.6,315.6 489.0,321.2 486.8,327.3 484.2,332.5 484.3,331.8 485.8,325.8 487.4,319.7 485.5,316.3 480.7,317.1 479.5,322.7 477.6,328.8 473.1,331.1 473.8,334.4 477.6,336.7 481.0,341.2 483.6,339.7 484.2,333.2 485.5,334.4 488.1,330.3 491.2,324.2ZM492.1,330.3 493.9,333.9 498.7,332.9 500.3,329.5 496.2,327.7ZM505.0,347.0 499.0,350.0 496.0,354.0 492.0,355.0 490.0,350.0 486.0,347.0 481.0,350.0 477.0,354.0 472.0,356.0 469.0,360.0 465.6,367.0 467.0,370.0 470.0,366.0 473.0,360.0 477.0,358.0 480.0,362.0 483.0,360.0 485.0,363.0 488.0,359.0 491.0,357.0 495.0,359.0 497.0,366.0 495.0,373.0 497.0,379.0 502.0,383.0 507.0,384.0 511.0,384.0 514.0,387.0 518.0,380.0 517.0,372.0 519.0,367.0 522.0,372.0 524.0,380.0 525.0,374.0 528.0,370.0 529.0,363.0 526.0,356.0 527.0,348.0 524.0,342.0 520.0,338.0 516.0,334.0 515.0,336.0 514.0,340.0 509.0,343.0ZM552.6,431.3 552.1,437.2 555.5,438.4 557.8,433.6 556.2,429.6ZM552.6,458.7 557.4,453.9 558.6,446.8 555.0,444.4 549.0,450.3 545.4,451.5 549.0,444.4 547.8,436.0 543.1,439.6 540.7,449.1 541.9,456.3 543.1,472.0 549.0,472.0Z" fill="#c0c0c0" stroke="#000" stroke-width="1.8" stroke-linejoin="round" fill-rule="evenodd"/><path d="M550.5,92.0 551.1,91.1 551.6,90.2 552.0,89.4 552.3,88.5 552.4,87.8 552.5,87.2 552.4,86.8 552.2,86.5 551.8,86.4 551.4,86.4 550.8,86.7 550.2,87.1 549.5,87.6 548.8,88.3 548.2,89.1 547.5,90.0 546.9,90.9 546.4,91.8 546.0,92.6 545.7,93.5 545.6,94.2 545.5,94.8 545.6,95.2 545.8,95.5 546.2,95.6 546.6,95.6 547.2,95.3 547.8,94.9 548.5,94.4 549.2,93.7 549.8,92.9ZM572.4,66.4 572.5,66.1 572.5,65.8 572.5,65.4 572.3,65.0 572.0,64.6 571.7,64.3 571.3,63.9 570.8,63.6 570.3,63.4 569.8,63.2 569.3,63.1 568.9,63.0 568.4,63.1 568.1,63.2 567.8,63.4 567.6,63.6 567.5,63.9 567.5,64.2 567.5,64.6 567.7,65.0 568.0,65.4 568.3,65.7 568.7,66.1 569.2,66.4 569.7,66.6 570.2,66.8 570.7,66.9 571.1,67.0 571.6,66.9 571.9,66.8 572.2,66.6ZM563.2,73.0 563.2,72.8 563.1,72.5 563.0,72.3 562.8,72.2 562.7,72.0 562.5,71.9 562.2,71.8 562.0,71.8 561.8,71.8 561.5,71.9 561.3,72.0 561.2,72.2 561.0,72.3 560.9,72.5 560.8,72.8 560.8,73.0 560.8,73.2 560.9,73.5 561.0,73.7 561.2,73.8 561.3,74.0 561.5,74.1 561.8,74.2 562.0,74.2 562.2,74.2 562.5,74.1 562.7,74.0 562.8,73.8 563.0,73.7 563.1,73.5 563.2,73.2ZM557.3,79.0 557.3,78.8 557.2,78.6 557.1,78.4 556.9,78.2 556.7,78.1 556.5,78.0 556.3,77.9 556.0,77.9 555.7,77.9 555.5,78.0 555.3,78.1 555.1,78.2 554.9,78.4 554.8,78.6 554.7,78.8 554.7,79.0 554.7,79.2 554.8,79.4 554.9,79.6 555.1,79.8 555.3,79.9 555.5,80.0 555.7,80.1 556.0,80.1 556.3,80.1 556.5,80.0 556.7,79.9 556.9,79.8 557.1,79.6 557.2,79.4 557.3,79.2ZM576.2,55.0 576.2,54.7 576.1,54.4 576.0,54.2 575.8,53.9 575.7,53.8 575.5,53.6 575.2,53.5 575.0,53.5 574.8,53.5 574.5,53.6 574.3,53.8 574.2,53.9 574.0,54.2 573.9,54.4 573.8,54.7 573.8,55.0 573.8,55.3 573.9,55.6 574.0,55.8 574.2,56.1 574.3,56.2 574.5,56.4 574.8,56.5 575.0,56.5 575.2,56.5 575.5,56.4 575.7,56.2 575.8,56.1 576.0,55.8 576.1,55.6 576.2,55.3ZM535.0,95.0 535.0,94.8 534.9,94.7 534.8,94.6 534.7,94.4 534.6,94.3 534.4,94.3 534.2,94.2 534.0,94.2 533.8,94.2 533.6,94.3 533.4,94.3 533.3,94.4 533.2,94.6 533.1,94.7 533.0,94.8 533.0,95.0 533.0,95.2 533.1,95.3 533.2,95.4 533.3,95.6 533.4,95.7 533.6,95.7 533.8,95.8 534.0,95.8 534.2,95.8 534.4,95.7 534.6,95.7 534.7,95.6 534.8,95.4 534.9,95.3 535.0,95.2ZM540.0,96.0 540.0,95.8 539.9,95.7 539.8,95.6 539.7,95.4 539.6,95.3 539.4,95.3 539.2,95.2 539.0,95.2 538.8,95.2 538.6,95.3 538.4,95.3 538.3,95.4 538.2,95.6 538.1,95.7 538.0,95.8 538.0,96.0 538.0,96.2 538.1,96.3 538.2,96.4 538.3,96.6 538.4,96.7 538.6,96.7 538.8,96.8 539.0,96.8 539.2,96.8 539.4,96.7 539.6,96.7 539.7,96.6 539.8,96.4 539.9,96.3 540.0,96.2ZM497.9,123.3 497.8,123.1 497.6,122.9 497.1,122.7 496.6,122.6 496.0,122.5 495.3,122.6 494.5,122.6 493.8,122.7 493.0,122.9 492.3,123.1 491.6,123.3 491.1,123.6 490.6,123.9 490.3,124.2 490.1,124.4 490.1,124.7 490.2,124.9 490.4,125.1 490.9,125.3 491.4,125.4 492.0,125.5 492.7,125.4 493.5,125.4 494.2,125.3 495.0,125.1 495.7,124.9 496.4,124.7 496.9,124.4 497.4,124.1 497.7,123.8 497.9,123.6ZM513.4,118.1 513.4,117.9 513.4,117.7 513.4,117.5 513.2,117.3 513.1,117.1 512.9,116.9 512.6,116.8 512.3,116.7 512.1,116.6 511.8,116.5 511.5,116.5 511.2,116.6 511.0,116.7 510.8,116.8 510.7,116.9 510.6,117.1 510.6,117.3 510.6,117.5 510.6,117.7 510.8,117.9 510.9,118.1 511.1,118.3 511.4,118.4 511.7,118.5 511.9,118.6 512.2,118.7 512.5,118.7 512.8,118.6 513.0,118.5 513.2,118.4 513.3,118.3ZM481.0,123.0 481.0,122.8 480.9,122.7 480.8,122.6 480.7,122.4 480.6,122.3 480.4,122.3 480.2,122.2 480.0,122.2 479.8,122.2 479.6,122.3 479.4,122.3 479.3,122.4 479.2,122.6 479.1,122.7 479.0,122.8 479.0,123.0 479.0,123.2 479.1,123.3 479.2,123.4 479.3,123.6 479.4,123.7 479.6,123.7 479.8,123.8 480.0,123.8 480.2,123.8 480.4,123.7 480.6,123.7 480.7,123.6 480.8,123.4 480.9,123.3 481.0,123.2ZM489.0,103.0 489.0,102.9 488.9,102.8 488.8,102.7 488.7,102.6 488.6,102.5 488.4,102.4 488.2,102.4 488.0,102.4 487.8,102.4 487.6,102.4 487.4,102.5 487.3,102.6 487.2,102.7 487.1,102.8 487.0,102.9 487.0,103.0 487.0,103.1 487.1,103.2 487.2,103.3 487.3,103.4 487.4,103.5 487.6,103.6 487.8,103.6 488.0,103.6 488.2,103.6 488.4,103.6 488.6,103.5 488.7,103.4 488.8,103.3 488.9,103.2 489.0,103.1ZM504.8,122.0 504.8,121.8 504.7,121.6 504.7,121.4 504.6,121.3 504.4,121.2 504.3,121.1 504.2,121.0 504.0,121.0 503.8,121.0 503.7,121.1 503.6,121.2 503.4,121.3 503.3,121.4 503.3,121.6 503.2,121.8 503.2,122.0 503.2,122.2 503.3,122.4 503.3,122.6 503.4,122.7 503.6,122.8 503.7,122.9 503.8,123.0 504.0,123.0 504.2,123.0 504.3,122.9 504.4,122.8 504.6,122.7 504.7,122.6 504.7,122.4 504.8,122.2ZM467.0,175.0 467.0,174.6 466.9,174.2 466.8,173.9 466.7,173.6 466.6,173.3 466.4,173.2 466.2,173.0 466.0,173.0 465.8,173.0 465.6,173.2 465.4,173.3 465.3,173.6 465.2,173.9 465.1,174.2 465.0,174.6 465.0,175.0 465.0,175.4 465.1,175.8 465.2,176.1 465.3,176.4 465.4,176.7 465.6,176.8 465.8,177.0 466.0,177.0 466.2,177.0 466.4,176.8 466.6,176.7 466.7,176.4 466.8,176.1 466.9,175.8 467.0,175.4ZM466.2,182.0 466.2,181.8 466.1,181.5 466.0,181.3 465.8,181.2 465.7,181.0 465.5,180.9 465.2,180.8 465.0,180.8 464.8,180.8 464.5,180.9 464.3,181.0 464.2,181.2 464.0,181.3 463.9,181.5 463.8,181.8 463.8,182.0 463.8,182.2 463.9,182.5 464.0,182.7 464.2,182.8 464.3,183.0 464.5,183.1 464.8,183.2 465.0,183.2 465.2,183.2 465.5,183.1 465.7,183.0 465.8,182.8 466.0,182.7 466.1,182.5 466.2,182.2ZM461.5,198.0 461.5,197.7 461.4,197.4 461.2,197.2 461.1,196.9 460.8,196.8 460.6,196.6 460.3,196.5 460.0,196.5 459.7,196.5 459.4,196.6 459.2,196.8 458.9,196.9 458.8,197.2 458.6,197.4 458.5,197.7 458.5,198.0 458.5,198.3 458.6,198.6 458.8,198.8 458.9,199.1 459.2,199.2 459.4,199.4 459.7,199.5 460.0,199.5 460.3,199.5 460.6,199.4 460.8,199.2 461.1,199.1 461.2,198.8 461.4,198.6 461.5,198.3ZM467.5,203.0 467.5,202.8 467.4,202.5 467.2,202.3 467.1,202.2 466.8,202.0 466.6,201.9 466.3,201.8 466.0,201.8 465.7,201.8 465.4,201.9 465.2,202.0 464.9,202.2 464.8,202.3 464.6,202.5 464.5,202.8 464.5,203.0 464.5,203.2 464.6,203.5 464.8,203.7 464.9,203.8 465.2,204.0 465.4,204.1 465.7,204.2 466.0,204.2 466.3,204.2 466.6,204.1 466.8,204.0 467.1,203.8 467.2,203.7 467.4,203.5 467.5,203.2ZM459.2,201.0 459.2,200.8 459.1,200.7 459.0,200.6 458.8,200.4 458.7,200.3 458.5,200.3 458.2,200.2 458.0,200.2 457.8,200.2 457.5,200.3 457.3,200.3 457.2,200.4 457.0,200.6 456.9,200.7 456.8,200.8 456.8,201.0 456.8,201.2 456.9,201.3 457.0,201.4 457.2,201.6 457.3,201.7 457.5,201.7 457.8,201.8 458.0,201.8 458.2,201.8 458.5,201.7 458.7,201.7 458.8,201.6 459.0,201.4 459.1,201.3 459.2,201.2ZM461.8,158.0 461.8,157.8 461.7,157.7 461.7,157.6 461.6,157.4 461.4,157.3 461.3,157.3 461.2,157.2 461.0,157.2 460.8,157.2 460.7,157.3 460.6,157.3 460.4,157.4 460.3,157.6 460.3,157.7 460.2,157.8 460.2,158.0 460.2,158.2 460.3,158.3 460.3,158.4 460.4,158.6 460.6,158.7 460.7,158.7 460.8,158.8 461.0,158.8 461.2,158.8 461.3,158.7 461.4,158.7 461.6,158.6 461.7,158.4 461.7,158.3 461.8,158.2ZM435.6,136.5 435.6,136.0 435.5,135.5 435.3,135.1 435.1,134.7 434.9,134.3 434.6,134.1 434.3,133.9 434.0,133.9 433.7,133.9 433.4,134.1 433.1,134.3 432.9,134.7 432.7,135.1 432.5,135.5 432.4,136.0 432.4,136.5 432.4,137.0 432.5,137.5 432.7,137.9 432.9,138.3 433.1,138.7 433.4,138.9 433.7,139.1 434.0,139.1 434.3,139.1 434.6,138.9 434.9,138.7 435.1,138.3 435.3,137.9 435.5,137.5 435.6,137.0ZM437.3,141.0 437.3,140.8 437.2,140.6 437.2,140.4 437.1,140.3 436.9,140.2 436.8,140.1 436.7,140.0 436.5,140.0 436.3,140.0 436.2,140.1 436.1,140.2 435.9,140.3 435.8,140.4 435.8,140.6 435.7,140.8 435.7,141.0 435.7,141.2 435.8,141.4 435.8,141.6 435.9,141.7 436.1,141.8 436.2,141.9 436.3,142.0 436.5,142.0 436.7,142.0 436.8,141.9 436.9,141.8 437.1,141.7 437.2,141.6 437.2,141.4 437.3,141.2ZM256.5,422.0 256.5,421.6 256.3,421.2 256.1,420.9 255.8,420.6 255.4,420.3 255.0,420.2 254.5,420.0 254.0,420.0 253.5,420.0 253.0,420.2 252.6,420.3 252.2,420.6 251.9,420.9 251.7,421.2 251.5,421.6 251.5,422.0 251.5,422.4 251.7,422.8 251.9,423.1 252.2,423.4 252.6,423.7 253.0,423.8 253.5,424.0 254.0,424.0 254.5,424.0 255.0,423.8 255.4,423.7 255.8,423.4 256.1,423.1 256.3,422.8 256.5,422.4ZM248.8,425.0 248.8,424.7 248.7,424.4 248.5,424.2 248.3,423.9 248.0,423.8 247.7,423.6 247.4,423.5 247.0,423.5 246.6,423.5 246.3,423.6 246.0,423.8 245.7,423.9 245.5,424.2 245.3,424.4 245.2,424.7 245.2,425.0 245.2,425.3 245.3,425.6 245.5,425.8 245.7,426.1 246.0,426.2 246.3,426.4 246.6,426.5 247.0,426.5 247.4,426.5 247.7,426.4 248.0,426.2 248.3,426.1 248.5,425.8 248.7,425.6 248.8,425.3ZM290.5,424.0 290.5,423.6 290.4,423.3 290.2,423.0 290.1,422.7 289.8,422.5 289.6,422.3 289.3,422.2 289.0,422.2 288.7,422.2 288.4,422.3 288.2,422.5 287.9,422.7 287.8,423.0 287.6,423.3 287.5,423.6 287.5,424.0 287.5,424.4 287.6,424.7 287.8,425.0 287.9,425.3 288.2,425.5 288.4,425.7 288.7,425.8 289.0,425.8 289.3,425.8 289.6,425.7 289.8,425.5 290.1,425.3 290.2,425.0 290.4,424.7 290.5,424.4ZM293.5,429.0 293.5,428.8 293.4,428.7 293.2,428.6 293.1,428.4 292.8,428.3 292.6,428.3 292.3,428.2 292.0,428.2 291.7,428.2 291.4,428.3 291.2,428.3 290.9,428.4 290.8,428.6 290.6,428.7 290.5,428.8 290.5,429.0 290.5,429.2 290.6,429.3 290.8,429.4 290.9,429.6 291.2,429.7 291.4,429.7 291.7,429.8 292.0,429.8 292.3,429.8 292.6,429.7 292.8,429.7 293.1,429.6 293.2,429.4 293.4,429.3 293.5,429.2ZM226.2,427.0 226.2,426.7 226.1,426.5 226.0,426.2 225.8,426.0 225.7,425.8 225.5,425.7 225.2,425.6 225.0,425.6 224.8,425.6 224.5,425.7 224.3,425.8 224.2,426.0 224.0,426.2 223.9,426.5 223.8,426.7 223.8,427.0 223.8,427.3 223.9,427.5 224.0,427.8 224.2,428.0 224.3,428.2 224.5,428.3 224.8,428.4 225.0,428.4 225.2,428.4 225.5,428.3 225.7,428.2 225.8,428.0 226.0,427.8 226.1,427.5 226.2,427.3ZM231.0,432.0 231.0,431.8 230.9,431.6 230.8,431.4 230.7,431.3 230.6,431.2 230.4,431.1 230.2,431.0 230.0,431.0 229.8,431.0 229.6,431.1 229.4,431.2 229.3,431.3 229.2,431.4 229.1,431.6 229.0,431.8 229.0,432.0 229.0,432.2 229.1,432.4 229.2,432.6 229.3,432.7 229.4,432.8 229.6,432.9 229.8,433.0 230.0,433.0 230.2,433.0 230.4,432.9 230.6,432.8 230.7,432.7 230.8,432.6 230.9,432.4 231.0,432.2ZM469.5,375.0 469.5,374.7 469.3,374.4 469.1,374.2 468.8,373.9 468.4,373.8 468.0,373.6 467.5,373.5 467.0,373.5 466.5,373.5 466.0,373.6 465.6,373.8 465.2,373.9 464.9,374.2 464.7,374.4 464.5,374.7 464.5,375.0 464.5,375.3 464.7,375.6 464.9,375.8 465.2,376.1 465.6,376.2 466.0,376.4 466.5,376.5 467.0,376.5 467.5,376.5 468.0,376.4 468.4,376.2 468.8,376.1 469.1,375.8 469.3,375.6 469.5,375.3ZM457.3,383.1 457.2,382.9 457.0,382.7 456.7,382.5 456.3,382.4 455.9,382.4 455.4,382.4 455.0,382.5 454.5,382.6 454.0,382.8 453.6,383.0 453.3,383.3 453.0,383.6 452.8,383.9 452.6,384.3 452.6,384.6 452.7,384.9 452.8,385.1 453.0,385.3 453.3,385.5 453.7,385.6 454.1,385.6 454.6,385.6 455.0,385.5 455.5,385.4 456.0,385.2 456.4,385.0 456.7,384.7 457.0,384.4 457.2,384.1 457.4,383.7 457.4,383.4ZM450.5,380.0 450.5,379.8 450.4,379.5 450.2,379.3 450.1,379.2 449.8,379.0 449.6,378.9 449.3,378.8 449.0,378.8 448.7,378.8 448.4,378.9 448.2,379.0 447.9,379.2 447.8,379.3 447.6,379.5 447.5,379.8 447.5,380.0 447.5,380.2 447.6,380.5 447.8,380.7 447.9,380.8 448.2,381.0 448.4,381.1 448.7,381.2 449.0,381.2 449.3,381.2 449.6,381.1 449.8,381.0 450.1,380.8 450.2,380.7 450.4,380.5 450.5,380.2ZM452.3,390.8 452.5,390.4 452.6,390.0 452.6,389.7 452.6,389.3 452.6,389.0 452.4,388.7 452.2,388.4 452.0,388.3 451.7,388.2 451.4,388.1 451.1,388.1 450.8,388.2 450.5,388.4 450.2,388.6 449.9,388.9 449.7,389.2 449.5,389.6 449.4,390.0 449.4,390.3 449.4,390.7 449.4,391.0 449.6,391.3 449.8,391.6 450.0,391.7 450.3,391.8 450.6,391.9 450.9,391.9 451.2,391.8 451.5,391.6 451.8,391.4 452.1,391.1ZM445.3,393.1 445.2,392.9 445.0,392.7 444.7,392.5 444.3,392.4 443.9,392.4 443.4,392.4 443.0,392.5 442.5,392.6 442.0,392.8 441.6,393.0 441.3,393.3 441.0,393.6 440.8,393.9 440.6,394.3 440.6,394.6 440.7,394.9 440.8,395.1 441.0,395.3 441.3,395.5 441.7,395.6 442.1,395.6 442.6,395.6 443.0,395.5 443.5,395.4 444.0,395.2 444.4,395.0 444.7,394.7 445.0,394.4 445.2,394.1 445.4,393.7 445.4,393.4ZM439.2,397.0 439.2,396.8 439.1,396.6 439.0,396.4 438.8,396.3 438.7,396.2 438.5,396.1 438.2,396.0 438.0,396.0 437.8,396.0 437.5,396.1 437.3,396.2 437.2,396.3 437.0,396.4 436.9,396.6 436.8,396.8 436.8,397.0 436.8,397.2 436.9,397.4 437.0,397.6 437.2,397.7 437.3,397.8 437.5,397.9 437.8,398.0 438.0,398.0 438.2,398.0 438.5,397.9 438.7,397.8 438.8,397.7 439.0,397.6 439.1,397.4 439.2,397.2ZM433.2,400.0 433.2,399.7 433.1,399.4 433.0,399.2 432.8,398.9 432.7,398.8 432.5,398.6 432.2,398.5 432.0,398.5 431.8,398.5 431.5,398.6 431.3,398.8 431.2,398.9 431.0,399.2 430.9,399.4 430.8,399.7 430.8,400.0 430.8,400.3 430.9,400.6 431.0,400.8 431.2,401.1 431.3,401.2 431.5,401.4 431.8,401.5 432.0,401.5 432.2,401.5 432.5,401.4 432.7,401.2 432.8,401.1 433.0,400.8 433.1,400.6 433.2,400.3ZM533.3,406.0 533.3,405.5 533.2,405.0 533.1,404.6 532.9,404.2 532.7,403.9 532.5,403.7 532.3,403.5 532.0,403.5 531.7,403.5 531.5,403.7 531.3,403.9 531.1,404.2 530.9,404.6 530.8,405.0 530.7,405.5 530.7,406.0 530.7,406.5 530.8,407.0 530.9,407.4 531.1,407.8 531.3,408.1 531.5,408.3 531.7,408.5 532.0,408.5 532.3,408.5 532.5,408.3 532.7,408.1 532.9,407.8 533.1,407.4 533.2,407.0 533.3,406.5ZM532.2,412.0 532.2,411.6 532.1,411.3 532.0,411.0 531.8,410.7 531.7,410.5 531.5,410.3 531.2,410.2 531.0,410.2 530.8,410.2 530.5,410.3 530.3,410.5 530.2,410.7 530.0,411.0 529.9,411.3 529.8,411.6 529.8,412.0 529.8,412.4 529.9,412.7 530.0,413.0 530.2,413.3 530.3,413.5 530.5,413.7 530.8,413.8 531.0,413.8 531.2,413.8 531.5,413.7 531.7,413.5 531.8,413.3 532.0,413.0 532.1,412.7 532.2,412.4ZM535.8,401.0 535.8,400.8 535.7,400.6 535.7,400.4 535.6,400.3 535.4,400.2 535.3,400.1 535.2,400.0 535.0,400.0 534.8,400.0 534.7,400.1 534.6,400.2 534.4,400.3 534.3,400.4 534.3,400.6 534.2,400.8 534.2,401.0 534.2,401.2 534.3,401.4 534.3,401.6 534.4,401.7 534.6,401.8 534.7,401.9 534.8,402.0 535.0,402.0 535.2,402.0 535.3,401.9 535.4,401.8 535.6,401.7 535.7,401.6 535.7,401.4 535.8,401.2ZM516.5,417.0 516.5,416.6 516.4,416.2 516.2,415.8 516.1,415.4 515.8,415.2 515.6,415.0 515.3,414.8 515.0,414.8 514.7,414.8 514.4,415.0 514.2,415.2 513.9,415.4 513.8,415.8 513.6,416.2 513.5,416.6 513.5,417.0 513.5,417.4 513.6,417.8 513.8,418.2 513.9,418.6 514.2,418.8 514.4,419.0 514.7,419.2 515.0,419.2 515.3,419.2 515.6,419.0 515.8,418.8 516.1,418.6 516.2,418.2 516.4,417.8 516.5,417.4ZM514.2,430.0 514.2,429.7 514.1,429.4 514.0,429.2 513.8,428.9 513.7,428.8 513.5,428.6 513.2,428.5 513.0,428.5 512.8,428.5 512.5,428.6 512.3,428.8 512.2,428.9 512.0,429.2 511.9,429.4 511.8,429.7 511.8,430.0 511.8,430.3 511.9,430.6 512.0,430.8 512.2,431.1 512.3,431.2 512.5,431.4 512.8,431.5 513.0,431.5 513.2,431.5 513.5,431.4 513.7,431.2 513.8,431.1 514.0,430.8 514.1,430.6 514.2,430.3ZM557.5,431.0 557.5,430.8 557.4,430.6 557.2,430.4 557.1,430.3 556.8,430.2 556.6,430.1 556.3,430.0 556.0,430.0 555.7,430.0 555.4,430.1 555.2,430.2 554.9,430.3 554.8,430.4 554.6,430.6 554.5,430.8 554.5,431.0 554.5,431.2 554.6,431.4 554.8,431.6 554.9,431.7 555.2,431.8 555.4,431.9 555.7,432.0 556.0,432.0 556.3,432.0 556.6,431.9 556.8,431.8 557.1,431.7 557.2,431.6 557.4,431.4 557.5,431.2ZM403.5,367.0 403.5,366.7 403.4,366.4 403.2,366.2 403.1,365.9 402.8,365.8 402.6,365.6 402.3,365.5 402.0,365.5 401.7,365.5 401.4,365.6 401.2,365.8 400.9,365.9 400.8,366.2 400.6,366.4 400.5,366.7 400.5,367.0 400.5,367.3 400.6,367.6 400.8,367.8 400.9,368.1 401.2,368.2 401.4,368.4 401.7,368.5 402.0,368.5 402.3,368.5 402.6,368.4 402.8,368.2 403.1,368.1 403.2,367.8 403.4,367.6 403.5,367.3ZM443.2,298.8 442.9,298.5 442.7,298.2 442.3,298.1 441.9,298.0 441.5,298.0 441.0,298.1 440.5,298.2 440.1,298.4 439.7,298.7 439.3,299.0 439.0,299.4 438.8,299.8 438.7,300.2 438.7,300.6 438.7,300.9 438.8,301.2 439.1,301.5 439.3,301.8 439.7,301.9 440.1,302.0 440.5,302.0 441.0,301.9 441.5,301.8 441.9,301.6 442.3,301.3 442.7,301.0 443.0,300.6 443.2,300.2 443.3,299.8 443.3,299.4 443.3,299.1ZM434.3,319.0 434.3,318.6 434.2,318.2 434.1,317.9 433.9,317.6 433.7,317.3 433.5,317.2 433.3,317.0 433.0,317.0 432.7,317.0 432.5,317.2 432.3,317.3 432.1,317.6 431.9,317.9 431.8,318.2 431.7,318.6 431.7,319.0 431.7,319.4 431.8,319.8 431.9,320.1 432.1,320.4 432.3,320.7 432.5,320.8 432.7,321.0 433.0,321.0 433.3,321.0 433.5,320.8 433.7,320.7 433.9,320.4 434.1,320.1 434.2,319.8 434.3,319.4ZM437.5,322.0 437.5,321.8 437.4,321.6 437.2,321.4 437.1,321.3 436.8,321.2 436.6,321.1 436.3,321.0 436.0,321.0 435.7,321.0 435.4,321.1 435.2,321.2 434.9,321.3 434.8,321.4 434.6,321.6 434.5,321.8 434.5,322.0 434.5,322.2 434.6,322.4 434.8,322.6 434.9,322.7 435.2,322.8 435.4,322.9 435.7,323.0 436.0,323.0 436.3,323.0 436.6,322.9 436.8,322.8 437.1,322.7 437.2,322.6 437.4,322.4 437.5,322.2ZM517.3,328.0 517.3,327.4 517.2,326.9 517.1,326.3 516.9,325.9 516.7,325.5 516.5,325.2 516.3,325.1 516.0,325.0 515.7,325.1 515.5,325.2 515.3,325.5 515.1,325.9 514.9,326.3 514.8,326.9 514.7,327.4 514.7,328.0 514.7,328.6 514.8,329.1 514.9,329.7 515.1,330.1 515.3,330.5 515.5,330.8 515.7,330.9 516.0,331.0 516.3,330.9 516.5,330.8 516.7,330.5 516.9,330.1 517.1,329.7 517.2,329.1 517.3,328.6ZM522.2,332.0 522.2,331.7 522.1,331.4 522.0,331.2 521.8,330.9 521.7,330.8 521.5,330.6 521.2,330.5 521.0,330.5 520.8,330.5 520.5,330.6 520.3,330.8 520.2,330.9 520.0,331.2 519.9,331.4 519.8,331.7 519.8,332.0 519.8,332.3 519.9,332.6 520.0,332.8 520.2,333.1 520.3,333.2 520.5,333.4 520.8,333.5 521.0,333.5 521.2,333.5 521.5,333.4 521.7,333.2 521.8,333.1 522.0,332.8 522.1,332.6 522.2,332.3ZM490.0,340.0 490.0,339.8 489.9,339.6 489.8,339.4 489.7,339.3 489.6,339.2 489.4,339.1 489.2,339.0 489.0,339.0 488.8,339.0 488.6,339.1 488.4,339.2 488.3,339.3 488.2,339.4 488.1,339.6 488.0,339.8 488.0,340.0 488.0,340.2 488.1,340.4 488.2,340.6 488.3,340.7 488.4,340.8 488.6,340.9 488.8,341.0 489.0,341.0 489.2,341.0 489.4,340.9 489.6,340.8 489.7,340.7 489.8,340.6 489.9,340.4 490.0,340.2ZM506.0,340.0 506.0,339.8 505.9,339.6 505.8,339.4 505.7,339.3 505.6,339.2 505.4,339.1 505.2,339.0 505.0,339.0 504.8,339.0 504.6,339.1 504.4,339.2 504.3,339.3 504.2,339.4 504.1,339.6 504.0,339.8 504.0,340.0 504.0,340.2 504.1,340.4 504.2,340.6 504.3,340.7 504.4,340.8 504.6,340.9 504.8,341.0 505.0,341.0 505.2,341.0 505.4,340.9 505.6,340.8 505.7,340.7 505.8,340.6 505.9,340.4 506.0,340.2ZM230.0,452.0 229.9,451.5 229.8,451.0 229.5,450.6 229.1,450.2 228.7,449.9 228.1,449.7 227.6,449.5 227.0,449.5 226.4,449.5 225.9,449.7 225.3,449.9 224.9,450.2 224.5,450.6 224.2,451.0 224.1,451.5 224.0,452.0 224.1,452.5 224.2,453.0 224.5,453.4 224.9,453.8 225.3,454.1 225.9,454.3 226.4,454.5 227.0,454.5 227.6,454.5 228.1,454.3 228.7,454.1 229.1,453.8 229.5,453.4 229.8,453.0 229.9,452.5ZM224.5,456.0 224.5,455.6 224.3,455.2 224.1,454.9 223.8,454.6 223.4,454.3 223.0,454.2 222.5,454.0 222.0,454.0 221.5,454.0 221.0,454.2 220.6,454.3 220.2,454.6 219.9,454.9 219.7,455.2 219.5,455.6 219.5,456.0 219.5,456.4 219.7,456.8 219.9,457.1 220.2,457.4 220.6,457.7 221.0,457.8 221.5,458.0 222.0,458.0 222.5,458.0 223.0,457.8 223.4,457.7 223.8,457.4 224.1,457.1 224.3,456.8 224.5,456.4ZM233.5,458.0 233.5,457.4 233.3,456.9 233.1,456.3 232.8,455.9 232.4,455.5 232.0,455.2 231.5,455.1 231.0,455.0 230.5,455.1 230.0,455.2 229.6,455.5 229.2,455.9 228.9,456.3 228.7,456.9 228.5,457.4 228.5,458.0 228.5,458.6 228.7,459.1 228.9,459.7 229.2,460.1 229.6,460.5 230.0,460.8 230.5,460.9 231.0,461.0 231.5,460.9 232.0,460.8 232.4,460.5 232.8,460.1 233.1,459.7 233.3,459.1 233.5,458.6ZM229.0,462.0 228.9,461.6 228.8,461.2 228.5,460.9 228.1,460.6 227.7,460.3 227.1,460.2 226.6,460.0 226.0,460.0 225.4,460.0 224.9,460.2 224.3,460.3 223.9,460.6 223.5,460.9 223.2,461.2 223.1,461.6 223.0,462.0 223.1,462.4 223.2,462.8 223.5,463.1 223.9,463.4 224.3,463.7 224.9,463.8 225.4,464.0 226.0,464.0 226.6,464.0 227.1,463.8 227.7,463.7 228.1,463.4 228.5,463.1 228.8,462.8 228.9,462.4ZM236.5,452.0 236.5,451.8 236.4,451.5 236.2,451.3 236.1,451.2 235.8,451.0 235.6,450.9 235.3,450.8 235.0,450.8 234.7,450.8 234.4,450.9 234.2,451.0 233.9,451.2 233.8,451.3 233.6,451.5 233.5,451.8 233.5,452.0 233.5,452.2 233.6,452.5 233.8,452.7 233.9,452.8 234.2,453.0 234.4,453.1 234.7,453.2 235.0,453.2 235.3,453.2 235.6,453.1 235.8,453.0 236.1,452.8 236.2,452.7 236.4,452.5 236.5,452.2ZM219.5,450.0 219.5,449.8 219.4,449.5 219.2,449.3 219.1,449.2 218.8,449.0 218.6,448.9 218.3,448.8 218.0,448.8 217.7,448.8 217.4,448.9 217.2,449.0 216.9,449.2 216.8,449.3 216.6,449.5 216.5,449.8 216.5,450.0 216.5,450.2 216.6,450.5 216.8,450.7 216.9,450.8 217.2,451.0 217.4,451.1 217.7,451.2 218.0,451.2 218.3,451.2 218.6,451.1 218.8,451.0 219.1,450.8 219.2,450.7 219.4,450.5 219.5,450.2ZM205.2,450.2 205.3,449.9 205.4,449.5 205.4,449.1 205.2,448.7 205.0,448.3 204.8,447.9 204.4,447.5 204.0,447.3 203.6,447.1 203.1,446.9 202.6,446.9 202.2,446.9 201.8,447.0 201.4,447.2 201.1,447.4 200.8,447.8 200.7,448.1 200.6,448.5 200.6,448.9 200.8,449.3 201.0,449.7 201.2,450.1 201.6,450.5 202.0,450.7 202.4,450.9 202.9,451.1 203.4,451.1 203.8,451.1 204.2,451.0 204.6,450.8 204.9,450.6ZM209.2,454.2 209.3,453.9 209.3,453.6 209.3,453.2 209.2,452.8 209.0,452.4 208.7,452.0 208.3,451.7 207.9,451.4 207.5,451.2 207.0,451.1 206.5,451.0 206.1,451.0 205.7,451.1 205.3,451.2 205.1,451.5 204.8,451.8 204.7,452.1 204.7,452.4 204.7,452.8 204.8,453.2 205.0,453.6 205.3,454.0 205.7,454.3 206.1,454.6 206.5,454.8 207.0,454.9 207.5,455.0 207.9,455.0 208.3,454.9 208.7,454.8 208.9,454.5ZM200.5,446.0 200.5,445.7 200.4,445.4 200.2,445.2 200.1,444.9 199.8,444.8 199.6,444.6 199.3,444.5 199.0,444.5 198.7,444.5 198.4,444.6 198.2,444.8 197.9,444.9 197.8,445.2 197.6,445.4 197.5,445.7 197.5,446.0 197.5,446.3 197.6,446.6 197.8,446.8 197.9,447.1 198.2,447.2 198.4,447.4 198.7,447.5 199.0,447.5 199.3,447.5 199.6,447.4 199.8,447.2 200.1,447.1 200.2,446.8 200.4,446.6 200.5,446.3ZM214.1,457.8 214.1,457.5 214.1,457.2 214.0,456.8 213.8,456.5 213.6,456.2 213.3,456.0 212.9,455.8 212.5,455.6 212.1,455.5 211.7,455.4 211.3,455.4 210.9,455.5 210.6,455.6 210.3,455.8 210.1,456.0 209.9,456.2 209.9,456.5 209.9,456.8 210.0,457.2 210.2,457.5 210.4,457.8 210.7,458.0 211.1,458.2 211.5,458.4 211.9,458.5 212.3,458.6 212.7,458.6 213.1,458.5 213.4,458.4 213.7,458.2 213.9,458.0ZM468.2,281.7 468.2,281.4 468.1,281.1 467.9,280.9 467.7,280.6 467.5,280.5 467.2,280.3 466.9,280.2 466.6,280.2 466.3,280.2 466.0,280.3 465.7,280.5 465.5,280.6 465.3,280.9 465.1,281.1 465.0,281.4 465.0,281.7 465.0,282.0 465.1,282.3 465.3,282.5 465.5,282.8 465.7,282.9 466.0,283.1 466.3,283.2 466.6,283.2 466.9,283.2 467.2,283.1 467.5,282.9 467.7,282.8 467.9,282.5 468.1,282.3 468.2,282.0ZM469.2,295.0 469.2,294.8 469.1,294.6 469.0,294.4 468.8,294.3 468.7,294.2 468.5,294.1 468.2,294.0 468.0,294.0 467.8,294.0 467.5,294.1 467.3,294.2 467.2,294.3 467.0,294.4 466.9,294.6 466.8,294.8 466.8,295.0 466.8,295.2 466.9,295.4 467.0,295.6 467.2,295.7 467.3,295.8 467.5,295.9 467.8,296.0 468.0,296.0 468.2,296.0 468.5,295.9 468.7,295.8 468.8,295.7 469.0,295.6 469.1,295.4 469.2,295.2ZM473.0,295.5 473.0,295.3 472.9,295.1 472.8,294.9 472.7,294.8 472.6,294.7 472.4,294.6 472.2,294.5 472.0,294.5 471.8,294.5 471.6,294.6 471.4,294.7 471.3,294.8 471.2,294.9 471.1,295.1 471.0,295.3 471.0,295.5 471.0,295.7 471.1,295.9 471.2,296.1 471.3,296.2 471.4,296.3 471.6,296.4 471.8,296.5 472.0,296.5 472.2,296.5 472.4,296.4 472.6,296.3 472.7,296.2 472.8,296.1 472.9,295.9 473.0,295.7ZM476.7,296.0 476.7,295.8 476.6,295.5 476.5,295.3 476.3,295.2 476.2,295.0 476.0,294.9 475.7,294.8 475.5,294.8 475.3,294.8 475.0,294.9 474.8,295.0 474.7,295.2 474.5,295.3 474.4,295.5 474.3,295.8 474.3,296.0 474.3,296.2 474.4,296.5 474.5,296.7 474.7,296.8 474.8,297.0 475.0,297.1 475.3,297.2 475.5,297.2 475.7,297.2 476.0,297.1 476.2,297.0 476.3,296.8 476.5,296.7 476.6,296.5 476.7,296.2ZM481.9,283.5 481.6,283.1 481.4,282.8 481.1,282.5 480.8,282.3 480.6,282.1 480.3,282.0 480.1,282.0 479.9,282.1 479.8,282.2 479.7,282.4 479.6,282.7 479.6,283.0 479.7,283.4 479.8,283.7 479.9,284.1 480.1,284.5 480.4,284.9 480.6,285.2 480.9,285.5 481.2,285.7 481.4,285.9 481.7,286.0 481.9,286.0 482.1,285.9 482.2,285.8 482.3,285.6 482.4,285.3 482.4,285.0 482.3,284.6 482.2,284.3 482.1,283.9ZM486.3,290.7 486.2,290.4 486.0,290.1 485.9,289.8 485.7,289.6 485.5,289.4 485.3,289.3 485.1,289.3 484.9,289.3 484.7,289.4 484.6,289.6 484.5,289.8 484.5,290.0 484.5,290.3 484.5,290.6 484.6,291.0 484.7,291.3 484.8,291.6 485.0,291.9 485.1,292.2 485.3,292.4 485.5,292.6 485.7,292.7 485.9,292.7 486.1,292.7 486.3,292.6 486.4,292.4 486.5,292.2 486.5,292.0 486.5,291.7 486.5,291.4 486.4,291.0ZM504.2,311.0 504.2,310.8 504.1,310.5 504.0,310.3 503.8,310.2 503.7,310.0 503.5,309.9 503.2,309.8 503.0,309.8 502.8,309.8 502.5,309.9 502.3,310.0 502.2,310.2 502.0,310.3 501.9,310.5 501.8,310.8 501.8,311.0 501.8,311.2 501.9,311.5 502.0,311.7 502.2,311.8 502.3,312.0 502.5,312.1 502.8,312.2 503.0,312.2 503.2,312.2 503.5,312.1 503.7,312.0 503.8,311.8 504.0,311.7 504.1,311.5 504.2,311.2ZM479.8,322.0 479.8,321.7 479.7,321.4 479.6,321.1 479.4,320.9 479.2,320.7 479.0,320.5 478.8,320.4 478.5,320.4 478.2,320.4 478.0,320.5 477.8,320.7 477.6,320.9 477.4,321.1 477.3,321.4 477.2,321.7 477.2,322.0 477.2,322.3 477.3,322.6 477.4,322.9 477.6,323.1 477.8,323.3 478.0,323.5 478.2,323.6 478.5,323.6 478.8,323.6 479.0,323.5 479.2,323.3 479.4,323.1 479.6,322.9 479.7,322.6 479.8,322.3ZM475.0,300.0 475.0,299.8 474.9,299.6 474.8,299.4 474.7,299.3 474.6,299.2 474.4,299.1 474.2,299.0 474.0,299.0 473.8,299.0 473.6,299.1 473.4,299.2 473.3,299.3 473.2,299.4 473.1,299.6 473.0,299.8 473.0,300.0 473.0,300.2 473.1,300.4 473.2,300.6 473.3,300.7 473.4,300.8 473.6,300.9 473.8,301.0 474.0,301.0 474.2,301.0 474.4,300.9 474.6,300.8 474.7,300.7 474.8,300.6 474.9,300.4 475.0,300.2ZM496.0,306.0 496.0,305.6 495.9,305.2 495.8,304.9 495.7,304.6 495.6,304.3 495.4,304.2 495.2,304.0 495.0,304.0 494.8,304.0 494.6,304.2 494.4,304.3 494.3,304.6 494.2,304.9 494.1,305.2 494.0,305.6 494.0,306.0 494.0,306.4 494.1,306.8 494.2,307.1 494.3,307.4 494.4,307.7 494.6,307.8 494.8,308.0 495.0,308.0 495.2,308.0 495.4,307.8 495.6,307.7 495.7,307.4 495.8,307.1 495.9,306.8 496.0,306.4ZM499.0,300.0 499.0,299.7 498.9,299.4 498.8,299.2 498.7,298.9 498.6,298.8 498.4,298.6 498.2,298.5 498.0,298.5 497.8,298.5 497.6,298.6 497.4,298.8 497.3,298.9 497.2,299.2 497.1,299.4 497.0,299.7 497.0,300.0 497.0,300.3 497.1,300.6 497.2,300.8 497.3,301.1 497.4,301.2 497.6,301.4 497.8,301.5 498.0,301.5 498.2,301.5 498.4,301.4 498.6,301.2 498.7,301.1 498.8,300.8 498.9,300.6 499.0,300.3ZM487.0,312.0 487.0,311.8 486.9,311.6 486.8,311.4 486.7,311.3 486.6,311.2 486.4,311.1 486.2,311.0 486.0,311.0 485.8,311.0 485.6,311.1 485.4,311.2 485.3,311.3 485.2,311.4 485.1,311.6 485.0,311.8 485.0,312.0 485.0,312.2 485.1,312.4 485.2,312.6 485.3,312.7 485.4,312.8 485.6,312.9 485.8,313.0 486.0,313.0 486.2,313.0 486.4,312.9 486.6,312.8 486.7,312.7 486.8,312.6 486.9,312.4 487.0,312.2ZM494.2,296.0 494.2,295.8 494.1,295.6 494.0,295.4 493.8,295.3 493.7,295.2 493.5,295.1 493.2,295.0 493.0,295.0 492.8,295.0 492.5,295.1 492.3,295.2 492.2,295.3 492.0,295.4 491.9,295.6 491.8,295.8 491.8,296.0 491.8,296.2 491.9,296.4 492.0,296.6 492.2,296.7 492.3,296.8 492.5,296.9 492.8,297.0 493.0,297.0 493.2,297.0 493.5,296.9 493.7,296.8 493.8,296.7 494.0,296.6 494.1,296.4 494.2,296.2ZM385.4,39.4 385.3,39.2 385.2,39.1 384.9,39.0 384.6,39.0 384.2,39.0 383.7,39.0 383.3,39.1 382.8,39.2 382.3,39.4 381.9,39.5 381.5,39.7 381.1,39.9 380.9,40.1 380.7,40.3 380.6,40.5 380.6,40.6 380.7,40.8 380.8,40.9 381.1,41.0 381.4,41.0 381.8,41.0 382.3,41.0 382.7,40.9 383.2,40.8 383.7,40.6 384.1,40.5 384.5,40.3 384.9,40.1 385.1,39.9 385.3,39.7 385.4,39.5ZM392.0,39.5 392.0,39.4 391.8,39.2 391.7,39.1 391.4,39.0 391.1,38.9 390.8,38.9 390.4,38.8 390.0,38.8 389.6,38.8 389.2,38.9 388.9,38.9 388.6,39.0 388.3,39.1 388.2,39.2 388.0,39.4 388.0,39.5 388.0,39.6 388.2,39.8 388.3,39.9 388.6,40.0 388.9,40.1 389.2,40.1 389.6,40.2 390.0,40.2 390.4,40.2 390.8,40.1 391.1,40.1 391.4,40.0 391.7,39.9 391.8,39.8 392.0,39.6ZM427.4,44.5 427.3,44.4 427.2,44.2 427.0,44.2 426.8,44.1 426.6,44.1 426.3,44.1 426.0,44.2 425.7,44.2 425.5,44.4 425.2,44.5 425.0,44.7 424.8,44.8 424.7,45.0 424.6,45.2 424.6,45.4 424.6,45.5 424.7,45.6 424.8,45.8 425.0,45.8 425.2,45.9 425.4,45.9 425.7,45.9 426.0,45.8 426.3,45.8 426.5,45.6 426.8,45.5 427.0,45.3 427.2,45.2 427.3,45.0 427.4,44.8 427.4,44.6ZM353.4,150.0 353.4,149.0 353.3,148.1 353.2,147.2 353.0,146.5 352.8,145.8 352.5,145.4 352.3,145.1 352.0,145.0 351.7,145.1 351.5,145.4 351.2,145.8 351.0,146.5 350.8,147.2 350.7,148.1 350.6,149.0 350.6,150.0 350.6,151.0 350.7,151.9 350.8,152.8 351.0,153.5 351.2,154.2 351.5,154.6 351.7,154.9 352.0,155.0 352.3,154.9 352.5,154.6 352.8,154.2 353.0,153.5 353.2,152.8 353.3,151.9 353.4,151.0ZM346.4,151.0 346.4,150.5 346.3,150.0 346.2,149.6 346.1,149.2 346.0,148.9 345.8,148.7 345.7,148.5 345.5,148.5 345.3,148.5 345.2,148.7 345.0,148.9 344.9,149.2 344.8,149.6 344.7,150.0 344.6,150.5 344.6,151.0 344.6,151.5 344.7,152.0 344.8,152.4 344.9,152.8 345.0,153.1 345.2,153.3 345.3,153.5 345.5,153.5 345.7,153.5 345.8,153.3 346.0,153.1 346.1,152.8 346.2,152.4 346.3,152.0 346.4,151.5ZM305.8,318.0 305.8,317.8 305.7,317.7 305.7,317.6 305.6,317.4 305.4,317.3 305.3,317.3 305.2,317.2 305.0,317.2 304.8,317.2 304.7,317.3 304.6,317.3 304.4,317.4 304.3,317.6 304.3,317.7 304.2,317.8 304.2,318.0 304.2,318.2 304.3,318.3 304.3,318.4 304.4,318.6 304.6,318.7 304.7,318.7 304.8,318.8 305.0,318.8 305.2,318.8 305.3,318.7 305.4,318.7 305.6,318.6 305.7,318.4 305.7,318.3 305.8,318.2ZM365.6,320.0 365.6,319.8 365.6,319.6 365.5,319.4 365.4,319.3 365.3,319.2 365.2,319.1 365.1,319.0 365.0,319.0 364.9,319.0 364.8,319.1 364.7,319.2 364.6,319.3 364.5,319.4 364.4,319.6 364.4,319.8 364.4,320.0 364.4,320.2 364.4,320.4 364.5,320.6 364.6,320.7 364.7,320.8 364.8,320.9 364.9,321.0 365.0,321.0 365.1,321.0 365.2,320.9 365.3,320.8 365.4,320.7 365.5,320.6 365.6,320.4 365.6,320.2ZM378.8,337.0 378.8,336.9 378.7,336.8 378.7,336.7 378.6,336.6 378.4,336.5 378.3,336.4 378.2,336.4 378.0,336.4 377.8,336.4 377.7,336.4 377.6,336.5 377.4,336.6 377.3,336.7 377.3,336.8 377.2,336.9 377.2,337.0 377.2,337.1 377.3,337.2 377.3,337.3 377.4,337.4 377.6,337.5 377.7,337.6 377.8,337.6 378.0,337.6 378.2,337.6 378.3,337.6 378.4,337.5 378.6,337.4 378.7,337.3 378.7,337.2 378.8,337.1Z" fill="#000" stroke="#000" stroke-width="0.6"/><path d="M466.6,38.6 465.2,40.6 461.6,46.6 459.9,52.6 463.1,58.6 461.6,62.6 456.3,67.0 449.2,70.6 446.6,76.6 445.6,83.0 440.6,86.6 434.9,90.2 435.6,93.6 437.6,98.6 438.5,104.5 434.6,108.6 431.3,111.6 428.6,114.6 420.6,119.6 412.6,124.6 406.6,131.6 399.6,136.6 393.6,143.6 386.6,146.6 376.6,147.6 367.6,150.6 360.6,155.6 350.6,157.6 343.6,161.6 340.6,161.2 333.1,163.1 326.6,164.6 320.6,166.2 314.6,169.6M301.6,167.6 298.6,164.6 294.6,166.2 289.6,164.6 284.6,163.1 278.1,164.6 272.6,166.6 268.6,171.6 259.6,174.6M396.6,370.6 400.6,367.6 405.6,375.6 408.6,382.6 414.6,387.6 422.6,390.6 430.6,394.6 426.6,397.6 418.6,399.6 415.6,403.6 410.6,408.6 408.6,416.6 405.6,420.6 408.6,428.6 410.6,436.6" fill="none" stroke="#000" stroke-width="3.2" stroke-dasharray="3.5 1.8 5.5 1.2 2.5 2.2 7 1.5" stroke-linejoin="round"/><path d="M272.7,163.4 265.4,160.2 259.8,154.5 261.4,148.1 255.8,145.7 249.4,144.9 241.4,139.3 235.7,142.5 232.5,146.5 225.3,148.1 220.5,150.5 216.5,148.1 212.4,149.7 207.6,150.5 202.8,148.9 199.6,152.9 195.6,152.1 190.8,153.7 189.9,160.2 192.4,165.0 191.6,170.6 185.9,170.6 184.3,164.2 180.3,165.8 175.5,167.4 171.5,166.6 169.1,161.8 165.9,158.6 159.4,157.8 157.8,153.7 161.8,148.1 161.0,143.3 155.4,143.3M199.6,152.9 204.4,158.6 208.4,163.4 208.4,169.8 212.4,175.4 218.9,177.0 223.7,174.6 228.5,177.0 230.9,181.8 234.9,185.9 235.7,190.7 231.7,193.1 226.1,193.9 222.9,197.9 228.5,201.1 234.9,204.3 240.6,207.6 231.0,204.0 237.0,209.0 242.0,216.0 247.0,222.0 253.0,226.0 257.0,231.0 261.0,238.0 265.0,243.0 270.0,247.0 268.0,253.0 272.0,257.0 271.0,262.0 268.0,266.0M185.1,167.4 180.3,168.2 177.1,173.8 173.1,177.8 169.9,181.8 172.3,185.9 175.5,190.7 175.5,194.7 181.1,194.7 185.9,195.5 186.7,201.9 186.0,200.0 183.0,210.0 181.0,221.0 186.0,223.0 191.0,219.0 197.0,214.0 204.0,216.0 210.0,214.0 215.0,211.0 221.0,212.0 226.0,218.0 231.0,222.0 235.0,228.0 234.0,236.0 238.0,243.0 243.0,248.0 246.0,252.0 244.0,260.0 241.0,266.0 239.0,270.0M169.9,181.8 165.9,183.5 161.0,183.5 157.8,185.9 155.4,187.5M206.0,300.0 203.0,294.0 201.0,286.0 202.0,280.0 206.0,276.0 209.0,270.0 215.0,268.0 223.0,267.0 233.0,267.0 239.0,270.0 244.0,272.0 249.0,273.0 253.0,268.0 257.0,265.0 263.0,267.0 268.0,266.0 269.0,274.0 272.0,280.0 270.0,288.0 271.0,294.0 265.0,298.0 259.0,302.0 257.0,306.0 251.0,305.0 249.0,312.0 243.0,318.0 237.0,322.0 231.0,323.0M155.0,274.0 158.0,282.0 160.0,290.0 162.0,300.0 158.0,310.0 155.0,318.0M172.0,377.0 176.0,378.0 180.0,381.0 183.0,387.0 187.0,385.0 195.0,384.0 198.0,381.0M299.0,440.0 304.0,448.0 310.0,453.0 320.0,451.0 330.0,450.0 336.0,445.0 344.0,444.0 352.0,448.0 360.0,446.0 367.0,444.0 370.0,436.0 374.0,430.0 378.0,422.0 380.0,414.0 382.0,408.0 390.0,406.4 400.0,407.0 408.0,408.0M361.0,404.0 368.0,411.0 372.0,405.0 373.0,399.0M375.0,399.0 376.0,406.0 378.0,400.0M306.0,136.0 309.0,138.0 313.0,138.5 318.0,138.0 323.0,137.0" stroke="#000" stroke-width="1" fill="none" stroke-linejoin="round"/></g>
</g>
<path d="M168.5,38v5M168.5,465v-5M195.5,38v5M195.5,465v-5M222.5,38v5M222.5,465v-5M249.5,38v5M249.5,465v-5M277.5,38v5M277.5,465v-5M304.5,38v5M304.5,465v-5M331.5,38v5M331.5,465v-5M358.5,38v5M358.5,465v-5M385.5,38v5M385.5,465v-5M413.5,38v5M413.5,465v-5M440.5,38v5M440.5,465v-5M467.5,38v5M467.5,465v-5M494.5,38v5M494.5,465v-5M521.5,38v5M521.5,465v-5M549.5,38v5M549.5,465v-5M155,438.5h5M575,438.5h-5M155,411.5h5M575,411.5h-5M155,384.5h5M575,384.5h-5M155,356.5h5M575,356.5h-5M155,329.5h5M575,329.5h-5M155,301.5h5M575,301.5h-5M155,273.5h5M575,273.5h-5M155,245.5h5M575,245.5h-5M155,217.5h5M575,217.5h-5M155,188.5h5M575,188.5h-5M155,159.5h5M575,159.5h-5M155,129.5h5M575,129.5h-5M155,99.5h5M575,99.5h-5M155,69.5h5M575,69.5h-5M155,37.5h5M575,37.5h-5" stroke="#000" stroke-width="1" fill="none" shape-rendering="crispEdges"/>
<rect x="154" y="37" width="422" height="429" fill="none" stroke="#000" stroke-width="2" shape-rendering="crispEdges"/>
<rect x="245" y="524" width="242" height="13" fill="url(#cb)"/><rect x="245" y="524" width="2" height="13" fill="#000"/>
<g font-family="Liberation Sans, Arial, sans-serif" fill="#000058"><text x="365" y="19.5" font-size="13.2" textLength="254" lengthAdjust="spacingAndGlyphs" text-anchor="middle">Significant Wave Height with Wave Direction</text><text x="366" y="31.5" font-size="12.2" textLength="187" lengthAdjust="spacingAndGlyphs" font-style="italic" text-anchor="middle">Valid For Dec-28-2016 18:00 GMT</text><text x="158" y="483" font-size="10.4" font-style="italic" fill="#000">100 E</text><text x="226" y="483" font-size="10.4" font-style="italic" fill="#000">105 E</text><text x="294" y="483" font-size="10.4" font-style="italic" fill="#000">110 E</text><text x="362" y="483" font-size="10.4" font-style="italic" fill="#000">115 E</text><text x="430" y="483" font-size="10.4" font-style="italic" fill="#000">120 E</text><text x="497" y="483" font-size="10.4" font-style="italic" fill="#000">125 E</text><text x="565" y="483" font-size="10.4" font-style="italic" fill="#000">130 E</text><text x="583.5" y="42" font-size="10.4" font-style="italic" fill="#000">30 N</text><text x="583.5" y="119" font-size="10.4" font-style="italic" fill="#000">25 N</text><text x="583.5" y="192" font-size="10.4" font-style="italic" fill="#000">20 N</text><text x="583.5" y="263" font-size="10.4" font-style="italic" fill="#000">15 N</text><text x="583.5" y="333" font-size="10.4" font-style="italic" fill="#000">10 N</text><text x="583.5" y="400" font-size="10.4" font-style="italic" fill="#000">5 N</text><text x="583.5" y="469" font-size="10.4" font-style="italic" fill="#000">0</text><text x="155.5" y="496.5" font-size="11">oceanweather inc.</text><text x="575.5" y="494" font-size="7.4" font-style="italic" text-anchor="end">Plotted at Dec 28, 2016 15:43 GMT</text><text x="365" y="509" font-size="9.5" fill="#000078" text-anchor="middle">Significant Wave Height (Meters)</text><text x="365" y="556.5" font-size="9.5" fill="#000078" text-anchor="middle">Significant Wave Height (Feet)</text><text x="246.5" y="521" font-size="9.5" fill="#000070" text-anchor="middle">0</text><text x="266.4" y="521" font-size="9.5" fill="#000070" text-anchor="middle">1</text><text x="286.2" y="521" font-size="9.5" fill="#000070" text-anchor="middle">2</text><text x="306.1" y="521" font-size="9.5" fill="#000070" text-anchor="middle">3</text><text x="325.9" y="521" font-size="9.5" fill="#000070" text-anchor="middle">4</text><text x="345.8" y="521" font-size="9.5" fill="#000070" text-anchor="middle">5</text><text x="365.6" y="521" font-size="9.5" fill="#000070" text-anchor="middle">6</text><text x="385.5" y="521" font-size="9.5" fill="#000070" text-anchor="middle">7</text><text x="405.3" y="521" font-size="9.5" fill="#000070" text-anchor="middle">8</text><text x="425.1" y="521" font-size="9.5" fill="#000070" text-anchor="middle">9</text><text x="445.0" y="521" font-size="9.5" fill="#000070" text-anchor="middle">10</text><text x="464.9" y="521" font-size="9.5" fill="#000070" text-anchor="middle">11</text><text x="484.7" y="521" font-size="9.5" fill="#000070" text-anchor="middle">12</text><text x="246.5" y="545" font-size="9.5" fill="#000070" text-anchor="middle">0</text><text x="276.6" y="545" font-size="9.5" fill="#000070" text-anchor="middle">5</text><text x="306.8" y="545" font-size="9.5" fill="#000070" text-anchor="middle">10</text><text x="336.9" y="545" font-size="9.5" fill="#000070" text-anchor="middle">15</text><text x="367.1" y="545" font-size="9.5" fill="#000070" text-anchor="middle">20</text><text x="397.2" y="545" font-size="9.5" fill="#000070" text-anchor="middle">25</text><text x="427.4" y="545" font-size="9.5" fill="#000070" text-anchor="middle">30</text><text x="457.6" y="545" font-size="9.5" fill="#000070" text-anchor="middle">35</text><text x="487.7" y="545" font-size="9.5" fill="#000070" text-anchor="middle">40</text></g>
</svg></body></html>
